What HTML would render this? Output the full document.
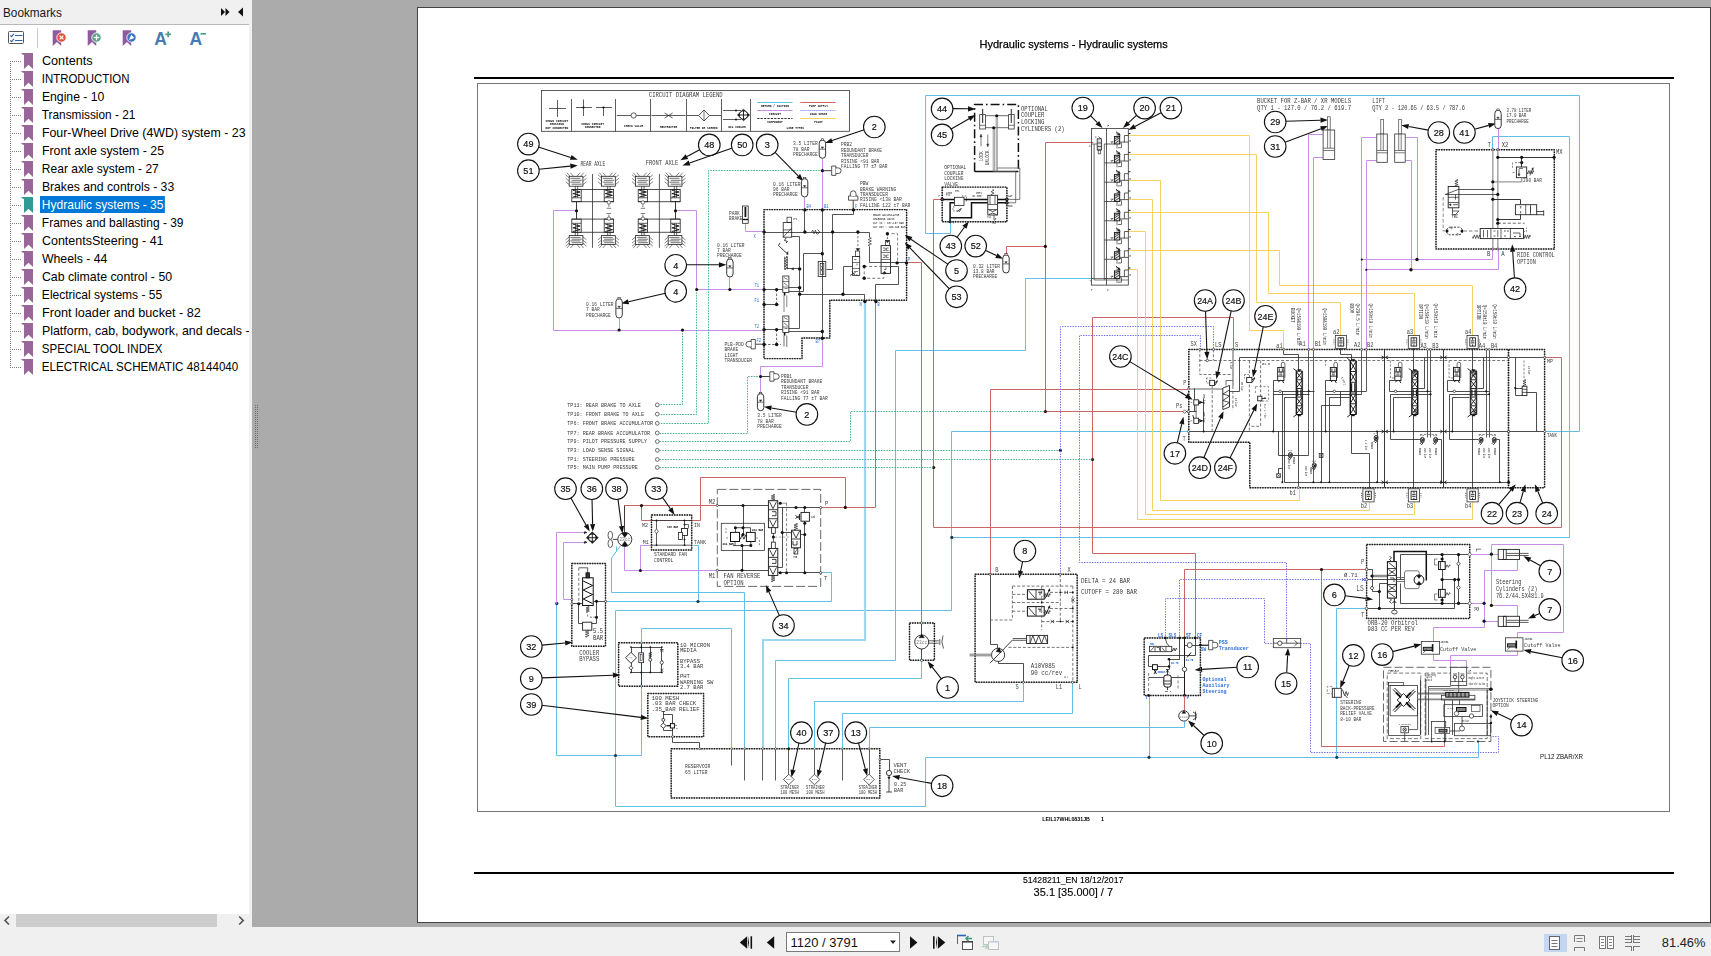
<!DOCTYPE html>
<html><head><meta charset="utf-8"><title>Hydraulic systems</title>
<style>
*{box-sizing:border-box;margin:0;padding:0}
html,body{width:1711px;height:956px;overflow:hidden;background:#ababab;font-family:"Liberation Sans",sans-serif}
#left{position:absolute;left:0;top:0;width:252px;height:927px;background:#f0f0f0;overflow:hidden}
#lhead{position:absolute;left:0;top:0;width:249px;height:25px;background:#f0f0f0;border-bottom:1px solid #b9b9b9;font-size:13px;color:#1a1a1a}
#lhead span{position:absolute;left:3px;top:5px;transform:scaleX(.905);transform-origin:0 50%}
#tree{position:absolute;left:0;top:25px;width:249px;height:889px;background:#fff;overflow:hidden}
.row{position:absolute;left:40px;height:18px;font-size:13px;line-height:18px;color:#000;white-space:nowrap;margin-top:-25px}
.row span{padding:0 2px;display:inline-block;height:17px;line-height:17px;transform-origin:0 50%}
.row.sel span{background:#0078d7;color:#fff}
#lsvg{position:absolute;left:0;top:0}
#bbar{position:absolute;left:0;top:927px;width:1711px;height:29px;background:#f0f0f0}
#page{position:absolute;left:417px;top:7px;width:1294px;height:916px;background:#fff;border:1px solid #444;overflow:hidden}
#diag{position:absolute;left:0;top:0;will-change:transform}
</style></head>
<body>
<div id="left">
<div id="lhead"><span>Bookmarks</span></div>
<div id="tree">
<div class="row" style="top:52px"><span style="transform:scaleX(0.9721)">Contents</span></div>
<div class="row" style="top:70px"><span style="transform:scaleX(0.8803)">INTRODUCTION</span></div>
<div class="row" style="top:88px"><span style="transform:scaleX(0.9401)">Engine - 10</span></div>
<div class="row" style="top:106px"><span style="transform:scaleX(0.9090)">Transmission - 21</span></div>
<div class="row" style="top:124px"><span style="transform:scaleX(0.9523)">Four-Wheel Drive (4WD) system - 23</span></div>
<div class="row" style="top:142px"><span style="transform:scaleX(0.9498)">Front axle system - 25</span></div>
<div class="row" style="top:160px"><span style="transform:scaleX(0.9251)">Rear axle system - 27</span></div>
<div class="row" style="top:178px"><span style="transform:scaleX(0.9390)">Brakes and controls - 33</span></div>
<div class="row sel" style="top:196px"><span style="transform:scaleX(0.9249)">Hydraulic systems - 35</span></div>
<div class="row" style="top:214px"><span style="transform:scaleX(0.9205)">Frames and ballasting - 39</span></div>
<div class="row" style="top:232px"><span style="transform:scaleX(0.9616)">ContentsSteering - 41</span></div>
<div class="row" style="top:250px"><span style="transform:scaleX(0.9446)">Wheels - 44</span></div>
<div class="row" style="top:268px"><span style="transform:scaleX(0.9486)">Cab climate control - 50</span></div>
<div class="row" style="top:286px"><span style="transform:scaleX(0.9256)">Electrical systems - 55</span></div>
<div class="row" style="top:304px"><span style="transform:scaleX(0.9727)">Front loader and bucket - 82</span></div>
<div class="row" style="top:322px"><span style="transform:scaleX(0.9548)">Platform, cab, bodywork, and decals - 90</span></div>
<div class="row" style="top:340px"><span style="transform:scaleX(0.8878)">SPECIAL TOOL INDEX</span></div>
<div class="row" style="top:358px"><span style="transform:scaleX(0.8916)">ELECTRICAL SCHEMATIC 48144040</span></div>
</div>
<svg id="lsvg" width="252" height="927" viewBox="0 0 252 927"><path d="M221 8 l4 4 -4 4z M225.5 8 l4 4 -4 4z" fill="#111"/><path d="M243 7.5 l-5 4.5 5 4.5z" fill="#111"/><rect x="8.5" y="31.5" width="15" height="12" rx="1" fill="#fff" stroke="#555" stroke-width="1"/><path d="M10.300 35.300l1.300 1.300 2.300-2.800M10.300 40.300l1.300 1.300 2.300-2.800" stroke="#2f62b0" stroke-width="1.100" fill="none"/><path d="M15 35.500h7.500M15 40.500h7.500" stroke="#2f62b0" stroke-width="1.200"/><path d="M37.5 28v20" stroke="#c8c8c8" stroke-width="1"/><path d="M52.7 30.200h8.500v15.700l-4.250-3.800l-4.250 3.800z" fill="#8e5aa0"/><circle cx="61.5" cy="37.500" r="4.700" fill="#e0533c" stroke="#fff" stroke-width="0.9"/><path d="M59.6 35.600l3.800 3.800M63.4 35.600l-3.800 3.800" stroke="#fff" stroke-width="1.3"/><path d="M87.7 30.200h8.500v15.700l-4.250-3.800l-4.250 3.800z" fill="#8e5aa0"/><circle cx="96.5" cy="37.500" r="4.700" fill="#53a283" stroke="#fff" stroke-width="0.9"/><path d="M93.8 37.500h5.400M96.5 34.800v5.400" stroke="#fff" stroke-width="1.3"/><path d="M122.7 30.200h8.500v15.700l-4.250-3.800l-4.250 3.800z" fill="#8e5aa0"/><circle cx="131.5" cy="37.500" r="4.700" fill="#3f74c0" stroke="#fff" stroke-width="0.9"/><path d="M128.9 40l2.400-5.300 3 3.300z" fill="#fff"/><text x="154.300" y="44.800" font-family="Liberation Sans" font-weight="bold" font-size="17.5" fill="#4a7ab5">A</text><path d="M165.300 34.300h5.800M168.200 31.400v5.800" stroke="#4f9f88" stroke-width="1.7"/><text x="189.600" y="44.800" font-family="Liberation Sans" font-weight="bold" font-size="17.5" fill="#4a7ab5">A</text><path d="M200.500 33.800h5.500" stroke="#4f9f88" stroke-width="1.700"/><path d="M10.5 61V368" stroke="#808080" stroke-width="1" stroke-dasharray="1 1"/><path d="M10 61.5H21" stroke="#808080" stroke-width="1" stroke-dasharray="1 1"/><path d="M24 53h9v16l-4.5-4.200l-4.5 4.200z" fill="#996699"/><path d="M21 53h3.500v1.800h-1.800z" fill="#996699"/><path d="M10 79.5H21" stroke="#808080" stroke-width="1" stroke-dasharray="1 1"/><path d="M24 71h9v16l-4.5-4.200l-4.5 4.200z" fill="#996699"/><path d="M21 71h3.500v1.800h-1.800z" fill="#996699"/><path d="M10 97.5H21" stroke="#808080" stroke-width="1" stroke-dasharray="1 1"/><path d="M24 89h9v16l-4.5-4.200l-4.5 4.200z" fill="#996699"/><path d="M21 89h3.500v1.800h-1.800z" fill="#996699"/><path d="M10 115.5H21" stroke="#808080" stroke-width="1" stroke-dasharray="1 1"/><path d="M24 107h9v16l-4.5-4.200l-4.5 4.200z" fill="#996699"/><path d="M21 107h3.500v1.800h-1.800z" fill="#996699"/><path d="M10 133.5H21" stroke="#808080" stroke-width="1" stroke-dasharray="1 1"/><path d="M24 125h9v16l-4.5-4.200l-4.5 4.200z" fill="#996699"/><path d="M21 125h3.500v1.800h-1.800z" fill="#996699"/><path d="M10 151.5H21" stroke="#808080" stroke-width="1" stroke-dasharray="1 1"/><path d="M24 143h9v16l-4.5-4.200l-4.5 4.200z" fill="#996699"/><path d="M21 143h3.500v1.800h-1.800z" fill="#996699"/><path d="M10 169.5H21" stroke="#808080" stroke-width="1" stroke-dasharray="1 1"/><path d="M24 161h9v16l-4.5-4.200l-4.5 4.200z" fill="#996699"/><path d="M21 161h3.500v1.800h-1.800z" fill="#996699"/><path d="M10 187.5H21" stroke="#808080" stroke-width="1" stroke-dasharray="1 1"/><path d="M24 179h9v16l-4.5-4.200l-4.5 4.200z" fill="#996699"/><path d="M21 179h3.500v1.800h-1.800z" fill="#996699"/><path d="M10 205.5H21" stroke="#808080" stroke-width="1" stroke-dasharray="1 1"/><path d="M24 197h9v16l-4.5-4.200l-4.5 4.200z" fill="#2f9b94"/><path d="M21 197h3.500v1.800h-1.800z" fill="#2f9b94"/><path d="M10 223.5H21" stroke="#808080" stroke-width="1" stroke-dasharray="1 1"/><path d="M24 215h9v16l-4.5-4.200l-4.5 4.200z" fill="#996699"/><path d="M21 215h3.500v1.800h-1.800z" fill="#996699"/><path d="M10 241.5H21" stroke="#808080" stroke-width="1" stroke-dasharray="1 1"/><path d="M24 233h9v16l-4.5-4.200l-4.5 4.200z" fill="#996699"/><path d="M21 233h3.500v1.800h-1.800z" fill="#996699"/><path d="M10 259.5H21" stroke="#808080" stroke-width="1" stroke-dasharray="1 1"/><path d="M24 251h9v16l-4.5-4.200l-4.5 4.200z" fill="#996699"/><path d="M21 251h3.500v1.800h-1.800z" fill="#996699"/><path d="M10 277.5H21" stroke="#808080" stroke-width="1" stroke-dasharray="1 1"/><path d="M24 269h9v16l-4.5-4.200l-4.5 4.200z" fill="#996699"/><path d="M21 269h3.500v1.800h-1.800z" fill="#996699"/><path d="M10 295.5H21" stroke="#808080" stroke-width="1" stroke-dasharray="1 1"/><path d="M24 287h9v16l-4.5-4.200l-4.5 4.200z" fill="#996699"/><path d="M21 287h3.500v1.800h-1.800z" fill="#996699"/><path d="M10 313.5H21" stroke="#808080" stroke-width="1" stroke-dasharray="1 1"/><path d="M24 305h9v16l-4.5-4.200l-4.5 4.200z" fill="#996699"/><path d="M21 305h3.500v1.800h-1.800z" fill="#996699"/><path d="M10 331.5H21" stroke="#808080" stroke-width="1" stroke-dasharray="1 1"/><path d="M24 323h9v16l-4.5-4.200l-4.5 4.200z" fill="#996699"/><path d="M21 323h3.500v1.800h-1.800z" fill="#996699"/><path d="M10 349.5H21" stroke="#808080" stroke-width="1" stroke-dasharray="1 1"/><path d="M24 341h9v16l-4.5-4.200l-4.5 4.200z" fill="#996699"/><path d="M21 341h3.500v1.800h-1.800z" fill="#996699"/><path d="M10 367.5H21" stroke="#808080" stroke-width="1" stroke-dasharray="1 1"/><path d="M24 359h9v16l-4.5-4.200l-4.5 4.200z" fill="#996699"/><path d="M21 359h3.500v1.800h-1.800z" fill="#996699"/><rect x="0" y="914" width="249" height="13" fill="#f0f0f0"/><rect x="16" y="914" width="201" height="13" fill="#cdcdcd"/><path d="M9 916.5l-4 4 4 4" stroke="#505050" stroke-width="1.6" fill="none"/><path d="M239.200 916.500l4 4 -4 4" stroke="#505050" stroke-width="1.6" fill="none"/></svg>
</div>
<svg width="8" height="50" viewBox="252 402 8 50" style="position:absolute;left:252px;top:402px"><path d="M255.500 405v44M257.500 405v44" stroke="#6e6e6e" stroke-width="1" stroke-dasharray="1 1"/></svg>
<div id="bbar">
<svg width="1711" height="29" viewBox="0 927 1711 29" style="position:absolute;left:0;top:0">
<path d="M747.2 936.300v12.400l-7.400-6.200z" fill="#111"/><path d="M749 936.300v12.400l-1-6.200z" fill="#111"/><path d="M751.300 936.300v12.400" stroke="#111" stroke-width="1.6"/>
<path d="M774.200 936.300v12.400l-7.400-6.200z" fill="#111"/>
<rect x="786.5" y="932.5" width="113" height="19" fill="#fff" stroke="#7a7a7a"/>
<path d="M890 940.5h6l-3 3.5z" fill="#222"/>
<path d="M910 936.300v12.400l7.400-6.200z" fill="#111"/>
<path d="M933.800 936.300v12.400" stroke="#111" stroke-width="1.6"/><path d="M936 936.300v12.400l1-6.200z" fill="#111"/><path d="M937.900 936.300v12.400l7.400-6.200z" fill="#111"/>
<path d="M957.5 944v-8.5h8" stroke="#666" fill="none"/><path d="M957 935.5h9" stroke="#2f63b5" stroke-width="1.6"/><rect x="962.5" y="941.5" width="10" height="8" fill="#fff" stroke="#555"/><path d="M962 941.8h11" stroke="#444" stroke-width="1.6"/><path d="M972 938.5h-6m2.5-2.5l-2.5 2.5 2.5 2.5" stroke="#3f9a78" stroke-width="1.5" fill="none"/>
<g opacity="0.45"><rect x="983.5" y="936.5" width="10" height="8" fill="#fff" stroke="#888"/><rect x="988.5" y="941.5" width="10" height="8" fill="#fff" stroke="#888"/><path d="M988 941.8h11" stroke="#8aa6d6" stroke-width="1.6"/><path d="M982 946.5h6m-2.5-2.5l2.5 2.5-2.5 2.5" stroke="#6fb08f" stroke-width="1.5" fill="none"/></g>
<text x="790.6" y="947" font-family="Liberation Sans" font-size="13" fill="#111" textLength="67.3" lengthAdjust="spacingAndGlyphs">1120 / 3791</text>
<rect x="1544" y="934" width="23" height="18" fill="#c5d6f3"/>
<rect x="1549.5" y="936.5" width="10" height="13" fill="#fff" stroke="#666"/><path d="M1551.5 940.5h6M1551.5 943.5h6M1551.5 946.5h6" stroke="#777"/>
<path d="M1574.5 942v-6.5h10v6.5M1574.5 951v-3.500h10v3.5" stroke="#777" fill="none"/><path d="M1576.5 938.5h6M1576.5 941.5h6" stroke="#888"/>
<rect x="1599.500" y="936.5" width="6" height="12" fill="#fff" stroke="#777"/><rect x="1607.500" y="936.5" width="6" height="12" fill="#fff" stroke="#777"/><path d="M1601 939.5h3M1601 942.5h3M1601 945.5h3M1609 939.5h3M1609 942.5h3M1609 945.5h3" stroke="#888"/>
<path d="M1625 936.500h6M1625 939.5h6M1625 942.5h6M1634 936.500h6M1634 939.5h6M1634 942.5h6M1625 946.500h6M1634 946.5h6" stroke="#777"/><path d="M1631.500 935v8M1633.500 935v8M1631.500 946v5M1633.500 946v5" stroke="#777"/>
<text x="1661.8" y="946.700" font-family="Liberation Sans" font-size="13" fill="#222" textLength="43.7" lengthAdjust="spacingAndGlyphs">81.46%</text>
</svg></div>
<div id="page">
<svg id="diag" width="1294" height="916" viewBox="418 8 1294 916">
<path d="M474 78H1674" stroke="#000" stroke-width="2" fill="none"/>
<path d="M474 873H1674" stroke="#000" stroke-width="2" fill="none"/>
<rect x="477.5" y="83.5" width="1192" height="728" fill="none" stroke="#777" stroke-width="1"/>
<text x="1073.600" y="48" font-family="Liberation Sans" font-size="11" text-anchor="middle" fill="#000" stroke="#000" stroke-width="0.25">Hydraulic systems - Hydraulic systems</text>
<text x="1022.9" y="883" font-family="Liberation Sans" font-size="8.7" textLength="100.4" lengthAdjust="spacingAndGlyphs" fill="#000" stroke="#000" stroke-width="0.12">51428211_EN 18/12/2017</text>
<text x="1033.6" y="896" font-family="Liberation Sans" font-size="10.8" textLength="79.5" lengthAdjust="spacingAndGlyphs" fill="#000" stroke="#000" stroke-width="0.12">35.1 [35.000] / 7</text>
<text x="1042.2" y="821" font-family="Liberation Sans" font-size="4.800" font-weight="bold" textLength="47.7" lengthAdjust="spacingAndGlyphs" fill="#000">LEIL17WHL0831JB</text>
<text x="1101" y="821" font-family="Liberation Sans" font-size="5.5" font-weight="bold" fill="#000">1</text>
<text x="1540" y="759" font-family="Liberation Sans" font-size="6.6" fill="#111" textLength="43" lengthAdjust="spacingAndGlyphs">PL12 ZBAR/XR</text>
<rect x="541.5" y="90.5" width="308" height="40.8" fill="none" stroke="#333" stroke-width="0.8"/>
<path d="M571.5 99V131.3" stroke="#333" stroke-width="0.8" fill="none"/>
<path d="M615.5 99V131.3" stroke="#333" stroke-width="0.8" fill="none"/>
<path d="M650.5 99V131.3" stroke="#333" stroke-width="0.8" fill="none"/>
<path d="M686.5 99V131.3" stroke="#333" stroke-width="0.8" fill="none"/>
<path d="M721.5 99V131.3" stroke="#333" stroke-width="0.8" fill="none"/>
<path d="M750.5 99V131.3" stroke="#333" stroke-width="0.8" fill="none"/>
<text transform="translate(685.7 96.9) scale(0.933 1.313)" font-family="Liberation Mono" font-size="6.0" font-weight="normal" text-anchor="middle" fill="#3a3a3a">CIRCUIT DIAGRAM LEGEND</text>
<path d="M549 108.5H566M557.5 100V117" stroke="#333" stroke-width="0.8" fill="none"/>
<path d="M576 107.5H592M583.5 99.5V116" stroke="#333" stroke-width="0.8" fill="none"/>
<circle cx="583.5" cy="107.5" r="1.1" fill="#111"/>
<path d="M596 107.5H612M603.5 107.5V116" stroke="#333" stroke-width="0.8" fill="none"/>
<circle cx="603.5" cy="107.5" r="1.1" fill="#111"/>
<path d="M616.8 115.5H650" stroke="#333" stroke-width="0.8" fill="none"/>
<circle cx="633.6" cy="115.5" r="2.6" fill="#fff" stroke="#333" stroke-width="0.8"/>
<path d="M651.5 115.5H685.7M664.6 113L672.6 118M664.6 118L672.6 113" stroke="#333" stroke-width="0.8" fill="none"/>
<path d="M687 115.5H721" stroke="#333" stroke-width="0.8" fill="none"/>
<path d="M704 110 L709.5 115.5 L704 121 L698.5 115.5Z" stroke="#333" stroke-width="0.8" fill="#fff"/>
<path d="M704 110V121" stroke="#333" stroke-width="0.7" fill="none"/>
<path d="M723 110.5H741M723 119.500H741" stroke="#333" stroke-width="0.8" fill="none"/>
<circle cx="736" cy="110.5" r="1" fill="#111"/>
<circle cx="736" cy="119.5" r="1" fill="#111"/>
<path d="M743.5 109.2 L749.6 115 L743.5 120.8 L737.4 115Z" stroke="#111" stroke-width="0.5" fill="#111"/>
<circle cx="743.5" cy="115" r="4.2" fill="#fff" stroke="#111" stroke-width="0.9"/>
<path d="M739.3 115H747.7M743.5 110.800V119.200" stroke="#111" stroke-width="0.9" fill="none"/>
<path d="M757.2 102.500H792.5" stroke="#64bfe8" stroke-width="1" fill="none"/>
<path d="M757.2 110.5H792.5" stroke="#c88eea" stroke-width="1" fill="none"/>
<path d="M757.2 118.5H792.5" stroke="#333" stroke-width="1.2" fill="none" stroke-dasharray="2.2 1.200"/>
<path d="M800.4 102.500H835.6" stroke="#c96866" stroke-width="1" fill="none"/>
<path d="M800.4 110.5H835.6" stroke="#7070f4" stroke-width="1" fill="none" stroke-dasharray="1 1"/>
<path d="M800.4 118.5H835.6" stroke="#f5d264" stroke-width="1" fill="none"/>
<text transform="translate(775 107) scale(0.486 0.707)" font-family="Liberation Mono" font-size="6.0" font-weight="bold" text-anchor="middle" fill="#111">RETURN / SUCTION</text>
<text transform="translate(775 115.2) scale(0.486 0.707)" font-family="Liberation Mono" font-size="6.0" font-weight="bold" text-anchor="middle" fill="#111">CIRCUIT</text>
<text transform="translate(775 123.2) scale(0.486 0.707)" font-family="Liberation Mono" font-size="6.0" font-weight="bold" text-anchor="middle" fill="#111">COMPONENT</text>
<text transform="translate(818.5 107) scale(0.486 0.707)" font-family="Liberation Mono" font-size="6.0" font-weight="bold" text-anchor="middle" fill="#111">PUMP SUPPLY</text>
<text transform="translate(818.5 115) scale(0.486 0.707)" font-family="Liberation Mono" font-size="6.0" font-weight="bold" text-anchor="middle" fill="#111">LOAD SENSE</text>
<text transform="translate(818.5 123.2) scale(0.486 0.707)" font-family="Liberation Mono" font-size="6.0" font-weight="bold" text-anchor="middle" fill="#111">PILOT</text>
<text transform="translate(795.3 129.2) scale(0.486 0.707)" font-family="Liberation Mono" font-size="6.0" font-weight="bold" text-anchor="middle" fill="#111">LINE TYPES</text>
<text transform="translate(556.8 122) scale(0.486 0.707)" font-family="Liberation Mono" font-size="6.0" font-weight="bold" text-anchor="middle" fill="#111">SHOWS CIRCUIT</text>
<text transform="translate(556.8 125.4) scale(0.486 0.707)" font-family="Liberation Mono" font-size="6.0" font-weight="bold" text-anchor="middle" fill="#111">CROSSING</text>
<text transform="translate(556.8 128.8) scale(0.486 0.707)" font-family="Liberation Mono" font-size="6.0" font-weight="bold" text-anchor="middle" fill="#111">NOT CONNECTED</text>
<text transform="translate(592.6 124.8) scale(0.486 0.707)" font-family="Liberation Mono" font-size="6.0" font-weight="bold" text-anchor="middle" fill="#111">SHOWS CIRCUIT</text>
<text transform="translate(592.6 128.2) scale(0.486 0.707)" font-family="Liberation Mono" font-size="6.0" font-weight="bold" text-anchor="middle" fill="#111">CONNECTED</text>
<text transform="translate(633.6 126.9) scale(0.486 0.707)" font-family="Liberation Mono" font-size="6.0" font-weight="bold" text-anchor="middle" fill="#111">CHECK VALVE</text>
<text transform="translate(668.6 127.7) scale(0.486 0.707)" font-family="Liberation Mono" font-size="6.0" font-weight="bold" text-anchor="middle" fill="#111">RESTRICTOR</text>
<text transform="translate(703.6 128.7) scale(0.486 0.707)" font-family="Liberation Mono" font-size="6.0" font-weight="bold" text-anchor="middle" fill="#111">FILTER OR SCREEN</text>
<text transform="translate(737 128.2) scale(0.486 0.707)" font-family="Liberation Mono" font-size="6.0" font-weight="bold" text-anchor="middle" fill="#111">OIL COOLER</text>
<path d="M950.5 222.5 V233.5 H925.5 V95.5 H1579.5 V431.5 H1544.5" stroke="#64bfe8" stroke-width="1" fill="none"/>
<path d="M1492.5 149.5 V136.5 H1569.5 V537.5 H951.5" stroke="#64bfe8" stroke-width="1" fill="none"/>
<path d="M1093.5 278.5 H1025.5 V350.5 H895.5 V660.5 H775.5 V748.5" stroke="#64bfe8" stroke-width="1" fill="none"/>
<path d="M1189.5 431.5 H951.5 V610.5 H615.5 V806.5 H925.5 V757.5 H1478.5 V740.5" stroke="#64bfe8" stroke-width="1" fill="none"/>
<path d="M865 302 V640 H763 V749" stroke="#9fd6ef" stroke-width="2.2" fill="none"/>
<path d="M616.5 546.5 V551.5" stroke="#64bfe8" stroke-width="1" fill="none"/>
<path d="M620.3 546 L611.5 558 V592.5 H744.5 V748.7" stroke="#64bfe8" stroke-width="1" fill="none"/>
<path d="M693.5 545.5 H698.5 V601.5" stroke="#64bfe8" stroke-width="1" fill="none"/>
<path d="M605.5 601.5 H831.5 V572.5 H820.5" stroke="#64bfe8" stroke-width="1" fill="none"/>
<path d="M556.5 603.5 V755.5 H641.5 V628.5 H731.5 V748.5" stroke="#64bfe8" stroke-width="1" fill="none"/>
<path d="M788.5 748.5 V678.5 H921.5 V660.5" stroke="#64bfe8" stroke-width="1" fill="none"/>
<path d="M814.5 748.5 V701.5 H1023.5 V682.5" stroke="#64bfe8" stroke-width="1" fill="none"/>
<path d="M842.5 748.5 V713.5 H1072.5 V682.5" stroke="#64bfe8" stroke-width="1" fill="none"/>
<path d="M869.5 748.5 V727.5 H1184.5 V721.5" stroke="#64bfe8" stroke-width="1" fill="none"/>
<path d="M1149.5 695.5 V757.5" stroke="#64bfe8" stroke-width="1" fill="none"/>
<path d="M1367.5 608.5 H1336.5 V757.5" stroke="#64bfe8" stroke-width="1" fill="none"/>
<circle cx="951.8" cy="537.4" r="1.6" fill="#0b3a52"/>
<circle cx="615.5" cy="755.5" r="1.6" fill="#0b3a52"/>
<circle cx="698" cy="601.5" r="1.6" fill="#0b3a52"/>
<circle cx="556.8" cy="603.4" r="1.6" fill="#0b3a52"/>
<circle cx="1149" cy="757.3" r="1.6" fill="#0b3a52"/>
<circle cx="1336.8" cy="757.3" r="1.6" fill="#0b3a52"/>
<path d="M942.5 199.5 H933.5 V527.5 H1561.5 V357.5 H1544.5" stroke="#c96866" stroke-width="1" fill="none"/>
<path d="M1093.5 142.5 H1045.5 V411.5 H1184.5" stroke="#c96866" stroke-width="1" fill="none"/>
<path d="M1045.5 246.5 H1006.5 V254.5" stroke="#c96866" stroke-width="1" fill="none"/>
<path d="M906.5 262.5 H921.5 V622.5" stroke="#c96866" stroke-width="1" fill="none"/>
<path d="M990.5 574.5 V389.5 H1188.5" stroke="#c96866" stroke-width="1" fill="none"/>
<path d="M1233.5 349.5 V317.5 H1092.5 V553.5 H1195.5 V638.5" stroke="#c96866" stroke-width="1" fill="none"/>
<path d="M1184.5 710.5 V569.5 H1367.5" stroke="#c96866" stroke-width="1" fill="none"/>
<path d="M1321.5 569.5 V746.5 H1444.5 V740.5" stroke="#c96866" stroke-width="1" fill="none"/>
<path d="M875.5 301.5 V507.5 H820.5" stroke="#c96866" stroke-width="1" fill="none"/>
<path d="M845.5 507.5 V477.5 H700.5 V520.5 H641.5 V505.5" stroke="#c96866" stroke-width="1" fill="none"/>
<path d="M717.5 505.5 H624.5 V533.5" stroke="#c96866" stroke-width="1" fill="none"/>
<circle cx="1045.4" cy="246.4" r="1.6" fill="#2a0808"/>
<circle cx="1045.4" cy="411.5" r="1.6" fill="#2a0808"/>
<circle cx="933.7" cy="467.5" r="1.6" fill="#2a0808"/>
<circle cx="1092.5" cy="459.5" r="1.6" fill="#2a0808"/>
<circle cx="845.3" cy="507.4" r="1.6" fill="#2a0808"/>
<circle cx="641.5" cy="505.6" r="1.6" fill="#2a0808"/>
<circle cx="1321.5" cy="569.5" r="1.6" fill="#2a0808"/>
<path d="M1128.5 135.5 H1249.5 V330.5 H1283.5 V349.5" stroke="#f5d264" stroke-width="1" fill="none"/>
<path d="M1128.5 154.5 H1256.5 V302.5 H1340.5 V335.5" stroke="#f5d264" stroke-width="1" fill="none"/>
<path d="M1128.5 180.5 H1160.5 V500.5 H1299.5 V488.5" stroke="#f5d264" stroke-width="1" fill="none"/>
<path d="M1128.5 199.5 H1152.5 V510.5 H1369.5 V501.5" stroke="#f5d264" stroke-width="1" fill="none"/>
<path d="M1128.5 212.5 H1268.5 V293.5 H1414.5 V335.5" stroke="#f5d264" stroke-width="1" fill="none"/>
<path d="M1128.5 231.5 H1145.5 V514.5 H1414.5 V501.5" stroke="#f5d264" stroke-width="1" fill="none"/>
<path d="M1128.5 250.5 H1279.5 V285.5 H1472.5 V335.5" stroke="#f5d264" stroke-width="1" fill="none"/>
<path d="M1128.5 269.5 H1137.5 V519.5 H1472.5 V501.5" stroke="#f5d264" stroke-width="1" fill="none"/>
<path d="M576.5 210.5 H553.5 V330.5 H764.5" stroke="#c88eea" stroke-width="1" fill="none"/>
<path d="M675.5 210.5 H696.5 V289.5 H764.5" stroke="#c88eea" stroke-width="1" fill="none"/>
<path d="M729.5 277.5 V289.5" stroke="#c88eea" stroke-width="1" fill="none"/>
<path d="M619.5 318.5 V330.5" stroke="#c88eea" stroke-width="1" fill="none"/>
<path d="M804.5 197.5 V209.5" stroke="#c88eea" stroke-width="1" fill="none"/>
<path d="M822.5 158.5 V209.5" stroke="#c88eea" stroke-width="1" fill="none"/>
<path d="M745.5 223.5 V231.5 H764.5" stroke="#c88eea" stroke-width="1" fill="none"/>
<path d="M822.5 338.5 V366.5 H760.5 V393.5" stroke="#c88eea" stroke-width="1" fill="none"/>
<path d="M1323.5 134.5 H1308.5 V349.5" stroke="#c88eea" stroke-width="1" fill="none"/>
<path d="M1323.5 157.5 H1313.5 V349.5" stroke="#c88eea" stroke-width="1" fill="none"/>
<path d="M1376.5 137.5 H1361.5 V349.5" stroke="#c88eea" stroke-width="1" fill="none"/>
<path d="M1376.5 160.5 H1366.5 V349.5" stroke="#c88eea" stroke-width="1" fill="none"/>
<path d="M1405.5 137.5 H1417.5 V259.5" stroke="#c88eea" stroke-width="1" fill="none"/>
<path d="M1405.5 160.5 H1411.5 V269.5" stroke="#c88eea" stroke-width="1" fill="none"/>
<path d="M1361.5 259.5 H1492.5 V249.5" stroke="#c88eea" stroke-width="1" fill="none"/>
<path d="M1366.5 269.5 H1498.5 V249.5" stroke="#c88eea" stroke-width="1" fill="none"/>
<path d="M1498.5 128.5 V149.5" stroke="#c88eea" stroke-width="1" fill="none"/>
<circle cx="1417" cy="259.5" r="1.7" fill="#111"/>
<circle cx="1411" cy="269.8" r="1.7" fill="#111"/>
<circle cx="1361.8" cy="259.5" r="1.1" fill="#111"/>
<circle cx="1366.3" cy="269.8" r="1.1" fill="#111"/>
<path d="M585.5 532.5 H556.5 V603.5" stroke="#c88eea" stroke-width="1" fill="none"/>
<path d="M585.5 542.5 H563.5 V599.5 H572.5" stroke="#c88eea" stroke-width="1" fill="none"/>
<path d="M651.5 545.5 H640.5 V570.5 H717.5" stroke="#c88eea" stroke-width="1" fill="none"/>
<path d="M624.5 546.5 V570.5 H640.5" stroke="#c88eea" stroke-width="1" fill="none"/>
<circle cx="640.4" cy="570.5" r="1.5" fill="#111"/>
<path d="M1470.5 554.5 H1498.5" stroke="#c88eea" stroke-width="1" fill="none"/>
<path d="M1491.5 554.5 V544.5 H1563.5 V632.5 H1517.5 V655.5 H1450.5 V667.5" stroke="#c88eea" stroke-width="1" fill="none"/>
<path d="M1491.5 554.5 V605.5 H1517.5 V616.5" stroke="#c88eea" stroke-width="1" fill="none"/>
<path d="M1517.5 559.5 V570.5 H1484.5 V621.5 H1498.5" stroke="#c88eea" stroke-width="1" fill="none"/>
<path d="M1470.5 603.5 H1484.5" stroke="#c88eea" stroke-width="1" fill="none"/>
<path d="M1484.5 621.5 V627.5 H1433.5 V660.5 H1466.5 V667.5" stroke="#c88eea" stroke-width="1" fill="none"/>
<circle cx="1491.4" cy="554.2" r="1.6" fill="#111"/>
<circle cx="1491.4" cy="605.4" r="1.6" fill="#111"/>
<circle cx="1484.1" cy="603.3" r="1.6" fill="#111"/>
<circle cx="1484.1" cy="621.2" r="1.6" fill="#111"/>
<path d="M822.5 170.5 H708.5 V423.5 H659.5" stroke="#35b085" stroke-width="0.9" fill="none" stroke-dasharray="1.6 1.1"/>
<path d="M682.5 330.5 V404.5 H659.5" stroke="#35b085" stroke-width="0.9" fill="none" stroke-dasharray="1.6 1.1"/>
<path d="M696.5 289.5 V414.5 H659.5" stroke="#35b085" stroke-width="0.9" fill="none" stroke-dasharray="1.6 1.1"/>
<path d="M760.5 376.5 H747.5 V433.5 H659.5" stroke="#35b085" stroke-width="0.9" fill="none" stroke-dasharray="1.6 1.1"/>
<path d="M659.5 441.5 H850.5 V411.5 H1045.5" stroke="#35b085" stroke-width="0.9" fill="none" stroke-dasharray="1.6 1.1"/>
<path d="M659.5 450.5 H1060.5" stroke="#35b085" stroke-width="0.9" fill="none" stroke-dasharray="1.6 1.1"/>
<path d="M659.5 459.5 H1092.5" stroke="#35b085" stroke-width="0.9" fill="none" stroke-dasharray="1.6 1.1"/>
<path d="M659.5 467.5 H933.5" stroke="#35b085" stroke-width="0.9" fill="none" stroke-dasharray="1.6 1.1"/>
<circle cx="1060.4" cy="450.3" r="1.6" fill="#111"/>
<circle cx="822.4" cy="170.7" r="1.6" fill="#111"/>
<circle cx="760.6" cy="376.5" r="1.6" fill="#111"/>
<circle cx="619.1" cy="330" r="1.6" fill="#111"/>
<circle cx="682.5" cy="330" r="1.6" fill="#111"/>
<circle cx="696.7" cy="289.5" r="1.6" fill="#111"/>
<circle cx="729.9" cy="289.5" r="1.6" fill="#111"/>
<path d="M1060.5 574.5 V326.5 H1213.5 V349.5" stroke="#7070f4" stroke-width="1" fill="none" stroke-dasharray="1.4 1.2"/>
<path d="M1200.5 349.5 V335.5 H1079.5 V562.5 H1286.5 V638.5" stroke="#7070f4" stroke-width="1" fill="none" stroke-dasharray="1.4 1.2"/>
<path d="M1165.5 638.5 V598.5 H1264.5 V643.5 H1273.5" stroke="#7070f4" stroke-width="1" fill="none" stroke-dasharray="1.4 1.2"/>
<path d="M1179.5 638.5 V579.5 H1367.5" stroke="#7070f4" stroke-width="1" fill="none" stroke-dasharray="1.4 1.2"/>
<path d="M1300.5 643.5 H1310.5 V752.5 H1498.5 V736.5 H1491.5" stroke="#7070f4" stroke-width="1" fill="none" stroke-dasharray="1.4 1.2"/>
<path d="M764 209.6 L906.6 209.6 L906.6 300.3 L829.8 300.3 L829.8 338 L802 338 L802 358.6 L764 358.6Z" stroke="#b0b0b0" stroke-width="1" fill="none" stroke-linejoin="round"/>
<path d="M764 209.6 L906.6 209.6 L906.6 300.3 L829.8 300.3 L829.8 338 L802 338 L802 358.6 L764 358.6Z" stroke="#1a1a1a" stroke-width="1.45" fill="none" stroke-dasharray="1.5 1" stroke-linejoin="round"/>
<path d="M1436 149.7 L1554.3 149.7 L1554.3 249 L1436 249Z" stroke="#b0b0b0" stroke-width="1" fill="none" stroke-linejoin="round"/>
<path d="M1436 149.7 L1554.3 149.7 L1554.3 249 L1436 249Z" stroke="#1a1a1a" stroke-width="1.45" fill="none" stroke-dasharray="1.5 1" stroke-linejoin="round"/>
<path d="M1188.8 349.4 L1544.6 349.4 L1544.6 487.7 L1249.8 487.7 L1249.8 442.2 L1188.8 442.2Z" stroke="#b0b0b0" stroke-width="1" fill="none" stroke-linejoin="round"/>
<path d="M1188.8 349.4 L1544.6 349.4 L1544.6 487.7 L1249.8 487.7 L1249.8 442.2 L1188.8 442.2Z" stroke="#1a1a1a" stroke-width="1.45" fill="none" stroke-dasharray="1.5 1" stroke-linejoin="round"/>
<path d="M1508.5 349.4V487.7" stroke="#b0b0b0" stroke-width="1" fill="none"/>
<path d="M1508.5 349.4V487.7" stroke="#1a1a1a" stroke-width="1.7" fill="none" stroke-dasharray="1.5 1"/>
<path d="M717.3 489.4H820.7V586.4H717.3Z" stroke="#444" stroke-width="0.8" fill="none" stroke-dasharray="9 3"/>
<path d="M651.5 515 L691.7 515 L691.7 550 L651.5 550Z" stroke="#b0b0b0" stroke-width="1" fill="none" stroke-linejoin="round"/>
<path d="M651.5 515 L691.7 515 L691.7 550 L651.5 550Z" stroke="#1a1a1a" stroke-width="1.45" fill="none" stroke-dasharray="1.5 1" stroke-linejoin="round"/>
<path d="M571.8 563.4 L605.5 563.4 L605.5 646.2 L571.8 646.2Z" stroke="#b0b0b0" stroke-width="1" fill="none" stroke-linejoin="round"/>
<path d="M571.8 563.4 L605.5 563.4 L605.5 646.2 L571.8 646.2Z" stroke="#1a1a1a" stroke-width="1.45" fill="none" stroke-dasharray="1.5 1" stroke-linejoin="round"/>
<path d="M618.6 642.8 L677.8 642.8 L677.8 686.2 L618.6 686.2Z" stroke="#b0b0b0" stroke-width="1" fill="none" stroke-linejoin="round"/>
<path d="M618.6 642.8 L677.8 642.8 L677.8 686.2 L618.6 686.2Z" stroke="#1a1a1a" stroke-width="1.45" fill="none" stroke-dasharray="1.5 1" stroke-linejoin="round"/>
<path d="M647.8 693.5 L703.6 693.5 L703.6 736.7 L647.8 736.7Z" stroke="#b0b0b0" stroke-width="1" fill="none" stroke-linejoin="round"/>
<path d="M647.8 693.5 L703.6 693.5 L703.6 736.7 L647.8 736.7Z" stroke="#1a1a1a" stroke-width="1.45" fill="none" stroke-dasharray="1.5 1" stroke-linejoin="round"/>
<path d="M671.2 748.7 L879.8 748.7 L879.8 797.9 L671.2 797.9Z" stroke="#b0b0b0" stroke-width="1" fill="none" stroke-linejoin="round"/>
<path d="M671.2 748.7 L879.8 748.7 L879.8 797.9 L671.2 797.9Z" stroke="#1a1a1a" stroke-width="1.45" fill="none" stroke-dasharray="1.5 1" stroke-linejoin="round"/>
<path d="M538.4 146.9L570.7 157.4" stroke="#111" stroke-width="1.1"/>
<path d="M577.8 159.7L569.9 159.8L571.5 154.9Z" fill="#111"/>
<circle cx="528.4" cy="144.1" r="10.8" fill="#fff" stroke="#111" stroke-width="1.1"/>
<text x="528.4" y="147.4" font-family="Liberation Sans" font-size="9.1" text-anchor="middle" fill="#111" stroke="#111" stroke-width="0.18">49</text>
<path d="M538.9 169.2L570.3 166.1" stroke="#111" stroke-width="1.1"/>
<path d="M577.8 165.4L570.6 168.7L570.1 163.5Z" fill="#111"/>
<circle cx="528.4" cy="170.7" r="10.8" fill="#fff" stroke="#111" stroke-width="1.1"/>
<text x="528.4" y="174" font-family="Liberation Sans" font-size="9.1" text-anchor="middle" fill="#111" stroke="#111" stroke-width="0.18">51</text>
<path d="M700.1 149.4L687 156.6" stroke="#111" stroke-width="1.1"/>
<path d="M680.4 160.2L685.7 154.3L688.2 158.9Z" fill="#111"/>
<circle cx="709.3" cy="144.9" r="10.8" fill="#fff" stroke="#111" stroke-width="1.1"/>
<text x="709.3" y="148.2" font-family="Liberation Sans" font-size="9.1" text-anchor="middle" fill="#111" stroke="#111" stroke-width="0.18">48</text>
<path d="M732.3 147.9L689.6 162.9" stroke="#111" stroke-width="1.1"/>
<path d="M682.5 165.4L688.7 160.5L690.4 165.4Z" fill="#111"/>
<circle cx="742.2" cy="144.9" r="10.8" fill="#fff" stroke="#111" stroke-width="1.1"/>
<text x="742.2" y="148.2" font-family="Liberation Sans" font-size="9.1" text-anchor="middle" fill="#111" stroke="#111" stroke-width="0.18">50</text>
<path d="M774.6 151.9L798.2 175.9" stroke="#111" stroke-width="1.1"/>
<path d="M803.5 181.2L796.4 177.7L800.1 174Z" fill="#111"/>
<circle cx="767.2" cy="144.9" r="10.8" fill="#fff" stroke="#111" stroke-width="1.1"/>
<text x="767.2" y="148.2" font-family="Liberation Sans" font-size="9.1" text-anchor="middle" fill="#111" stroke="#111" stroke-width="0.18">3</text>
<path d="M864.3 129.8L832.1 140.6" stroke="#111" stroke-width="1.1"/>
<path d="M825 143L831.3 138.2L832.9 143.1Z" fill="#111"/>
<circle cx="874.3" cy="127" r="10.8" fill="#fff" stroke="#111" stroke-width="1.1"/>
<text x="874.3" y="130.3" font-family="Liberation Sans" font-size="9.1" text-anchor="middle" fill="#111" stroke="#111" stroke-width="0.18">2</text>
<path d="M686.2 264.8L718.9 264.8" stroke="#111" stroke-width="1.1"/>
<path d="M726.4 264.8L718.9 267.4L718.9 262.2Z" fill="#111"/>
<circle cx="675.7" cy="265.3" r="10.8" fill="#fff" stroke="#111" stroke-width="1.1"/>
<text x="675.7" y="268.6" font-family="Liberation Sans" font-size="9.1" text-anchor="middle" fill="#111" stroke="#111" stroke-width="0.18">4</text>
<path d="M665.5 293.2L628.5 301.7" stroke="#111" stroke-width="1.1"/>
<path d="M621.2 303.4L627.9 299.2L629.1 304.2Z" fill="#111"/>
<circle cx="675.7" cy="291.3" r="10.8" fill="#fff" stroke="#111" stroke-width="1.1"/>
<text x="675.7" y="294.6" font-family="Liberation Sans" font-size="9.1" text-anchor="middle" fill="#111" stroke="#111" stroke-width="0.18">4</text>
<path d="M952.6 108.6L968 108.8" stroke="#111" stroke-width="1.1"/>
<path d="M975.5 108.9L968 111.4L968 106.2Z" fill="#111"/>
<circle cx="942.1" cy="108.9" r="10.8" fill="#fff" stroke="#111" stroke-width="1.1"/>
<text x="942.1" y="112.2" font-family="Liberation Sans" font-size="9.1" text-anchor="middle" fill="#111" stroke="#111" stroke-width="0.18">44</text>
<path d="M951.2 129.1L969 118.8" stroke="#111" stroke-width="1.1"/>
<path d="M975.5 115L970.3 121L967.7 116.5Z" fill="#111"/>
<circle cx="942.1" cy="134.9" r="10.8" fill="#fff" stroke="#111" stroke-width="1.1"/>
<text x="942.1" y="138.2" font-family="Liberation Sans" font-size="9.1" text-anchor="middle" fill="#111" stroke="#111" stroke-width="0.18">45</text>
<path d="M1090.1 115.2L1097.3 122.7" stroke="#111" stroke-width="1.1"/>
<path d="M1102.5 128.1L1095.4 124.5L1099.2 120.9Z" fill="#111"/>
<circle cx="1082.8" cy="108.1" r="10.8" fill="#fff" stroke="#111" stroke-width="1.1"/>
<text x="1082.8" y="111.4" font-family="Liberation Sans" font-size="9.1" text-anchor="middle" fill="#111" stroke="#111" stroke-width="0.18">19</text>
<path d="M1137 114.8L1128.4 122.9" stroke="#111" stroke-width="1.1"/>
<path d="M1123 128.1L1126.7 121.1L1130.2 124.8Z" fill="#111"/>
<circle cx="1144.6" cy="108.1" r="10.8" fill="#fff" stroke="#111" stroke-width="1.1"/>
<text x="1144.6" y="111.4" font-family="Liberation Sans" font-size="9.1" text-anchor="middle" fill="#111" stroke="#111" stroke-width="0.18">20</text>
<path d="M1161.6 112.5L1134.9 126.5" stroke="#111" stroke-width="1.1"/>
<path d="M1128.3 130L1133.7 124.2L1136.1 128.8Z" fill="#111"/>
<circle cx="1170.9" cy="108.1" r="10.8" fill="#fff" stroke="#111" stroke-width="1.1"/>
<text x="1170.9" y="111.4" font-family="Liberation Sans" font-size="9.1" text-anchor="middle" fill="#111" stroke="#111" stroke-width="0.18">21</text>
<path d="M1285.7 121.2L1320.5 120.2" stroke="#111" stroke-width="1.1"/>
<path d="M1328 120L1320.6 122.8L1320.4 117.6Z" fill="#111"/>
<circle cx="1275.2" cy="122" r="10.8" fill="#fff" stroke="#111" stroke-width="1.1"/>
<text x="1275.2" y="125.3" font-family="Liberation Sans" font-size="9.1" text-anchor="middle" fill="#111" stroke="#111" stroke-width="0.18">29</text>
<path d="M1285 142.3L1321 128.7" stroke="#111" stroke-width="1.1"/>
<path d="M1328 126L1321.9 131.1L1320.1 126.2Z" fill="#111"/>
<circle cx="1275.2" cy="146.5" r="10.8" fill="#fff" stroke="#111" stroke-width="1.1"/>
<text x="1275.2" y="149.8" font-family="Liberation Sans" font-size="9.1" text-anchor="middle" fill="#111" stroke="#111" stroke-width="0.18">31</text>
<path d="M1428.5 130.1L1408.6 126.5" stroke="#111" stroke-width="1.1"/>
<path d="M1401.2 125.2L1409 124L1408.1 129.1Z" fill="#111"/>
<circle cx="1438.8" cy="132.5" r="10.8" fill="#fff" stroke="#111" stroke-width="1.1"/>
<text x="1438.8" y="135.8" font-family="Liberation Sans" font-size="9.1" text-anchor="middle" fill="#111" stroke="#111" stroke-width="0.18">28</text>
<path d="M1474.5 129.2L1488.7 125.4" stroke="#111" stroke-width="1.1"/>
<path d="M1495.9 123.4L1489.3 127.9L1488 122.9Z" fill="#111"/>
<circle cx="1464.4" cy="132.5" r="10.8" fill="#fff" stroke="#111" stroke-width="1.1"/>
<text x="1464.4" y="135.8" font-family="Liberation Sans" font-size="9.1" text-anchor="middle" fill="#111" stroke="#111" stroke-width="0.18">41</text>
<path d="M1514.4 277.7L1512.7 251.8" stroke="#111" stroke-width="1.1"/>
<path d="M1512.2 244.3L1515.3 251.6L1510.1 252Z" fill="#111"/>
<circle cx="1515.1" cy="288.7" r="10.8" fill="#fff" stroke="#111" stroke-width="1.1"/>
<text x="1515.1" y="292" font-family="Liberation Sans" font-size="9.1" text-anchor="middle" fill="#111" stroke="#111" stroke-width="0.18">42</text>
<path d="M957.1 237.2L964.4 227.2" stroke="#111" stroke-width="1.1"/>
<path d="M968.9 221.2L966.5 228.8L962.3 225.7Z" fill="#111"/>
<circle cx="950.8" cy="246.1" r="10.8" fill="#fff" stroke="#111" stroke-width="1.1"/>
<text x="950.8" y="249.4" font-family="Liberation Sans" font-size="9.1" text-anchor="middle" fill="#111" stroke="#111" stroke-width="0.18">43</text>
<path d="M985.2 250.2L996.3 255.5" stroke="#111" stroke-width="1.1"/>
<path d="M1003.1 258.8L995.2 257.9L997.5 253.2Z" fill="#111"/>
<circle cx="975.7" cy="246.1" r="10.8" fill="#fff" stroke="#111" stroke-width="1.1"/>
<text x="975.7" y="249.4" font-family="Liberation Sans" font-size="9.1" text-anchor="middle" fill="#111" stroke="#111" stroke-width="0.18">52</text>
<path d="M947.8 264.1L910.9 239.3" stroke="#111" stroke-width="1.1"/>
<path d="M904.7 235.1L912.4 237.1L909.5 241.4Z" fill="#111"/>
<circle cx="956.5" cy="270.5" r="10.8" fill="#fff" stroke="#111" stroke-width="1.1"/>
<text x="956.5" y="273.8" font-family="Liberation Sans" font-size="9.1" text-anchor="middle" fill="#111" stroke="#111" stroke-width="0.18">5</text>
<path d="M949.2 288.7L909.9 247.9" stroke="#111" stroke-width="1.1"/>
<path d="M904.7 242.5L911.8 246.1L908 249.7Z" fill="#111"/>
<circle cx="956.5" cy="296.8" r="10.8" fill="#fff" stroke="#111" stroke-width="1.1"/>
<text x="956.5" y="300.1" font-family="Liberation Sans" font-size="9.1" text-anchor="middle" fill="#111" stroke="#111" stroke-width="0.18">53</text>
<path d="M1205.5 310.5L1206.9 351.9" stroke="#111" stroke-width="1.1"/>
<path d="M1207.2 359.4L1204.3 352L1209.5 351.8Z" fill="#111"/>
<circle cx="1205.1" cy="300.5" r="10.8" fill="#fff" stroke="#111" stroke-width="1.1"/>
<text x="1205.1" y="303.7" font-family="Liberation Sans" font-size="8.9" text-anchor="middle" fill="#111" stroke="#111" stroke-width="0.18">24A</text>
<path d="M1231.3 310.3L1218 371.8" stroke="#111" stroke-width="1.1"/>
<path d="M1216.4 379.1L1215.4 371.2L1220.5 372.3Z" fill="#111"/>
<circle cx="1233.5" cy="300.5" r="10.8" fill="#fff" stroke="#111" stroke-width="1.1"/>
<text x="1233.5" y="303.7" font-family="Liberation Sans" font-size="8.9" text-anchor="middle" fill="#111" stroke="#111" stroke-width="0.18">24B</text>
<path d="M1263.4 326.1L1254.5 370" stroke="#111" stroke-width="1.1"/>
<path d="M1253 377.3L1251.9 369.4L1257 370.5Z" fill="#111"/>
<circle cx="1265.5" cy="316.3" r="10.8" fill="#fff" stroke="#111" stroke-width="1.1"/>
<text x="1265.5" y="319.5" font-family="Liberation Sans" font-size="8.9" text-anchor="middle" fill="#111" stroke="#111" stroke-width="0.18">24E</text>
<path d="M1129.4 361.4L1186.3 395.8" stroke="#111" stroke-width="1.1"/>
<path d="M1192.7 399.7L1184.9 398L1187.6 393.6Z" fill="#111"/>
<circle cx="1120.4" cy="356.5" r="10.8" fill="#fff" stroke="#111" stroke-width="1.1"/>
<text x="1120.4" y="359.7" font-family="Liberation Sans" font-size="8.9" text-anchor="middle" fill="#111" stroke="#111" stroke-width="0.18">24C</text>
<path d="M1177.3 442.6L1181.8 424" stroke="#111" stroke-width="1.1"/>
<path d="M1183.5 416.7L1184.3 424.6L1179.2 423.4Z" fill="#111"/>
<circle cx="1174.9" cy="453.3" r="10.8" fill="#fff" stroke="#111" stroke-width="1.1"/>
<text x="1174.9" y="456.6" font-family="Liberation Sans" font-size="9.1" text-anchor="middle" fill="#111" stroke="#111" stroke-width="0.18">17</text>
<path d="M1203.9 457.5L1220.6 418.1" stroke="#111" stroke-width="1.1"/>
<path d="M1223.5 411.2L1223 419.1L1218.2 417.1Z" fill="#111"/>
<circle cx="1199.8" cy="467.7" r="10.8" fill="#fff" stroke="#111" stroke-width="1.1"/>
<text x="1199.8" y="470.9" font-family="Liberation Sans" font-size="8.9" text-anchor="middle" fill="#111" stroke="#111" stroke-width="0.18">24D</text>
<path d="M1230.1 457.8L1253.8 410.3" stroke="#111" stroke-width="1.1"/>
<path d="M1257.2 403.6L1256.2 411.5L1251.5 409.1Z" fill="#111"/>
<circle cx="1225.4" cy="467.7" r="10.8" fill="#fff" stroke="#111" stroke-width="1.1"/>
<text x="1225.4" y="470.9" font-family="Liberation Sans" font-size="8.9" text-anchor="middle" fill="#111" stroke="#111" stroke-width="0.18">24F</text>
<path d="M796.5 412.2L771.4 408" stroke="#111" stroke-width="1.1"/>
<path d="M764 406.8L771.8 405.5L771 410.6Z" fill="#111"/>
<circle cx="806.9" cy="414.4" r="10.8" fill="#fff" stroke="#111" stroke-width="1.1"/>
<text x="806.9" y="417.7" font-family="Liberation Sans" font-size="9.1" text-anchor="middle" fill="#111" stroke="#111" stroke-width="0.18">2</text>
<path d="M570.6 497.4L586 525" stroke="#111" stroke-width="1.1"/>
<path d="M589.7 531.6L583.8 526.3L588.3 523.8Z" fill="#111"/>
<circle cx="565.5" cy="488.7" r="10.8" fill="#fff" stroke="#111" stroke-width="1.1"/>
<text x="565.5" y="492" font-family="Liberation Sans" font-size="9.1" text-anchor="middle" fill="#111" stroke="#111" stroke-width="0.18">35</text>
<path d="M592 498.7L592.6 524.1" stroke="#111" stroke-width="1.1"/>
<path d="M592.8 531.6L590 524.2L595.2 524Z" fill="#111"/>
<circle cx="591.8" cy="488.7" r="10.8" fill="#fff" stroke="#111" stroke-width="1.1"/>
<text x="591.8" y="492" font-family="Liberation Sans" font-size="9.1" text-anchor="middle" fill="#111" stroke="#111" stroke-width="0.18">36</text>
<path d="M617.9 498.6L621.5 526.1" stroke="#111" stroke-width="1.1"/>
<path d="M622.5 533.5L618.9 526.4L624.1 525.7Z" fill="#111"/>
<circle cx="616.5" cy="488.7" r="10.8" fill="#fff" stroke="#111" stroke-width="1.1"/>
<text x="616.5" y="492" font-family="Liberation Sans" font-size="9.1" text-anchor="middle" fill="#111" stroke="#111" stroke-width="0.18">38</text>
<path d="M662.1 496.9L670.4 508.8" stroke="#111" stroke-width="1.1"/>
<path d="M674.6 515L668.2 510.3L672.5 507.3Z" fill="#111"/>
<circle cx="656.2" cy="488.7" r="10.8" fill="#fff" stroke="#111" stroke-width="1.1"/>
<text x="656.2" y="492" font-family="Liberation Sans" font-size="9.1" text-anchor="middle" fill="#111" stroke="#111" stroke-width="0.18">33</text>
<path d="M1498.7 504.6L1510.9 490.1" stroke="#111" stroke-width="1.1"/>
<path d="M1515.7 484.3L1512.9 491.7L1508.9 488.4Z" fill="#111"/>
<circle cx="1492" cy="513.2" r="10.8" fill="#fff" stroke="#111" stroke-width="1.1"/>
<text x="1492" y="516.5" font-family="Liberation Sans" font-size="9.1" text-anchor="middle" fill="#111" stroke="#111" stroke-width="0.18">22</text>
<path d="M1520 502.6L1523.3 491.5" stroke="#111" stroke-width="1.1"/>
<path d="M1525.4 484.3L1525.8 492.2L1520.8 490.8Z" fill="#111"/>
<circle cx="1517" cy="513.2" r="10.8" fill="#fff" stroke="#111" stroke-width="1.1"/>
<text x="1517" y="516.5" font-family="Liberation Sans" font-size="9.1" text-anchor="middle" fill="#111" stroke="#111" stroke-width="0.18">23</text>
<path d="M1542.7 503L1537.8 491.2" stroke="#111" stroke-width="1.1"/>
<path d="M1534.9 484.3L1540.2 490.2L1535.4 492.2Z" fill="#111"/>
<circle cx="1546.7" cy="513.2" r="10.8" fill="#fff" stroke="#111" stroke-width="1.1"/>
<text x="1546.7" y="516.5" font-family="Liberation Sans" font-size="9.1" text-anchor="middle" fill="#111" stroke="#111" stroke-width="0.18">24</text>
<path d="M1022.8 560.8L1020.6 571.1" stroke="#111" stroke-width="1.1"/>
<path d="M1019.1 578.4L1018.1 570.5L1023.2 571.6Z" fill="#111"/>
<circle cx="1024.9" cy="551" r="10.8" fill="#fff" stroke="#111" stroke-width="1.1"/>
<text x="1024.9" y="554.3" font-family="Liberation Sans" font-size="9.1" text-anchor="middle" fill="#111" stroke="#111" stroke-width="0.18">8</text>
<path d="M541.8 645.1L565.1 643" stroke="#111" stroke-width="1.1"/>
<path d="M572.6 642.3L565.4 645.6L564.9 640.4Z" fill="#111"/>
<circle cx="531.3" cy="646.5" r="10.8" fill="#fff" stroke="#111" stroke-width="1.1"/>
<text x="531.3" y="649.8" font-family="Liberation Sans" font-size="9.1" text-anchor="middle" fill="#111" stroke="#111" stroke-width="0.18">32</text>
<path d="M541.8 677.9L612.9 675.2" stroke="#111" stroke-width="1.1"/>
<path d="M620.4 674.9L613 677.8L612.8 672.6Z" fill="#111"/>
<circle cx="531.3" cy="678.8" r="10.8" fill="#fff" stroke="#111" stroke-width="1.1"/>
<text x="531.3" y="682.1" font-family="Liberation Sans" font-size="9.1" text-anchor="middle" fill="#111" stroke="#111" stroke-width="0.18">9</text>
<path d="M541.7 705.3L640.9 717.4" stroke="#111" stroke-width="1.1"/>
<path d="M648.3 718.3L640.5 720L641.2 714.8Z" fill="#111"/>
<circle cx="531.3" cy="704.5" r="10.8" fill="#fff" stroke="#111" stroke-width="1.1"/>
<text x="531.3" y="707.8" font-family="Liberation Sans" font-size="9.1" text-anchor="middle" fill="#111" stroke="#111" stroke-width="0.18">39</text>
<path d="M779.3 615.4L768.9 591.9" stroke="#111" stroke-width="1.1"/>
<path d="M765.9 585L771.3 590.8L766.5 592.9Z" fill="#111"/>
<circle cx="783.5" cy="625.5" r="10.8" fill="#fff" stroke="#111" stroke-width="1.1"/>
<text x="783.5" y="628.8" font-family="Liberation Sans" font-size="9.1" text-anchor="middle" fill="#111" stroke="#111" stroke-width="0.18">34</text>
<path d="M799.1 742.5L793 770.1" stroke="#111" stroke-width="1.1"/>
<path d="M791.4 777.4L790.5 769.5L795.6 770.6Z" fill="#111"/>
<circle cx="801.4" cy="732.7" r="10.8" fill="#fff" stroke="#111" stroke-width="1.1"/>
<text x="801.4" y="736" font-family="Liberation Sans" font-size="9.1" text-anchor="middle" fill="#111" stroke="#111" stroke-width="0.18">40</text>
<path d="M825.8 742.4L819.4 770.1" stroke="#111" stroke-width="1.1"/>
<path d="M817.7 777.4L816.9 769.5L821.9 770.7Z" fill="#111"/>
<circle cx="828.2" cy="732.7" r="10.8" fill="#fff" stroke="#111" stroke-width="1.1"/>
<text x="828.2" y="736" font-family="Liberation Sans" font-size="9.1" text-anchor="middle" fill="#111" stroke="#111" stroke-width="0.18">37</text>
<path d="M858.4 742.4L865.3 768.8" stroke="#111" stroke-width="1.1"/>
<path d="M867.2 776.1L862.8 769.5L867.8 768.2Z" fill="#111"/>
<circle cx="855.8" cy="732.7" r="10.8" fill="#fff" stroke="#111" stroke-width="1.1"/>
<text x="855.8" y="736" font-family="Liberation Sans" font-size="9.1" text-anchor="middle" fill="#111" stroke="#111" stroke-width="0.18">13</text>
<path d="M941.2 678.7L932.2 667.1" stroke="#111" stroke-width="1.1"/>
<path d="M927.6 661.2L934.2 665.5L930.1 668.7Z" fill="#111"/>
<circle cx="947.6" cy="687.5" r="10.8" fill="#fff" stroke="#111" stroke-width="1.1"/>
<text x="947.6" y="690.8" font-family="Liberation Sans" font-size="9.1" text-anchor="middle" fill="#111" stroke="#111" stroke-width="0.18">1</text>
<path d="M931.8 783.4L899.5 777.5" stroke="#111" stroke-width="1.1"/>
<path d="M892.1 776.1L899.9 774.9L899 780Z" fill="#111"/>
<circle cx="942.1" cy="785.8" r="10.8" fill="#fff" stroke="#111" stroke-width="1.1"/>
<text x="942.1" y="789.1" font-family="Liberation Sans" font-size="9.1" text-anchor="middle" fill="#111" stroke="#111" stroke-width="0.18">18</text>
<path d="M1237.2 667.2L1202.1 669.4" stroke="#111" stroke-width="1.1"/>
<path d="M1194.6 669.9L1201.9 666.8L1202.3 672Z" fill="#111"/>
<circle cx="1247.7" cy="667" r="10.8" fill="#fff" stroke="#111" stroke-width="1.1"/>
<text x="1247.7" y="670.3" font-family="Liberation Sans" font-size="9.1" text-anchor="middle" fill="#111" stroke="#111" stroke-width="0.18">11</text>
<path d="M1204.1 735.5L1193.5 725.5" stroke="#111" stroke-width="1.1"/>
<path d="M1188 720.4L1195.2 723.6L1191.7 727.4Z" fill="#111"/>
<circle cx="1211.7" cy="743.2" r="10.8" fill="#fff" stroke="#111" stroke-width="1.1"/>
<text x="1211.7" y="746.5" font-family="Liberation Sans" font-size="9.1" text-anchor="middle" fill="#111" stroke="#111" stroke-width="0.18">10</text>
<path d="M1286.7 672.5L1287.6 655.5" stroke="#111" stroke-width="1.1"/>
<path d="M1288 648L1290.2 655.6L1285 655.3Z" fill="#111"/>
<circle cx="1286.1" cy="683.5" r="10.8" fill="#fff" stroke="#111" stroke-width="1.1"/>
<text x="1286.1" y="686.8" font-family="Liberation Sans" font-size="9.1" text-anchor="middle" fill="#111" stroke="#111" stroke-width="0.18">15</text>
<path d="M1344.8 595.7L1365.7 598.4" stroke="#111" stroke-width="1.1"/>
<path d="M1373.1 599.4L1365.3 601L1366 595.9Z" fill="#111"/>
<circle cx="1334.4" cy="594.9" r="10.8" fill="#fff" stroke="#111" stroke-width="1.1"/>
<text x="1334.4" y="598.2" font-family="Liberation Sans" font-size="9.1" text-anchor="middle" fill="#111" stroke="#111" stroke-width="0.18">6</text>
<path d="M1540.6 565.7L1530.1 559.9" stroke="#111" stroke-width="1.1"/>
<path d="M1523.5 556.3L1531.3 557.6L1528.8 562.2Z" fill="#111"/>
<circle cx="1549.8" cy="571.2" r="10.8" fill="#fff" stroke="#111" stroke-width="1.1"/>
<text x="1549.8" y="574.5" font-family="Liberation Sans" font-size="9.1" text-anchor="middle" fill="#111" stroke="#111" stroke-width="0.18">7</text>
<path d="M1540.2 613.2L1534.9 615.6" stroke="#111" stroke-width="1.1"/>
<path d="M1528 618.6L1533.8 613.2L1535.9 617.9Z" fill="#111"/>
<circle cx="1549.8" cy="609.4" r="10.8" fill="#fff" stroke="#111" stroke-width="1.1"/>
<text x="1549.8" y="612.7" font-family="Liberation Sans" font-size="9.1" text-anchor="middle" fill="#111" stroke="#111" stroke-width="0.18">7</text>
<path d="M1392.5 651.6L1414.2 646.1" stroke="#111" stroke-width="1.1"/>
<path d="M1421.5 644.3L1414.9 648.6L1413.6 643.6Z" fill="#111"/>
<circle cx="1382.3" cy="654.6" r="10.8" fill="#fff" stroke="#111" stroke-width="1.1"/>
<text x="1382.3" y="657.9" font-family="Liberation Sans" font-size="9.1" text-anchor="middle" fill="#111" stroke="#111" stroke-width="0.18">16</text>
<path d="M1562.4 657.8L1530.9 651.6" stroke="#111" stroke-width="1.1"/>
<path d="M1523.5 650.1L1531.4 649L1530.3 654.1Z" fill="#111"/>
<circle cx="1572.7" cy="660.4" r="10.8" fill="#fff" stroke="#111" stroke-width="1.1"/>
<text x="1572.7" y="663.7" font-family="Liberation Sans" font-size="9.1" text-anchor="middle" fill="#111" stroke="#111" stroke-width="0.18">16</text>
<path d="M1349.5 664.7L1343 681.2" stroke="#111" stroke-width="1.1"/>
<path d="M1340.2 688.2L1340.5 680.3L1345.4 682.2Z" fill="#111"/>
<circle cx="1353.4" cy="655.4" r="10.8" fill="#fff" stroke="#111" stroke-width="1.1"/>
<text x="1353.4" y="658.7" font-family="Liberation Sans" font-size="9.1" text-anchor="middle" fill="#111" stroke="#111" stroke-width="0.18">12</text>
<path d="M1512 720.2L1497.7 713.6" stroke="#111" stroke-width="1.1"/>
<path d="M1490.9 710.4L1498.8 711.2L1496.6 715.9Z" fill="#111"/>
<circle cx="1521.5" cy="725.1" r="10.8" fill="#fff" stroke="#111" stroke-width="1.1"/>
<text x="1521.5" y="728.4" font-family="Liberation Sans" font-size="9.1" text-anchor="middle" fill="#111" stroke="#111" stroke-width="0.18">14</text>
<text transform="translate(580.5 166) scale(0.764 1.212)" font-family="Liberation Mono" font-size="6.0" font-weight="normal" text-anchor="start" fill="#3a3a3a">REAR AXLE</text>
<text transform="translate(645.7 165.4) scale(0.903 1.212)" font-family="Liberation Mono" font-size="6.0" font-weight="normal" text-anchor="start" fill="#3a3a3a">FRONT AXLE</text>
<text transform="translate(793 145.4) scale(0.764 0.909)" font-family="Liberation Mono" font-size="6.0" font-weight="normal" text-anchor="start" fill="#3a3a3a">3.5 LITER</text>
<text transform="translate(793 150.8) scale(0.764 0.909)" font-family="Liberation Mono" font-size="6.0" font-weight="normal" text-anchor="start" fill="#3a3a3a">78 BAR</text>
<text transform="translate(793 156.2) scale(0.764 0.909)" font-family="Liberation Mono" font-size="6.0" font-weight="normal" text-anchor="start" fill="#3a3a3a">PRECHARGE</text>
<text transform="translate(841 146.4) scale(0.764 0.909)" font-family="Liberation Mono" font-size="6.0" font-weight="normal" text-anchor="start" fill="#3a3a3a">PRB2</text>
<text transform="translate(841 151.8) scale(0.764 0.909)" font-family="Liberation Mono" font-size="6.0" font-weight="normal" text-anchor="start" fill="#3a3a3a">REDUNDANT BRAKE</text>
<text transform="translate(841 157.3) scale(0.764 0.909)" font-family="Liberation Mono" font-size="6.0" font-weight="normal" text-anchor="start" fill="#3a3a3a">TRANSDUCER</text>
<text transform="translate(841 162.8) scale(0.764 0.909)" font-family="Liberation Mono" font-size="6.0" font-weight="normal" text-anchor="start" fill="#3a3a3a">RISING &lt;91 BAR</text>
<text transform="translate(841 168.2) scale(0.764 0.909)" font-family="Liberation Mono" font-size="6.0" font-weight="normal" text-anchor="start" fill="#3a3a3a">FALLING 77 ±7 BAR</text>
<text transform="translate(773 185.5) scale(0.764 0.909)" font-family="Liberation Mono" font-size="6.0" font-weight="normal" text-anchor="start" fill="#3a3a3a">0.16 LITER</text>
<text transform="translate(773 190.9) scale(0.764 0.909)" font-family="Liberation Mono" font-size="6.0" font-weight="normal" text-anchor="start" fill="#3a3a3a">96 BAR</text>
<text transform="translate(773 196.4) scale(0.764 0.909)" font-family="Liberation Mono" font-size="6.0" font-weight="normal" text-anchor="start" fill="#3a3a3a">PRECHARGE</text>
<text transform="translate(860 185.2) scale(0.778 0.909)" font-family="Liberation Mono" font-size="6.0" font-weight="normal" text-anchor="start" fill="#3a3a3a">PBW</text>
<text transform="translate(860 190.6) scale(0.778 0.909)" font-family="Liberation Mono" font-size="6.0" font-weight="normal" text-anchor="start" fill="#3a3a3a">BRAKE WARNING</text>
<text transform="translate(860 196) scale(0.778 0.909)" font-family="Liberation Mono" font-size="6.0" font-weight="normal" text-anchor="start" fill="#3a3a3a">TRANSDUCER</text>
<text transform="translate(860 201.4) scale(0.778 0.909)" font-family="Liberation Mono" font-size="6.0" font-weight="normal" text-anchor="start" fill="#3a3a3a">RISING &lt;138 BAR</text>
<text transform="translate(860 206.8) scale(0.778 0.909)" font-family="Liberation Mono" font-size="6.0" font-weight="normal" text-anchor="start" fill="#3a3a3a">FALLING 122 ±7 BAR</text>
<text transform="translate(729 214.9) scale(0.750 0.859)" font-family="Liberation Mono" font-size="6.0" font-weight="normal" text-anchor="start" fill="#3a3a3a">PARK</text>
<text transform="translate(729 220.4) scale(0.750 0.859)" font-family="Liberation Mono" font-size="6.0" font-weight="normal" text-anchor="start" fill="#3a3a3a">BRAKE</text>
<text transform="translate(717 246.5) scale(0.764 0.909)" font-family="Liberation Mono" font-size="6.0" font-weight="normal" text-anchor="start" fill="#3a3a3a">0.16 LITER</text>
<text transform="translate(717 251.9) scale(0.764 0.909)" font-family="Liberation Mono" font-size="6.0" font-weight="normal" text-anchor="start" fill="#3a3a3a">7 BAR</text>
<text transform="translate(717 257.3) scale(0.764 0.909)" font-family="Liberation Mono" font-size="6.0" font-weight="normal" text-anchor="start" fill="#3a3a3a">PRECHARGE</text>
<text transform="translate(586 306) scale(0.764 0.909)" font-family="Liberation Mono" font-size="6.0" font-weight="normal" text-anchor="start" fill="#3a3a3a">0.16 LITER</text>
<text transform="translate(586 311.4) scale(0.764 0.909)" font-family="Liberation Mono" font-size="6.0" font-weight="normal" text-anchor="start" fill="#3a3a3a">7 BAR</text>
<text transform="translate(586 316.8) scale(0.764 0.909)" font-family="Liberation Mono" font-size="6.0" font-weight="normal" text-anchor="start" fill="#3a3a3a">PRECHARGE</text>
<text transform="translate(873 215.6) scale(0.431 0.606)" font-family="Liberation Mono" font-size="6.0" font-weight="normal" text-anchor="start" fill="#111">BRAKE ACCUMULATOR</text>
<text transform="translate(873 219.7) scale(0.431 0.606)" font-family="Liberation Mono" font-size="6.0" font-weight="normal" text-anchor="start" fill="#111">CHARGING VALVE</text>
<text transform="translate(873 223.8) scale(0.431 0.606)" font-family="Liberation Mono" font-size="6.0" font-weight="normal" text-anchor="start" fill="#111">CUT IN : 157-167 BAR</text>
<text transform="translate(873 227.9) scale(0.431 0.606)" font-family="Liberation Mono" font-size="6.0" font-weight="normal" text-anchor="start" fill="#111">CUT OUT : 190-196 BAR</text>
<text transform="translate(806.5 208.2) scale(0.639 0.833)" font-family="Liberation Mono" font-size="6.0" font-weight="normal" text-anchor="start" fill="#2a6fdb">B4</text>
<text transform="translate(824 208.2) scale(0.639 0.833)" font-family="Liberation Mono" font-size="6.0" font-weight="normal" text-anchor="start" fill="#2a6fdb">B1</text>
<text transform="translate(855 208.2) scale(0.639 0.833)" font-family="Liberation Mono" font-size="6.0" font-weight="normal" text-anchor="start" fill="#2a6fdb">F</text>
<text transform="translate(753.5 237.7) scale(0.639 0.833)" font-family="Liberation Mono" font-size="6.0" font-weight="normal" text-anchor="start" fill="#2a6fdb">X</text>
<text transform="translate(754.5 286.9) scale(0.639 0.833)" font-family="Liberation Mono" font-size="6.0" font-weight="normal" text-anchor="start" fill="#2a6fdb">T1</text>
<text transform="translate(754.5 302.1) scale(0.639 0.833)" font-family="Liberation Mono" font-size="6.0" font-weight="normal" text-anchor="start" fill="#2a6fdb">F1</text>
<text transform="translate(754.5 327.6) scale(0.639 0.833)" font-family="Liberation Mono" font-size="6.0" font-weight="normal" text-anchor="start" fill="#2a6fdb">T2</text>
<text transform="translate(756.5 342.1) scale(0.639 0.833)" font-family="Liberation Mono" font-size="6.0" font-weight="normal" text-anchor="start" fill="#2a6fdb">F2</text>
<text transform="translate(859.5 306.1) scale(0.639 0.833)" font-family="Liberation Mono" font-size="6.0" font-weight="normal" text-anchor="start" fill="#2a6fdb">N</text>
<text transform="translate(877.5 306.1) scale(0.639 0.833)" font-family="Liberation Mono" font-size="6.0" font-weight="normal" text-anchor="start" fill="#2a6fdb">B</text>
<text transform="translate(908 260.6) scale(0.639 0.833)" font-family="Liberation Mono" font-size="6.0" font-weight="normal" text-anchor="start" fill="#2a6fdb">P</text>
<text transform="translate(815.5 343.1) scale(0.639 0.833)" font-family="Liberation Mono" font-size="6.0" font-weight="normal" text-anchor="start" fill="#2a6fdb">B7</text>
<text transform="translate(724.6 345.9) scale(0.764 0.884)" font-family="Liberation Mono" font-size="6.0" font-weight="normal" text-anchor="start" fill="#3a3a3a">PLB-PDD</text>
<text transform="translate(724.6 351.4) scale(0.764 0.884)" font-family="Liberation Mono" font-size="6.0" font-weight="normal" text-anchor="start" fill="#3a3a3a">BRAKE</text>
<text transform="translate(724.6 356.8) scale(0.764 0.884)" font-family="Liberation Mono" font-size="6.0" font-weight="normal" text-anchor="start" fill="#3a3a3a">LIGHT</text>
<text transform="translate(724.6 362.3) scale(0.764 0.884)" font-family="Liberation Mono" font-size="6.0" font-weight="normal" text-anchor="start" fill="#3a3a3a">TRANSDUCER</text>
<text transform="translate(781.1 377.8) scale(0.764 0.909)" font-family="Liberation Mono" font-size="6.0" font-weight="normal" text-anchor="start" fill="#3a3a3a">PRB1</text>
<text transform="translate(781.1 383.2) scale(0.764 0.909)" font-family="Liberation Mono" font-size="6.0" font-weight="normal" text-anchor="start" fill="#3a3a3a">REDUNDANT BRAKE</text>
<text transform="translate(781.1 388.7) scale(0.764 0.909)" font-family="Liberation Mono" font-size="6.0" font-weight="normal" text-anchor="start" fill="#3a3a3a">TRANSDUCER</text>
<text transform="translate(781.1 394.2) scale(0.764 0.909)" font-family="Liberation Mono" font-size="6.0" font-weight="normal" text-anchor="start" fill="#3a3a3a">RISING &lt;91 BAR</text>
<text transform="translate(781.1 399.6) scale(0.764 0.909)" font-family="Liberation Mono" font-size="6.0" font-weight="normal" text-anchor="start" fill="#3a3a3a">FALLING 77 ±7 BAR</text>
<text transform="translate(757.2 417) scale(0.764 0.909)" font-family="Liberation Mono" font-size="6.0" font-weight="normal" text-anchor="start" fill="#3a3a3a">3.5 LITER</text>
<text transform="translate(757.2 422.5) scale(0.764 0.909)" font-family="Liberation Mono" font-size="6.0" font-weight="normal" text-anchor="start" fill="#3a3a3a">78 BAR</text>
<text transform="translate(757.2 428) scale(0.764 0.909)" font-family="Liberation Mono" font-size="6.0" font-weight="normal" text-anchor="start" fill="#3a3a3a">PRECHARGE</text>
<text transform="translate(567.3 406.6) scale(0.853 0.884)" font-family="Liberation Mono" font-size="6.0" font-weight="normal" text-anchor="start" fill="#3a3a3a">TP11: REAR BRAKE TO AXLE</text>
<circle cx="657.3" cy="404.9" r="1.9" fill="#fff" stroke="#333" stroke-width="0.7"/>
<text transform="translate(567.3 415.9) scale(0.853 0.884)" font-family="Liberation Mono" font-size="6.0" font-weight="normal" text-anchor="start" fill="#3a3a3a">TP10: FRONT BRAKE TO AXLE</text>
<circle cx="657.3" cy="414.1" r="1.9" fill="#fff" stroke="#333" stroke-width="0.7"/>
<text transform="translate(567.3 425.1) scale(0.853 0.884)" font-family="Liberation Mono" font-size="6.0" font-weight="normal" text-anchor="start" fill="#3a3a3a">TP6:  FRONT BRAKE ACCUMULATOR</text>
<circle cx="657.3" cy="423.3" r="1.9" fill="#fff" stroke="#333" stroke-width="0.7"/>
<text transform="translate(567.3 434.8) scale(0.853 0.884)" font-family="Liberation Mono" font-size="6.0" font-weight="normal" text-anchor="start" fill="#3a3a3a">TP7:  REAR BRAKE ACCUMULATOR</text>
<circle cx="657.3" cy="433" r="1.9" fill="#fff" stroke="#333" stroke-width="0.7"/>
<text transform="translate(567.3 443.2) scale(0.853 0.884)" font-family="Liberation Mono" font-size="6.0" font-weight="normal" text-anchor="start" fill="#3a3a3a">TP9:  PILOT PRESSURE SUPPLY</text>
<circle cx="657.3" cy="441.5" r="1.9" fill="#fff" stroke="#333" stroke-width="0.7"/>
<text transform="translate(567.3 452.1) scale(0.853 0.884)" font-family="Liberation Mono" font-size="6.0" font-weight="normal" text-anchor="start" fill="#3a3a3a">TP3:  LOAD SENSE SIGNAL</text>
<circle cx="657.3" cy="450.3" r="1.9" fill="#fff" stroke="#333" stroke-width="0.7"/>
<text transform="translate(567.3 461.2) scale(0.853 0.884)" font-family="Liberation Mono" font-size="6.0" font-weight="normal" text-anchor="start" fill="#3a3a3a">TP1:  STEERING PRESSURE</text>
<circle cx="657.3" cy="459.5" r="1.9" fill="#fff" stroke="#333" stroke-width="0.7"/>
<text transform="translate(567.3 469.2) scale(0.853 0.884)" font-family="Liberation Mono" font-size="6.0" font-weight="normal" text-anchor="start" fill="#3a3a3a">TP5:  MAIN PUMP PRESSURE</text>
<circle cx="657.3" cy="467.5" r="1.9" fill="#fff" stroke="#333" stroke-width="0.7"/>
<text transform="translate(1021 110.7) scale(0.933 1.162)" font-family="Liberation Mono" font-size="6.0" font-weight="normal" text-anchor="start" fill="#3a3a3a">OPTIONAL</text>
<text transform="translate(1021 117.4) scale(0.933 1.162)" font-family="Liberation Mono" font-size="6.0" font-weight="normal" text-anchor="start" fill="#3a3a3a">COUPLER</text>
<text transform="translate(1021 124.1) scale(0.933 1.162)" font-family="Liberation Mono" font-size="6.0" font-weight="normal" text-anchor="start" fill="#3a3a3a">LOCKING</text>
<text transform="translate(1021 130.8) scale(0.933 1.162)" font-family="Liberation Mono" font-size="6.0" font-weight="normal" text-anchor="start" fill="#3a3a3a">CYLINDERS (2)</text>
<text transform="translate(944.2 169.3) scale(0.764 0.934)" font-family="Liberation Mono" font-size="6.0" font-weight="normal" text-anchor="start" fill="#3a3a3a">OPTIONAL</text>
<text transform="translate(944.2 174.8) scale(0.764 0.934)" font-family="Liberation Mono" font-size="6.0" font-weight="normal" text-anchor="start" fill="#3a3a3a">COUPLER</text>
<text transform="translate(944.2 180.2) scale(0.764 0.934)" font-family="Liberation Mono" font-size="6.0" font-weight="normal" text-anchor="start" fill="#3a3a3a">LOCKING</text>
<text transform="translate(944.2 185.5) scale(0.764 0.934)" font-family="Liberation Mono" font-size="6.0" font-weight="normal" text-anchor="start" fill="#3a3a3a">VALVE</text>
<text transform="translate(973 267.8) scale(0.750 0.884)" font-family="Liberation Mono" font-size="6.0" font-weight="normal" text-anchor="start" fill="#3a3a3a">0.32 LITER</text>
<text transform="translate(973 273.1) scale(0.750 0.884)" font-family="Liberation Mono" font-size="6.0" font-weight="normal" text-anchor="start" fill="#3a3a3a">13.8 BAR</text>
<text transform="translate(973 278.4) scale(0.750 0.884)" font-family="Liberation Mono" font-size="6.0" font-weight="normal" text-anchor="start" fill="#3a3a3a">PRECHARGE</text>
<text transform="translate(981 161) rotate(-90) translate(0 1.7) scale(0.667 0.859)" font-family="Liberation Mono" font-size="6.0" font-weight="normal" text-anchor="start" fill="#3a3a3a">LOCK</text>
<text transform="translate(987.5 165) rotate(-90) translate(0 1.7) scale(0.667 0.859)" font-family="Liberation Mono" font-size="6.0" font-weight="normal" text-anchor="start" fill="#3a3a3a">UNLOCK</text>
<text transform="translate(1257.1 103.3) scale(0.933 1.162)" font-family="Liberation Mono" font-size="6.0" font-weight="normal" text-anchor="start" fill="#3a3a3a">BUCKET FOR Z-BAR / XR MODELS</text>
<text transform="translate(1257.1 109.9) scale(0.933 1.162)" font-family="Liberation Mono" font-size="6.0" font-weight="normal" text-anchor="start" fill="#3a3a3a">QTY 1 - 127.0 / 76.2 / 619.7</text>
<text transform="translate(1372.3 103.3) scale(0.889 1.162)" font-family="Liberation Mono" font-size="6.0" font-weight="normal" text-anchor="start" fill="#3a3a3a">LIFT</text>
<text transform="translate(1372.3 109.9) scale(0.889 1.162)" font-family="Liberation Mono" font-size="6.0" font-weight="normal" text-anchor="start" fill="#3a3a3a">QTY 2 - 120.65 / 63.5 / 787.6</text>
<text transform="translate(1506.4 111.5) scale(0.694 0.909)" font-family="Liberation Mono" font-size="6.0" font-weight="normal" text-anchor="start" fill="#3a3a3a">3.78 LITER</text>
<text transform="translate(1506.4 117) scale(0.694 0.909)" font-family="Liberation Mono" font-size="6.0" font-weight="normal" text-anchor="start" fill="#3a3a3a">17.0 BAR</text>
<text transform="translate(1506.4 122.5) scale(0.694 0.909)" font-family="Liberation Mono" font-size="6.0" font-weight="normal" text-anchor="start" fill="#3a3a3a">PRECHARGE</text>
<text transform="translate(1489.3 146.5) scale(0.933 1.061)" font-family="Liberation Mono" font-size="6.0" font-weight="normal" text-anchor="middle" fill="#3a3a3a">T</text>
<text transform="translate(1505 146.5) scale(0.933 1.061)" font-family="Liberation Mono" font-size="6.0" font-weight="normal" text-anchor="middle" fill="#3a3a3a">X2</text>
<text transform="translate(1556 154.4) scale(0.933 1.061)" font-family="Liberation Mono" font-size="6.0" font-weight="normal" text-anchor="start" fill="#3a3a3a">MX</text>
<text transform="translate(1488.6 255.6) scale(0.933 1.061)" font-family="Liberation Mono" font-size="6.0" font-weight="normal" text-anchor="middle" fill="#3a3a3a">B</text>
<text transform="translate(1503 255.6) scale(0.933 1.061)" font-family="Liberation Mono" font-size="6.0" font-weight="normal" text-anchor="middle" fill="#3a3a3a">A</text>
<text transform="translate(1517 257) scale(0.875 1.111)" font-family="Liberation Mono" font-size="6.0" font-weight="normal" text-anchor="start" fill="#3a3a3a">RIDE CONTROL</text>
<text transform="translate(1517 263.6) scale(0.875 1.111)" font-family="Liberation Mono" font-size="6.0" font-weight="normal" text-anchor="start" fill="#3a3a3a">OPTION</text>
<text transform="translate(1523 182.2) scale(0.750 0.884)" font-family="Liberation Mono" font-size="6.0" font-weight="normal" text-anchor="start" fill="#3a3a3a">280 BAR</text>
<text transform="translate(1193.8 346.4) scale(0.889 1.111)" font-family="Liberation Mono" font-size="6.0" font-weight="normal" text-anchor="middle" fill="#444">SX</text>
<text transform="translate(1218.3 347.2) scale(0.889 1.111)" font-family="Liberation Mono" font-size="6.0" font-weight="normal" text-anchor="middle" fill="#444">LS</text>
<text transform="translate(1236.7 347.2) scale(0.889 1.111)" font-family="Liberation Mono" font-size="6.0" font-weight="normal" text-anchor="middle" fill="#444">S</text>
<text transform="translate(1279.5 347.7) scale(0.889 1.111)" font-family="Liberation Mono" font-size="6.0" font-weight="normal" text-anchor="middle" fill="#444">a1</text>
<text transform="translate(1302.5 345.9) scale(0.889 1.111)" font-family="Liberation Mono" font-size="6.0" font-weight="normal" text-anchor="middle" fill="#444">A1</text>
<text transform="translate(1318 345.9) scale(0.889 1.111)" font-family="Liberation Mono" font-size="6.0" font-weight="normal" text-anchor="middle" fill="#444">B1</text>
<text transform="translate(1336.3 333.5) scale(0.889 1.111)" font-family="Liberation Mono" font-size="6.0" font-weight="normal" text-anchor="middle" fill="#444">a2</text>
<text transform="translate(1357.3 346.6) scale(0.889 1.111)" font-family="Liberation Mono" font-size="6.0" font-weight="normal" text-anchor="middle" fill="#444">A2</text>
<text transform="translate(1370.2 346.6) scale(0.889 1.111)" font-family="Liberation Mono" font-size="6.0" font-weight="normal" text-anchor="middle" fill="#444">B2</text>
<text transform="translate(1409.9 333.5) scale(0.889 1.111)" font-family="Liberation Mono" font-size="6.0" font-weight="normal" text-anchor="middle" fill="#444">a3</text>
<text transform="translate(1423.6 347.7) scale(0.889 1.111)" font-family="Liberation Mono" font-size="6.0" font-weight="normal" text-anchor="middle" fill="#444">A3</text>
<text transform="translate(1435.4 347.7) scale(0.889 1.111)" font-family="Liberation Mono" font-size="6.0" font-weight="normal" text-anchor="middle" fill="#444">B3</text>
<text transform="translate(1468.3 333.5) scale(0.889 1.111)" font-family="Liberation Mono" font-size="6.0" font-weight="normal" text-anchor="middle" fill="#444">a4</text>
<text transform="translate(1482 347.7) scale(0.889 1.111)" font-family="Liberation Mono" font-size="6.0" font-weight="normal" text-anchor="middle" fill="#444">A4</text>
<text transform="translate(1494.1 347.7) scale(0.889 1.111)" font-family="Liberation Mono" font-size="6.0" font-weight="normal" text-anchor="middle" fill="#444">B4</text>
<text transform="translate(1184.8 385.3) scale(0.889 1.111)" font-family="Liberation Mono" font-size="6.0" font-weight="normal" text-anchor="middle" fill="#444">P</text>
<text transform="translate(1179.3 408.2) scale(0.889 1.111)" font-family="Liberation Mono" font-size="6.0" font-weight="normal" text-anchor="middle" fill="#444">Ps</text>
<text transform="translate(1184 440.5) scale(0.889 1.111)" font-family="Liberation Mono" font-size="6.0" font-weight="normal" text-anchor="middle" fill="#444">T</text>
<text transform="translate(1292.8 495.2) scale(0.889 1.111)" font-family="Liberation Mono" font-size="6.0" font-weight="normal" text-anchor="middle" fill="#444">b1</text>
<text transform="translate(1363.9 508.3) scale(0.889 1.111)" font-family="Liberation Mono" font-size="6.0" font-weight="normal" text-anchor="middle" fill="#444">b2</text>
<text transform="translate(1409.9 508.3) scale(0.889 1.111)" font-family="Liberation Mono" font-size="6.0" font-weight="normal" text-anchor="middle" fill="#444">b3</text>
<text transform="translate(1468.3 508.3) scale(0.889 1.111)" font-family="Liberation Mono" font-size="6.0" font-weight="normal" text-anchor="middle" fill="#444">b4</text>
<text transform="translate(1547 363.3) scale(0.833 1.010)" font-family="Liberation Mono" font-size="6.0" font-weight="normal" text-anchor="start" fill="#3a3a3a">MP</text>
<text transform="translate(1547 436.6) scale(0.694 0.859)" font-family="Liberation Mono" font-size="6.0" font-weight="normal" text-anchor="start" fill="#3a3a3a">TANK</text>
<text transform="translate(1298.1 308.1) rotate(90) translate(0 1.6) scale(0.686 0.783)" font-family="Liberation Mono" font-size="6.0" font-weight="normal" text-anchor="start" fill="#333">Q=150&amp;190 L/min</text>
<text transform="translate(1292.1 308) rotate(90) translate(0 1.6) scale(0.686 0.783)" font-family="Liberation Mono" font-size="6.0" font-weight="normal" text-anchor="start" fill="#333">BUCKET</text>
<text transform="translate(1324.4 308) rotate(90) translate(0 1.6) scale(0.686 0.783)" font-family="Liberation Mono" font-size="6.0" font-weight="normal" text-anchor="start" fill="#333">Q=150&amp;190 L/min</text>
<text transform="translate(1351.2 303.4) rotate(90) translate(0 1.6) scale(0.686 0.783)" font-family="Liberation Mono" font-size="6.0" font-weight="normal" text-anchor="start" fill="#333">BOOM</text>
<text transform="translate(1357.3 303.4) rotate(90) translate(0 1.6) scale(0.686 0.783)" font-family="Liberation Mono" font-size="6.0" font-weight="normal" text-anchor="start" fill="#333">Q=204.5 L/min</text>
<text transform="translate(1370.3 303.4) rotate(90) translate(0 1.6) scale(0.686 0.783)" font-family="Liberation Mono" font-size="6.0" font-weight="normal" text-anchor="start" fill="#333">Q=150±10 L/min</text>
<text transform="translate(1420.5 304.1) rotate(90) translate(0 1.6) scale(0.686 0.783)" font-family="Liberation Mono" font-size="6.0" font-weight="normal" text-anchor="start" fill="#333">OPTION</text>
<text transform="translate(1426.5 304.1) rotate(90) translate(0 1.6) scale(0.686 0.783)" font-family="Liberation Mono" font-size="6.0" font-weight="normal" text-anchor="start" fill="#333">Q=150±10 L/min</text>
<text transform="translate(1435.9 303.6) rotate(90) translate(0 1.6) scale(0.686 0.783)" font-family="Liberation Mono" font-size="6.0" font-weight="normal" text-anchor="start" fill="#333">Q=150±10 L/min</text>
<text transform="translate(1478.7 304.8) rotate(90) translate(0 1.6) scale(0.686 0.783)" font-family="Liberation Mono" font-size="6.0" font-weight="normal" text-anchor="start" fill="#333">OPTION</text>
<text transform="translate(1484.6 304.8) rotate(90) translate(0 1.6) scale(0.686 0.783)" font-family="Liberation Mono" font-size="6.0" font-weight="normal" text-anchor="start" fill="#333">Q=150±10 L/min</text>
<text transform="translate(1494.7 304.3) rotate(90) translate(0 1.6) scale(0.686 0.783)" font-family="Liberation Mono" font-size="6.0" font-weight="normal" text-anchor="start" fill="#333">Q=150±10 L/min</text>
<text transform="translate(644.9 527) scale(0.833 1.010)" font-family="Liberation Mono" font-size="6.0" font-weight="normal" text-anchor="middle" fill="#3a3a3a">M2</text>
<text transform="translate(645.7 544.1) scale(0.833 1.010)" font-family="Liberation Mono" font-size="6.0" font-weight="normal" text-anchor="middle" fill="#3a3a3a">M1</text>
<text transform="translate(694 527) scale(0.833 1.010)" font-family="Liberation Mono" font-size="6.0" font-weight="normal" text-anchor="start" fill="#3a3a3a">IN</text>
<text transform="translate(694 544.1) scale(0.833 1.010)" font-family="Liberation Mono" font-size="6.0" font-weight="normal" text-anchor="start" fill="#3a3a3a">TANK</text>
<text transform="translate(654.1 556.4) scale(0.764 0.934)" font-family="Liberation Mono" font-size="6.0" font-weight="normal" text-anchor="start" fill="#3a3a3a">STANDARD FAN</text>
<text transform="translate(654.1 561.9) scale(0.764 0.934)" font-family="Liberation Mono" font-size="6.0" font-weight="normal" text-anchor="start" fill="#3a3a3a">CONTROL</text>
<text transform="translate(712 503.7) scale(0.917 1.111)" font-family="Liberation Mono" font-size="6.0" font-weight="normal" text-anchor="middle" fill="#3a3a3a">M2</text>
<text transform="translate(712 578.2) scale(0.917 1.111)" font-family="Liberation Mono" font-size="6.0" font-weight="normal" text-anchor="middle" fill="#3a3a3a">M1</text>
<text transform="translate(825 504.5) scale(0.933 1.010)" font-family="Liberation Mono" font-size="6.0" font-weight="normal" text-anchor="start" fill="#3a3a3a">P</text>
<text transform="translate(824 579.5) scale(0.933 1.010)" font-family="Liberation Mono" font-size="6.0" font-weight="normal" text-anchor="start" fill="#3a3a3a">T</text>
<text transform="translate(723.5 577.9) scale(0.933 1.111)" font-family="Liberation Mono" font-size="6.0" font-weight="normal" text-anchor="start" fill="#3a3a3a">FAN REVERSE</text>
<text transform="translate(723.5 584.5) scale(0.933 1.111)" font-family="Liberation Mono" font-size="6.0" font-weight="normal" text-anchor="start" fill="#3a3a3a">OPTION</text>
<text transform="translate(579.2 654.7) scale(0.933 1.111)" font-family="Liberation Mono" font-size="6.0" font-weight="normal" text-anchor="start" fill="#3a3a3a">COOLER</text>
<text transform="translate(579.2 661.3) scale(0.933 1.111)" font-family="Liberation Mono" font-size="6.0" font-weight="normal" text-anchor="start" fill="#3a3a3a">BYPASS</text>
<text transform="translate(593.1 633.2) scale(0.933 1.111)" font-family="Liberation Mono" font-size="6.0" font-weight="normal" text-anchor="start" fill="#3a3a3a">5.5</text>
<text transform="translate(593.1 640.2) scale(0.933 1.111)" font-family="Liberation Mono" font-size="6.0" font-weight="normal" text-anchor="start" fill="#3a3a3a">BAR</text>
<text transform="translate(679.9 646.8) scale(0.933 0.960)" font-family="Liberation Mono" font-size="6.0" font-weight="normal" text-anchor="start" fill="#3a3a3a">10 MICRON</text>
<text transform="translate(679.9 652.1) scale(0.933 0.960)" font-family="Liberation Mono" font-size="6.0" font-weight="normal" text-anchor="start" fill="#3a3a3a">MEDIA</text>
<text transform="translate(679.9 662.6) scale(0.933 0.960)" font-family="Liberation Mono" font-size="6.0" font-weight="normal" text-anchor="start" fill="#3a3a3a">BYPASS</text>
<text transform="translate(679.9 667.9) scale(0.933 0.960)" font-family="Liberation Mono" font-size="6.0" font-weight="normal" text-anchor="start" fill="#3a3a3a">3.4 BAR</text>
<text transform="translate(679.9 678.4) scale(0.933 0.960)" font-family="Liberation Mono" font-size="6.0" font-weight="normal" text-anchor="start" fill="#3a3a3a">PHT</text>
<text transform="translate(679.9 683.7) scale(0.933 0.960)" font-family="Liberation Mono" font-size="6.0" font-weight="normal" text-anchor="start" fill="#3a3a3a">WARNING SW</text>
<text transform="translate(679.9 689) scale(0.933 0.960)" font-family="Liberation Mono" font-size="6.0" font-weight="normal" text-anchor="start" fill="#3a3a3a">2.7 BAR</text>
<text transform="translate(651.5 699.9) scale(0.958 0.960)" font-family="Liberation Mono" font-size="6.0" font-weight="normal" text-anchor="start" fill="#3a3a3a">100 MESH</text>
<text transform="translate(651.5 705.2) scale(0.958 0.960)" font-family="Liberation Mono" font-size="6.0" font-weight="normal" text-anchor="start" fill="#3a3a3a">.03 BAR CHECK</text>
<text transform="translate(651.5 710.5) scale(0.958 0.960)" font-family="Liberation Mono" font-size="6.0" font-weight="normal" text-anchor="start" fill="#3a3a3a">.35 BAR RELIEF</text>
<text transform="translate(685.1 768.3) scale(0.778 0.960)" font-family="Liberation Mono" font-size="6.0" font-weight="normal" text-anchor="start" fill="#3a3a3a">RESERVOIR</text>
<text transform="translate(685.1 774.3) scale(0.778 0.960)" font-family="Liberation Mono" font-size="6.0" font-weight="normal" text-anchor="start" fill="#3a3a3a">65 LITER</text>
<text transform="translate(780.4 789) scale(0.639 0.808)" font-family="Liberation Mono" font-size="6.0" font-weight="normal" text-anchor="start" fill="#3a3a3a">STRAINER</text>
<text transform="translate(780.4 794.2) scale(0.639 0.808)" font-family="Liberation Mono" font-size="6.0" font-weight="normal" text-anchor="start" fill="#3a3a3a">100 MESH</text>
<text transform="translate(806.1 789) scale(0.639 0.808)" font-family="Liberation Mono" font-size="6.0" font-weight="normal" text-anchor="start" fill="#3a3a3a">STRAINER</text>
<text transform="translate(806.1 794.2) scale(0.639 0.808)" font-family="Liberation Mono" font-size="6.0" font-weight="normal" text-anchor="start" fill="#3a3a3a">100 MESH</text>
<text transform="translate(858.7 789) scale(0.639 0.808)" font-family="Liberation Mono" font-size="6.0" font-weight="normal" text-anchor="start" fill="#3a3a3a">STRAINER</text>
<text transform="translate(858.7 794.2) scale(0.639 0.808)" font-family="Liberation Mono" font-size="6.0" font-weight="normal" text-anchor="start" fill="#3a3a3a">100 MESH</text>
<text transform="translate(893.4 767) scale(0.933 1.010)" font-family="Liberation Mono" font-size="6.0" font-weight="normal" text-anchor="start" fill="#3a3a3a">VENT</text>
<text transform="translate(893.4 773) scale(0.933 1.010)" font-family="Liberation Mono" font-size="6.0" font-weight="normal" text-anchor="start" fill="#3a3a3a">CHECK</text>
<text transform="translate(894 786) scale(0.861 1.010)" font-family="Liberation Mono" font-size="6.0" font-weight="normal" text-anchor="start" fill="#3a3a3a">0.25</text>
<text transform="translate(894 792) scale(0.861 1.010)" font-family="Liberation Mono" font-size="6.0" font-weight="normal" text-anchor="start" fill="#3a3a3a">BAR</text>
<text transform="translate(996.8 572.2) scale(0.889 1.111)" font-family="Liberation Mono" font-size="6.0" font-weight="normal" text-anchor="middle" fill="#444">B</text>
<text transform="translate(1069.1 572.2) scale(0.889 1.111)" font-family="Liberation Mono" font-size="6.0" font-weight="normal" text-anchor="middle" fill="#444">X</text>
<text transform="translate(1017 688.9) scale(0.889 1.111)" font-family="Liberation Mono" font-size="6.0" font-weight="normal" text-anchor="middle" fill="#444">S</text>
<text transform="translate(1059 688.9) scale(0.889 1.111)" font-family="Liberation Mono" font-size="6.0" font-weight="normal" text-anchor="middle" fill="#444">L1</text>
<text transform="translate(1080.2 688.9) scale(0.889 1.111)" font-family="Liberation Mono" font-size="6.0" font-weight="normal" text-anchor="middle" fill="#444">L</text>
<text transform="translate(1081 583) scale(0.972 1.263)" font-family="Liberation Mono" font-size="6.0" font-weight="normal" text-anchor="start" fill="#3a3a3a">DELTA = 24 BAR</text>
<text transform="translate(1081 593.5) scale(0.972 1.263)" font-family="Liberation Mono" font-size="6.0" font-weight="normal" text-anchor="start" fill="#3a3a3a">CUTOFF = 280 BAR</text>
<text transform="translate(1030.7 667.6) scale(0.972 1.212)" font-family="Liberation Mono" font-size="6.0" font-weight="normal" text-anchor="start" fill="#3a3a3a">A10V085</text>
<text transform="translate(1030.7 675.4) scale(0.972 1.212)" font-family="Liberation Mono" font-size="6.0" font-weight="normal" text-anchor="start" fill="#3a3a3a">90 cc/rev</text>
<text transform="translate(1158 636.7) scale(0.722 0.859)" font-family="Liberation Mono" font-size="6.0" font-weight="bold" text-anchor="start" fill="#2a6fdb">LS</text>
<text transform="translate(1168.5 636.7) scale(0.722 0.859)" font-family="Liberation Mono" font-size="6.0" font-weight="bold" text-anchor="start" fill="#2a6fdb">SLS</text>
<text transform="translate(1186 636.7) scale(0.722 0.859)" font-family="Liberation Mono" font-size="6.0" font-weight="bold" text-anchor="start" fill="#2a6fdb">ST</text>
<text transform="translate(1197 636.7) scale(0.722 0.859)" font-family="Liberation Mono" font-size="6.0" font-weight="bold" text-anchor="start" fill="#2a6fdb">CF</text>
<text transform="translate(1201 650.7) scale(0.722 0.859)" font-family="Liberation Mono" font-size="6.0" font-weight="bold" text-anchor="start" fill="#2a6fdb">SW</text>
<text transform="translate(1145 699.2) scale(0.722 0.859)" font-family="Liberation Mono" font-size="6.0" font-weight="bold" text-anchor="start" fill="#2a6fdb">T</text>
<text transform="translate(1186.5 699.2) scale(0.722 0.859)" font-family="Liberation Mono" font-size="6.0" font-weight="bold" text-anchor="start" fill="#2a6fdb">P</text>
<text transform="translate(1218.8 643.9) scale(0.833 0.960)" font-family="Liberation Mono" font-size="6.0" font-weight="bold" text-anchor="start" fill="#2a6fdb">PSS</text>
<text transform="translate(1218.8 649.9) scale(0.833 0.960)" font-family="Liberation Mono" font-size="6.0" font-weight="bold" text-anchor="start" fill="#2a6fdb">Transducer</text>
<text transform="translate(1202.5 680.7) scale(0.833 0.960)" font-family="Liberation Mono" font-size="6.0" font-weight="bold" text-anchor="start" fill="#2a6fdb">Optional</text>
<text transform="translate(1202.5 686.8) scale(0.833 0.960)" font-family="Liberation Mono" font-size="6.0" font-weight="bold" text-anchor="start" fill="#2a6fdb">Auxiliary</text>
<text transform="translate(1202.5 692.9) scale(0.833 0.960)" font-family="Liberation Mono" font-size="6.0" font-weight="bold" text-anchor="start" fill="#2a6fdb">Steering</text>
<text transform="translate(1362.6 564) scale(0.933 1.263)" font-family="Liberation Mono" font-size="6.0" font-weight="normal" text-anchor="middle" fill="#555">P</text>
<text transform="translate(1360 591) scale(1.056 1.364)" font-family="Liberation Mono" font-size="6.0" font-weight="normal" text-anchor="middle" fill="#555">LS</text>
<text transform="translate(1362.6 616.6) scale(0.933 1.263)" font-family="Liberation Mono" font-size="6.0" font-weight="normal" text-anchor="middle" fill="#555">T</text>
<text transform="translate(1344 577.1) scale(0.944 0.960)" font-family="Liberation Mono" font-size="6.0" font-weight="normal" text-anchor="start" fill="#3a3a3a">Ø.71</text>
<text transform="translate(1478.5 550) rotate(90) translate(0 2.5) scale(1.111 1.263)" font-family="Liberation Mono" font-size="6.0" font-weight="normal" text-anchor="middle" fill="#555">L</text>
<text transform="translate(1476.7 608.9) rotate(90) translate(0 2.5) scale(1.111 1.263)" font-family="Liberation Mono" font-size="6.0" font-weight="normal" text-anchor="middle" fill="#555">R</text>
<text transform="translate(1367.6 624.7) scale(0.933 1.111)" font-family="Liberation Mono" font-size="6.0" font-weight="normal" text-anchor="start" fill="#3a3a3a">ORB-20 Orbitrol</text>
<text transform="translate(1367.6 631.3) scale(0.933 1.111)" font-family="Liberation Mono" font-size="6.0" font-weight="normal" text-anchor="start" fill="#3a3a3a">983 CC PER REV</text>
<text transform="translate(1495.9 584.4) scale(0.889 1.061)" font-family="Liberation Mono" font-size="6.0" font-weight="normal" text-anchor="start" fill="#3a3a3a">Steering</text>
<text transform="translate(1495.9 591.1) scale(0.889 1.061)" font-family="Liberation Mono" font-size="6.0" font-weight="normal" text-anchor="start" fill="#3a3a3a">Cylinders (2)</text>
<text transform="translate(1495.9 597.8) scale(0.889 1.061)" font-family="Liberation Mono" font-size="6.0" font-weight="normal" text-anchor="start" fill="#3a3a3a">76.2/44.5X481.9</text>
<text transform="translate(1439.9 650.8) scale(0.847 1.010)" font-family="Liberation Mono" font-size="6.0" font-weight="normal" text-anchor="start" fill="#3a3a3a">Cutoff Valve</text>
<text transform="translate(1524.1 647.4) scale(0.847 1.010)" font-family="Liberation Mono" font-size="6.0" font-weight="normal" text-anchor="start" fill="#3a3a3a">Cutoff Valve</text>
<text transform="translate(1340.2 704) scale(0.736 0.909)" font-family="Liberation Mono" font-size="6.0" font-weight="normal" text-anchor="start" fill="#3a3a3a">STEERING</text>
<text transform="translate(1340.2 709.6) scale(0.736 0.909)" font-family="Liberation Mono" font-size="6.0" font-weight="normal" text-anchor="start" fill="#3a3a3a">BACK-PRESSURE</text>
<text transform="translate(1340.2 715.2) scale(0.736 0.909)" font-family="Liberation Mono" font-size="6.0" font-weight="normal" text-anchor="start" fill="#3a3a3a">RELIEF VALVE</text>
<text transform="translate(1340.2 720.8) scale(0.736 0.909)" font-family="Liberation Mono" font-size="6.0" font-weight="normal" text-anchor="start" fill="#3a3a3a">8-10 BAR</text>
<text transform="translate(1492.5 701.8) scale(0.750 0.859)" font-family="Liberation Mono" font-size="6.0" font-weight="normal" text-anchor="start" fill="#3a3a3a">JOYSTICK STEERING</text>
<text transform="translate(1492.5 707) scale(0.750 0.859)" font-family="Liberation Mono" font-size="6.0" font-weight="normal" text-anchor="start" fill="#3a3a3a">OPTION</text>
<path d="M592.5 173.9V247.8" stroke="#333" stroke-width="0.8" fill="none"/>
<rect x="569.2" y="176.3" width="13.7" height="9.9" fill="none" stroke="#222" stroke-width="0.8"/>
<path d="M570.4 178.3H580.4" stroke="#333" stroke-width="0.7" fill="none"/>
<path d="M571.7 180.3H581.7" stroke="#333" stroke-width="0.7" fill="none"/>
<path d="M570.4 182.2H580.4" stroke="#333" stroke-width="0.7" fill="none"/>
<path d="M571.7 184.2H581.7" stroke="#333" stroke-width="0.7" fill="none"/>
<path d="M570 176.3l-3.2 -3.6" stroke="#333" stroke-width="0.6" fill="none"/>
<path d="M573.5 176.3l-3.2 -3.6" stroke="#333" stroke-width="0.6" fill="none"/>
<path d="M577 176.3l3.2 -3.6" stroke="#333" stroke-width="0.6" fill="none"/>
<path d="M580.5 176.3l3.2 -3.6" stroke="#333" stroke-width="0.6" fill="none"/>
<path d="M569.2 177.8l-3.6 -3" stroke="#333" stroke-width="0.6" fill="none"/>
<path d="M582.9 177.8l3.6 -3" stroke="#333" stroke-width="0.6" fill="none"/>
<path d="M569.2 181.2l-3.6 -3" stroke="#333" stroke-width="0.6" fill="none"/>
<path d="M582.9 181.2l3.6 -3" stroke="#333" stroke-width="0.6" fill="none"/>
<path d="M569.2 184.7l-3.6 -3" stroke="#333" stroke-width="0.6" fill="none"/>
<path d="M582.9 184.7l3.6 -3" stroke="#333" stroke-width="0.6" fill="none"/>
<path d="M575.3 186.2V189.5M577.7 186.2V189.5" stroke="#222" stroke-width="0.7" fill="none"/>
<rect x="571.8" y="189.5" width="9.4" height="12.2" fill="none" stroke="#222" stroke-width="0.8"/>
<path d="M571.8 197.8H581.2" stroke="#222" stroke-width="0.7" fill="none"/>
<path d="M575.5 189.5V197.8M577.5 189.5V197.8" stroke="#222" stroke-width="0.6" fill="none"/>
<path d="M572.9 190.3L580.1 192L572.9 193.6L580.1 195.3L572.9 197" stroke="#111" stroke-width="0.9" fill="none"/>
<rect x="571.8" y="219.1" width="9.4" height="13.2" fill="none" stroke="#222" stroke-width="0.8"/>
<path d="M571.8 223.3H581.2" stroke="#222" stroke-width="0.7" fill="none"/>
<path d="M575.5 223.3V232.3M577.5 223.3V232.3" stroke="#222" stroke-width="0.6" fill="none"/>
<path d="M572.9 224.1L580.1 226L572.9 227.8L580.1 229.7L572.9 231.5" stroke="#111" stroke-width="0.9" fill="none"/>
<path d="M575.3 232.3V235.6M577.7 232.3V235.6" stroke="#222" stroke-width="0.7" fill="none"/>
<rect x="569.2" y="235.6" width="13.7" height="8.9" fill="none" stroke="#222" stroke-width="0.8"/>
<path d="M570.4 237.4H580.4" stroke="#333" stroke-width="0.7" fill="none"/>
<path d="M571.7 239.2H581.7" stroke="#333" stroke-width="0.7" fill="none"/>
<path d="M570.4 240.9H580.4" stroke="#333" stroke-width="0.7" fill="none"/>
<path d="M571.7 242.7H581.7" stroke="#333" stroke-width="0.7" fill="none"/>
<path d="M570 244.5l-3.2 3.6" stroke="#333" stroke-width="0.6" fill="none"/>
<path d="M573.5 244.5l-3.2 3.6" stroke="#333" stroke-width="0.6" fill="none"/>
<path d="M577 244.5l3.2 3.6" stroke="#333" stroke-width="0.6" fill="none"/>
<path d="M580.5 244.5l3.2 3.6" stroke="#333" stroke-width="0.6" fill="none"/>
<path d="M569.2 236.9l-3.6 3" stroke="#333" stroke-width="0.6" fill="none"/>
<path d="M582.9 236.9l3.6 3" stroke="#333" stroke-width="0.6" fill="none"/>
<path d="M569.2 240.1l-3.6 3" stroke="#333" stroke-width="0.6" fill="none"/>
<path d="M582.9 240.1l3.6 3" stroke="#333" stroke-width="0.6" fill="none"/>
<path d="M569.2 243.2l-3.6 3" stroke="#333" stroke-width="0.6" fill="none"/>
<path d="M582.9 243.2l3.6 3" stroke="#333" stroke-width="0.6" fill="none"/>
<rect x="601.6" y="176.3" width="13.7" height="9.9" fill="none" stroke="#222" stroke-width="0.8"/>
<path d="M602.8 178.3H612.8" stroke="#333" stroke-width="0.7" fill="none"/>
<path d="M604.1 180.3H614.1" stroke="#333" stroke-width="0.7" fill="none"/>
<path d="M602.8 182.2H612.8" stroke="#333" stroke-width="0.7" fill="none"/>
<path d="M604.1 184.2H614.1" stroke="#333" stroke-width="0.7" fill="none"/>
<path d="M602.4 176.3l-3.2 -3.6" stroke="#333" stroke-width="0.6" fill="none"/>
<path d="M605.9 176.3l-3.2 -3.6" stroke="#333" stroke-width="0.6" fill="none"/>
<path d="M609.4 176.3l3.2 -3.6" stroke="#333" stroke-width="0.6" fill="none"/>
<path d="M612.9 176.3l3.2 -3.6" stroke="#333" stroke-width="0.6" fill="none"/>
<path d="M601.6 177.8l-3.6 -3" stroke="#333" stroke-width="0.6" fill="none"/>
<path d="M615.3 177.8l3.6 -3" stroke="#333" stroke-width="0.6" fill="none"/>
<path d="M601.6 181.2l-3.6 -3" stroke="#333" stroke-width="0.6" fill="none"/>
<path d="M615.3 181.2l3.6 -3" stroke="#333" stroke-width="0.6" fill="none"/>
<path d="M601.6 184.7l-3.6 -3" stroke="#333" stroke-width="0.6" fill="none"/>
<path d="M615.3 184.7l3.6 -3" stroke="#333" stroke-width="0.6" fill="none"/>
<path d="M607.7 186.2V189.5M610.1 186.2V189.5" stroke="#222" stroke-width="0.7" fill="none"/>
<rect x="604.2" y="189.5" width="9.4" height="12.2" fill="none" stroke="#222" stroke-width="0.8"/>
<path d="M604.2 197.8H613.6" stroke="#222" stroke-width="0.7" fill="none"/>
<path d="M607.9 189.5V197.8M609.9 189.5V197.8" stroke="#222" stroke-width="0.6" fill="none"/>
<path d="M605.3 190.3L612.5 192L605.3 193.6L612.5 195.3L605.3 197" stroke="#111" stroke-width="0.9" fill="none"/>
<rect x="604.2" y="219.1" width="9.4" height="13.2" fill="none" stroke="#222" stroke-width="0.8"/>
<path d="M604.2 223.3H613.6" stroke="#222" stroke-width="0.7" fill="none"/>
<path d="M607.9 223.3V232.3M609.9 223.3V232.3" stroke="#222" stroke-width="0.6" fill="none"/>
<path d="M605.3 224.1L612.5 226L605.3 227.8L612.5 229.7L605.3 231.5" stroke="#111" stroke-width="0.9" fill="none"/>
<path d="M607.7 232.3V235.6M610.1 232.3V235.6" stroke="#222" stroke-width="0.7" fill="none"/>
<rect x="601.6" y="235.6" width="13.7" height="8.9" fill="none" stroke="#222" stroke-width="0.8"/>
<path d="M602.8 237.4H612.8" stroke="#333" stroke-width="0.7" fill="none"/>
<path d="M604.1 239.2H614.1" stroke="#333" stroke-width="0.7" fill="none"/>
<path d="M602.8 240.9H612.8" stroke="#333" stroke-width="0.7" fill="none"/>
<path d="M604.1 242.7H614.1" stroke="#333" stroke-width="0.7" fill="none"/>
<path d="M602.4 244.5l-3.2 3.6" stroke="#333" stroke-width="0.6" fill="none"/>
<path d="M605.9 244.5l-3.2 3.6" stroke="#333" stroke-width="0.6" fill="none"/>
<path d="M609.4 244.5l3.2 3.6" stroke="#333" stroke-width="0.6" fill="none"/>
<path d="M612.9 244.5l3.2 3.6" stroke="#333" stroke-width="0.6" fill="none"/>
<path d="M601.6 236.9l-3.6 3" stroke="#333" stroke-width="0.6" fill="none"/>
<path d="M615.3 236.9l3.6 3" stroke="#333" stroke-width="0.6" fill="none"/>
<path d="M601.6 240.1l-3.6 3" stroke="#333" stroke-width="0.6" fill="none"/>
<path d="M615.3 240.1l3.6 3" stroke="#333" stroke-width="0.6" fill="none"/>
<path d="M601.6 243.2l-3.6 3" stroke="#333" stroke-width="0.6" fill="none"/>
<path d="M615.3 243.2l3.6 3" stroke="#333" stroke-width="0.6" fill="none"/>
<path d="M571.8 189.5H613.6M571.8 201.7H613.6M571.8 219.1H613.6M571.8 232.300H613.6" stroke="#222" stroke-width="0.8" fill="none"/>
<path d="M576.5 201.7V219.1" stroke="#222" stroke-width="0.9" fill="none"/>
<circle cx="576.5" cy="210.8" r="1.6" fill="#111"/>
<circle cx="608.9" cy="202.4" r="1.7" fill="#fff" stroke="#333" stroke-width="0.7"/>
<circle cx="608.9" cy="218.6" r="1.7" fill="#fff" stroke="#333" stroke-width="0.7"/>
<path d="M608.9 204.2V207M606.7 208.3h4.4M606.7 213.5h4.4M608.9 214.5V216.8" stroke="#444" stroke-width="0.7" fill="none"/>
<path d="M659.4 173.9V247.8" stroke="#333" stroke-width="0.8" fill="none"/>
<rect x="635.6" y="176.3" width="13.7" height="9.9" fill="none" stroke="#222" stroke-width="0.8"/>
<path d="M636.8 178.3H646.8" stroke="#333" stroke-width="0.7" fill="none"/>
<path d="M638.1 180.3H648.1" stroke="#333" stroke-width="0.7" fill="none"/>
<path d="M636.8 182.2H646.8" stroke="#333" stroke-width="0.7" fill="none"/>
<path d="M638.1 184.2H648.1" stroke="#333" stroke-width="0.7" fill="none"/>
<path d="M636.4 176.3l-3.2 -3.6" stroke="#333" stroke-width="0.6" fill="none"/>
<path d="M639.9 176.3l-3.2 -3.6" stroke="#333" stroke-width="0.6" fill="none"/>
<path d="M643.4 176.3l3.2 -3.6" stroke="#333" stroke-width="0.6" fill="none"/>
<path d="M646.9 176.3l3.2 -3.6" stroke="#333" stroke-width="0.6" fill="none"/>
<path d="M635.6 177.8l-3.6 -3" stroke="#333" stroke-width="0.6" fill="none"/>
<path d="M649.3 177.8l3.6 -3" stroke="#333" stroke-width="0.6" fill="none"/>
<path d="M635.6 181.2l-3.6 -3" stroke="#333" stroke-width="0.6" fill="none"/>
<path d="M649.3 181.2l3.6 -3" stroke="#333" stroke-width="0.6" fill="none"/>
<path d="M635.6 184.7l-3.6 -3" stroke="#333" stroke-width="0.6" fill="none"/>
<path d="M649.3 184.7l3.6 -3" stroke="#333" stroke-width="0.6" fill="none"/>
<path d="M641.7 186.2V189.5M644.1 186.2V189.5" stroke="#222" stroke-width="0.7" fill="none"/>
<rect x="638.2" y="189.5" width="9.4" height="12.2" fill="none" stroke="#222" stroke-width="0.8"/>
<path d="M638.2 197.8H647.6" stroke="#222" stroke-width="0.7" fill="none"/>
<path d="M641.9 189.5V197.8M643.9 189.5V197.8" stroke="#222" stroke-width="0.6" fill="none"/>
<path d="M639.3 190.3L646.5 192L639.3 193.6L646.5 195.3L639.3 197" stroke="#111" stroke-width="0.9" fill="none"/>
<rect x="638.2" y="219.1" width="9.4" height="13.2" fill="none" stroke="#222" stroke-width="0.8"/>
<path d="M638.2 223.3H647.6" stroke="#222" stroke-width="0.7" fill="none"/>
<path d="M641.9 223.3V232.3M643.9 223.3V232.3" stroke="#222" stroke-width="0.6" fill="none"/>
<path d="M639.3 224.1L646.5 226L639.3 227.8L646.5 229.7L639.3 231.5" stroke="#111" stroke-width="0.9" fill="none"/>
<path d="M641.7 232.3V235.6M644.1 232.3V235.6" stroke="#222" stroke-width="0.7" fill="none"/>
<rect x="635.6" y="235.6" width="13.7" height="8.9" fill="none" stroke="#222" stroke-width="0.8"/>
<path d="M636.8 237.4H646.8" stroke="#333" stroke-width="0.7" fill="none"/>
<path d="M638.1 239.2H648.1" stroke="#333" stroke-width="0.7" fill="none"/>
<path d="M636.8 240.9H646.8" stroke="#333" stroke-width="0.7" fill="none"/>
<path d="M638.1 242.7H648.1" stroke="#333" stroke-width="0.7" fill="none"/>
<path d="M636.4 244.5l-3.2 3.6" stroke="#333" stroke-width="0.6" fill="none"/>
<path d="M639.9 244.5l-3.2 3.6" stroke="#333" stroke-width="0.6" fill="none"/>
<path d="M643.4 244.5l3.2 3.6" stroke="#333" stroke-width="0.6" fill="none"/>
<path d="M646.9 244.5l3.2 3.6" stroke="#333" stroke-width="0.6" fill="none"/>
<path d="M635.6 236.9l-3.6 3" stroke="#333" stroke-width="0.6" fill="none"/>
<path d="M649.3 236.9l3.6 3" stroke="#333" stroke-width="0.6" fill="none"/>
<path d="M635.6 240.1l-3.6 3" stroke="#333" stroke-width="0.6" fill="none"/>
<path d="M649.3 240.1l3.6 3" stroke="#333" stroke-width="0.6" fill="none"/>
<path d="M635.6 243.2l-3.6 3" stroke="#333" stroke-width="0.6" fill="none"/>
<path d="M649.3 243.2l3.6 3" stroke="#333" stroke-width="0.6" fill="none"/>
<rect x="668.2" y="176.3" width="13.7" height="9.9" fill="none" stroke="#222" stroke-width="0.8"/>
<path d="M669.4 178.3H679.4" stroke="#333" stroke-width="0.7" fill="none"/>
<path d="M670.7 180.3H680.7" stroke="#333" stroke-width="0.7" fill="none"/>
<path d="M669.4 182.2H679.4" stroke="#333" stroke-width="0.7" fill="none"/>
<path d="M670.7 184.2H680.7" stroke="#333" stroke-width="0.7" fill="none"/>
<path d="M669 176.3l-3.2 -3.6" stroke="#333" stroke-width="0.6" fill="none"/>
<path d="M672.5 176.3l-3.2 -3.6" stroke="#333" stroke-width="0.6" fill="none"/>
<path d="M676 176.3l3.2 -3.6" stroke="#333" stroke-width="0.6" fill="none"/>
<path d="M679.5 176.3l3.2 -3.6" stroke="#333" stroke-width="0.6" fill="none"/>
<path d="M668.2 177.8l-3.6 -3" stroke="#333" stroke-width="0.6" fill="none"/>
<path d="M681.9 177.8l3.6 -3" stroke="#333" stroke-width="0.6" fill="none"/>
<path d="M668.2 181.2l-3.6 -3" stroke="#333" stroke-width="0.6" fill="none"/>
<path d="M681.9 181.2l3.6 -3" stroke="#333" stroke-width="0.6" fill="none"/>
<path d="M668.2 184.7l-3.6 -3" stroke="#333" stroke-width="0.6" fill="none"/>
<path d="M681.9 184.7l3.6 -3" stroke="#333" stroke-width="0.6" fill="none"/>
<path d="M674.3 186.2V189.5M676.7 186.2V189.5" stroke="#222" stroke-width="0.7" fill="none"/>
<rect x="670.8" y="189.5" width="9.4" height="12.2" fill="none" stroke="#222" stroke-width="0.8"/>
<path d="M670.8 197.8H680.2" stroke="#222" stroke-width="0.7" fill="none"/>
<path d="M674.5 189.5V197.8M676.5 189.5V197.8" stroke="#222" stroke-width="0.6" fill="none"/>
<path d="M671.9 190.3L679.1 192L671.9 193.6L679.1 195.3L671.9 197" stroke="#111" stroke-width="0.9" fill="none"/>
<rect x="670.8" y="219.1" width="9.4" height="13.2" fill="none" stroke="#222" stroke-width="0.8"/>
<path d="M670.8 223.3H680.2" stroke="#222" stroke-width="0.7" fill="none"/>
<path d="M674.5 223.3V232.3M676.5 223.3V232.3" stroke="#222" stroke-width="0.6" fill="none"/>
<path d="M671.9 224.1L679.1 226L671.9 227.8L679.1 229.7L671.9 231.5" stroke="#111" stroke-width="0.9" fill="none"/>
<path d="M674.3 232.3V235.6M676.7 232.3V235.6" stroke="#222" stroke-width="0.7" fill="none"/>
<rect x="668.2" y="235.6" width="13.7" height="8.9" fill="none" stroke="#222" stroke-width="0.8"/>
<path d="M669.4 237.4H679.4" stroke="#333" stroke-width="0.7" fill="none"/>
<path d="M670.7 239.2H680.7" stroke="#333" stroke-width="0.7" fill="none"/>
<path d="M669.4 240.9H679.4" stroke="#333" stroke-width="0.7" fill="none"/>
<path d="M670.7 242.7H680.7" stroke="#333" stroke-width="0.7" fill="none"/>
<path d="M669 244.5l-3.2 3.6" stroke="#333" stroke-width="0.6" fill="none"/>
<path d="M672.5 244.5l-3.2 3.6" stroke="#333" stroke-width="0.6" fill="none"/>
<path d="M676 244.5l3.2 3.6" stroke="#333" stroke-width="0.6" fill="none"/>
<path d="M679.5 244.5l3.2 3.6" stroke="#333" stroke-width="0.6" fill="none"/>
<path d="M668.2 236.9l-3.6 3" stroke="#333" stroke-width="0.6" fill="none"/>
<path d="M681.9 236.9l3.6 3" stroke="#333" stroke-width="0.6" fill="none"/>
<path d="M668.2 240.1l-3.6 3" stroke="#333" stroke-width="0.6" fill="none"/>
<path d="M681.9 240.1l3.6 3" stroke="#333" stroke-width="0.6" fill="none"/>
<path d="M668.2 243.2l-3.6 3" stroke="#333" stroke-width="0.6" fill="none"/>
<path d="M681.9 243.2l3.6 3" stroke="#333" stroke-width="0.6" fill="none"/>
<path d="M638.2 189.5H680.2M638.2 201.7H680.2M638.2 219.1H680.2M638.2 232.300H680.2" stroke="#222" stroke-width="0.8" fill="none"/>
<path d="M675.5 201.7V219.1" stroke="#222" stroke-width="0.9" fill="none"/>
<circle cx="675.5" cy="210.8" r="1.6" fill="#111"/>
<circle cx="642.9" cy="202.4" r="1.7" fill="#fff" stroke="#333" stroke-width="0.7"/>
<circle cx="642.9" cy="218.6" r="1.7" fill="#fff" stroke="#333" stroke-width="0.7"/>
<path d="M642.9 204.2V207M640.7 208.3h4.4M640.7 213.5h4.4M642.9 214.5V216.8" stroke="#444" stroke-width="0.7" fill="none"/>
<rect x="819.2" y="140" width="6.4" height="18.3" rx="3.2" fill="#fff" stroke="#222" stroke-width="0.9"/>
<rect x="821.2" y="138.8" width="2.400" height="1.400" fill="#fff" stroke="#333" stroke-width="0.6"/>
<path d="M819.2 149.2H825.6" stroke="#2b2b2b" stroke-width="0.7" fill="none"/>
<path d="M821.2 147l1.2 1.6 1.2-1.6z" stroke="#2b2b2b" stroke-width="0.5" fill="#222"/>
<rect x="801.4" y="178.6" width="6.4" height="18.4" rx="3.2" fill="#fff" stroke="#222" stroke-width="0.9"/>
<rect x="803.4" y="177.4" width="2.400" height="1.400" fill="#fff" stroke="#333" stroke-width="0.6"/>
<path d="M801.4 187.8H807.8" stroke="#2b2b2b" stroke-width="0.7" fill="none"/>
<path d="M803.4 185.6l1.2 1.6 1.2-1.6z" stroke="#2b2b2b" stroke-width="0.5" fill="#222"/>
<rect x="726.7" y="258.8" width="6.4" height="18.2" rx="3.2" fill="#fff" stroke="#222" stroke-width="0.9"/>
<rect x="728.7" y="257.6" width="2.400" height="1.400" fill="#fff" stroke="#333" stroke-width="0.6"/>
<path d="M726.7 267.9H733.1" stroke="#2b2b2b" stroke-width="0.7" fill="none"/>
<path d="M728.7 265.7l1.2 1.6 1.2-1.6z" stroke="#2b2b2b" stroke-width="0.5" fill="#222"/>
<rect x="615.9" y="298.7" width="6.4" height="19.3" rx="3.2" fill="#fff" stroke="#222" stroke-width="0.9"/>
<rect x="617.9" y="297.5" width="2.400" height="1.400" fill="#fff" stroke="#333" stroke-width="0.6"/>
<path d="M615.9 308.4H622.3" stroke="#2b2b2b" stroke-width="0.7" fill="none"/>
<path d="M617.9 306.2l1.2 1.6 1.2-1.6z" stroke="#2b2b2b" stroke-width="0.5" fill="#222"/>
<rect x="757.4" y="393.6" width="6.4" height="17.1" rx="3.2" fill="#fff" stroke="#222" stroke-width="0.9"/>
<rect x="759.4" y="392.4" width="2.400" height="1.400" fill="#fff" stroke="#333" stroke-width="0.6"/>
<path d="M757.4 402.1H763.8" stroke="#2b2b2b" stroke-width="0.7" fill="none"/>
<path d="M759.4 399.9l1.2 1.6 1.2-1.6z" stroke="#2b2b2b" stroke-width="0.5" fill="#222"/>
<rect x="1002.8" y="254.8" width="6.4" height="18.2" rx="3.2" fill="#fff" stroke="#222" stroke-width="0.9"/>
<rect x="1004.8" y="253.6" width="2.400" height="1.400" fill="#fff" stroke="#333" stroke-width="0.6"/>
<path d="M1002.8 263.9H1009.2" stroke="#2b2b2b" stroke-width="0.7" fill="none"/>
<path d="M1004.8 261.7l1.2 1.6 1.2-1.6z" stroke="#2b2b2b" stroke-width="0.5" fill="#222"/>
<rect x="1494.8" y="110.2" width="6.4" height="18.4" rx="3.2" fill="#fff" stroke="#222" stroke-width="0.9"/>
<rect x="1496.8" y="109" width="2.400" height="1.400" fill="#fff" stroke="#333" stroke-width="0.6"/>
<path d="M1494.8 119.4H1501.2" stroke="#2b2b2b" stroke-width="0.7" fill="none"/>
<path d="M1496.8 117.2l1.2 1.6 1.2-1.6z" stroke="#2b2b2b" stroke-width="0.5" fill="#222"/>
<path d="M822.4 170.7h9.3" stroke="#2b2b2b" stroke-width="0.9" fill="none"/>
<path d="M831.7 166h4.200v9.400h-4.200z" stroke="#2b2b2b" stroke-width="0.8" fill="#fff"/>
<path d="M835.9 167.9h2.400a2.800 2.800 0 0 1 0 5.600h-2.400" stroke="#2b2b2b" stroke-width="0.8" fill="#fff"/>
<path d="M760.6 376.5h9.2" stroke="#2b2b2b" stroke-width="0.9" fill="none"/>
<path d="M769.8 371.8h4.200v9.400h-4.200z" stroke="#2b2b2b" stroke-width="0.8" fill="#fff"/>
<path d="M774 373.7h2.400a2.800 2.800 0 0 1 0 5.600h-2.400" stroke="#2b2b2b" stroke-width="0.8" fill="#fff"/>
<path d="M764 344.2h-8.7" stroke="#2b2b2b" stroke-width="0.9" fill="none"/>
<path d="M755.3 339.5h-4.200v9.400h4.200z" stroke="#2b2b2b" stroke-width="0.8" fill="#fff"/>
<path d="M751.1 341.4h-2.400a2.800 2.800 0 0 0 0 5.600h2.400" stroke="#2b2b2b" stroke-width="0.8" fill="#fff"/>
<path d="M853.2 209.6v-9.4" stroke="#2b2b2b" stroke-width="0.9" fill="none"/>
<path d="M848.5 200.2v-4.200h9.400v4.200z" stroke="#2b2b2b" stroke-width="0.8" fill="#fff"/>
<path d="M850.4 196v-2.400a2.800 2.800 0 0 1 5.600 0v2.400" stroke="#2b2b2b" stroke-width="0.8" fill="#fff"/>
<rect x="742.6" y="206" width="5.6" height="17.3" fill="none" stroke="#222" stroke-width="0.8"/>
<path d="M745.400 207V217" stroke="#111" stroke-width="1.8" fill="none"/>
<path d="M742.6 219.500H748.2" stroke="#111" stroke-width="1.4" fill="none"/>
<path d="M764.5 232.5 H869.5 V237.5" stroke="#2a2a2a" stroke-width="0.8" fill="none"/>
<path d="M869.8 237.5 L871.4 238.2 L868.2 239.6 L871.4 241 L868.2 242.5 L871.4 243.9 L868.2 245.3 L869.8 246" stroke="#2b2b2b" stroke-width="0.7" fill="none"/>
<path d="M869.5 246.5 V262.5 H906.5" stroke="#2a2a2a" stroke-width="0.8" fill="none"/>
<path d="M804.5 209.5 V232.5" stroke="#2a2a2a" stroke-width="0.8" fill="none"/>
<path d="M822.5 209.5 V338.5" stroke="#2a2a2a" stroke-width="0.8" fill="none"/>
<path d="M832.5 232.5 V214.5 H853.5 V209.5" stroke="#2a2a2a" stroke-width="0.8" fill="none"/>
<path d="M832.5 232.5 V269.5 H826.5" stroke="#2a2a2a" stroke-width="0.8" fill="none"/>
<rect x="818.2" y="261.4" width="7.6" height="15" fill="none" stroke="#222" stroke-width="0.8"/>
<rect x="820.2" y="263.5" width="3.6" height="10.8" fill="none" stroke="#222" stroke-width="0.7"/>
<path d="M821 266l2 2-2 2M821 270l2 2" stroke="#222" stroke-width="0.6" fill="none"/>
<path d="M822.5 253.5 H803.5 V291.5 H788.5" stroke="#2a2a2a" stroke-width="0.8" fill="none"/>
<path d="M811.5 232l1.300-1.8 1.3 3.6 1.3-3.6 1.3 3.6 0.8-1.8" stroke="#222" stroke-width="0.7" fill="none"/>
<path d="M817.5 229.8l2.300 2.2-2.3 2.2" stroke="#222" stroke-width="0.8" fill="none"/>
<rect x="783.2" y="222.6" width="8.5" height="14.6" fill="none" stroke="#222" stroke-width="0.8"/>
<rect x="787" y="217.2" width="4.5" height="5.4" fill="none" stroke="#222" stroke-width="0.7"/>
<path d="M783.2 237.2L791.7 228M783.2 229.900H791.7" stroke="#222" stroke-width="0.7" fill="none"/>
<text transform="translate(793 219.8) scale(0.389 0.505)" font-family="Liberation Mono" font-size="6.0" font-weight="normal" text-anchor="start" fill="#222">VPS</text>
<path d="M791.5 236.5 H799.5 V328.5 H788.5" stroke="#2a2a2a" stroke-width="0.8" fill="none"/>
<path d="M786 238l-1.5 2.5 3 1-1.500 1.5M780 243l-1.500 2.5 9 8.500M786.5 252.500l2 1.5M788 251.5l-1 3.5" stroke="#222" stroke-width="0.9" fill="none"/>
<path d="M786 256.5 L787.5 257.1 L784.5 258.4 L787.5 259.8 L784.5 261.1 L787.5 262.4 L784.5 263.6 L787.5 264.9 L784.5 266.2 L787.5 267.6 L784.5 268.9 L786 269.5" stroke="#2b2b2b" stroke-width="0.8" fill="none"/>
<path d="M784.5 256.5v13M787.5 256.5v13" stroke="#222" stroke-width="0.5" fill="none"/>
<path d="M786.5 268.5 H799.5" stroke="#2a2a2a" stroke-width="0.8" fill="none"/>
<path d="M791.5 268.900l2-1.2v2.400z" stroke="#222" stroke-width="0.5" fill="#222"/>
<rect x="782.8" y="276" width="6.1" height="16.4" fill="none" stroke="#222" stroke-width="0.8"/>
<path d="M782.8 281.5h6.100M782.8 287h6.1" stroke="#222" stroke-width="0.6" fill="none"/>
<path d="M784 277.5l3.500 2M784 283l3.5 2.5M784.500 288.5h3" stroke="#222" stroke-width="0.6" fill="none"/>
<path d="M784.6 292.4v3.200" stroke="#111" stroke-width="1.6" fill="none"/>
<rect x="782.8" y="316" width="6.1" height="16.4" fill="none" stroke="#222" stroke-width="0.8"/>
<path d="M782.8 321.5h6.100M782.8 327h6.1" stroke="#222" stroke-width="0.6" fill="none"/>
<path d="M784 317.5l3.500 2M784 323l3.5 2.5M784.500 328.5h3" stroke="#222" stroke-width="0.6" fill="none"/>
<path d="M784.6 332.4v3.200" stroke="#111" stroke-width="1.6" fill="none"/>
<path d="M784 295.500V312M786.800 295.500V307" stroke="#333" stroke-width="0.6" fill="none"/>
<path d="M784 335.500V346.5M786.800 335.500V347" stroke="#333" stroke-width="0.7" fill="none"/>
<path d="M788.5 287.5 H799.5" stroke="#2a2a2a" stroke-width="0.8" fill="none"/>
<path d="M799.5 294.5 H864.5 V301.5" stroke="#2a2a2a" stroke-width="0.8" fill="none"/>
<path d="M843.5 294.5 V266.5 H852.5" stroke="#2a2a2a" stroke-width="0.8" fill="none"/>
<path d="M788.5 331.5 H822.5" stroke="#2a2a2a" stroke-width="0.8" fill="none"/>
<path d="M764.5 289.5 H782.5" stroke="#2a2a2a" stroke-width="0.8" fill="none"/>
<path d="M764.5 304.5 H778.5" stroke="#2a2a2a" stroke-width="0.8" fill="none"/>
<path d="M764.5 329.5 H782.5" stroke="#2a2a2a" stroke-width="0.8" fill="none"/>
<path d="M776.6 289.6V304.5M776.6 329.600V344.5M764.1 344.5H781" stroke="#444" stroke-width="0.8" fill="none" stroke-dasharray="2.4 1.6"/>
<path d="M857.9 232V249" stroke="#555" stroke-width="0.8" fill="none" stroke-dasharray="2.400 1.600"/>
<path d="M855.900 248.500h4l-2 2.600z" stroke="#222" stroke-width="0.4" fill="#222"/>
<rect x="852.4" y="256.5" width="7.3" height="18.8" fill="none" stroke="#222" stroke-width="0.8"/>
<rect x="855.4" y="251" width="4.3" height="5.5" fill="none" stroke="#222" stroke-width="0.7"/>
<path d="M852.4 262.500h7.3M852.4 268.500h7.3M854 259.500h2.500M857 265.500v-2M854 271.500h4" stroke="#222" stroke-width="0.6" fill="none"/>
<path d="M850 275.500l5.500-3M852 271.500l3 4M856 275l2.500 0.8" stroke="#222" stroke-width="0.8" fill="none"/>
<rect x="881.1" y="245.6" width="9.4" height="27.8" fill="none" stroke="#222" stroke-width="0.9"/>
<rect x="885.4" y="240.5" width="4.2" height="5.1" fill="none" stroke="#222" stroke-width="0.7"/>
<path d="M881.1 252.500h9.400M881.1 259.500h9.400M881.1 266.500h9.400" stroke="#222" stroke-width="0.6" fill="none"/>
<path d="M883 248h2.2v2.600h-2.200M888.700 248h-2.200v2.600h2.200M883 255h2.200v2.600h-2.200M888.700 255h-2.200v2.600h2.200M883 262.500h5.500M884 269.500h2v-2.500" stroke="#222" stroke-width="0.6" fill="none"/>
<path d="M885.500 240.500h4l-2 2.200z" stroke="#222" stroke-width="0.4" fill="#222"/>
<path d="M882.500 273.400l2-2.200 2 2.200z" stroke="#222" stroke-width="0.4" fill="#222"/>
<path d="M887.4 233.700V240.500" stroke="#444" stroke-width="0.8" fill="none" stroke-dasharray="2 1.2"/>
<path d="M891.5 233.700H897.6V262.900" stroke="#666" stroke-width="0.8" fill="none" stroke-dasharray="3 2"/>
<path d="M890.5 266.5 H898.5 V284.5 H875.5 V301.5" stroke="#2a2a2a" stroke-width="0.8" fill="none"/>
<path d="M864.2 266.400H881.100" stroke="#555" stroke-width="0.8" fill="none" stroke-dasharray="3 2"/>
<path d="M864.2 266.400V278.3H883.9V273.400" stroke="#555" stroke-width="0.8" fill="none" stroke-dasharray="3 2"/>
<circle cx="764.1" cy="232" r="1.7" fill="#111"/>
<circle cx="804.9" cy="232" r="1.7" fill="#111"/>
<circle cx="832.6" cy="232" r="1.7" fill="#111"/>
<circle cx="857.9" cy="232" r="1.7" fill="#111"/>
<circle cx="804.9" cy="209.9" r="1.7" fill="#111"/>
<circle cx="822.3" cy="209.9" r="1.7" fill="#111"/>
<circle cx="853.4" cy="209.9" r="1.7" fill="#111"/>
<circle cx="822.3" cy="253.8" r="1.7" fill="#111"/>
<circle cx="799.7" cy="268.9" r="1.7" fill="#111"/>
<circle cx="799.7" cy="287.7" r="1.7" fill="#111"/>
<circle cx="799.7" cy="294.3" r="1.7" fill="#111"/>
<circle cx="843" cy="294.3" r="1.7" fill="#111"/>
<circle cx="822.3" cy="331.5" r="1.7" fill="#111"/>
<circle cx="822.3" cy="338.2" r="1.7" fill="#111"/>
<circle cx="764.1" cy="289.6" r="1.7" fill="#111"/>
<circle cx="776.6" cy="289.6" r="1.7" fill="#111"/>
<circle cx="764.1" cy="304.5" r="1.7" fill="#111"/>
<circle cx="776.6" cy="304.5" r="1.7" fill="#111"/>
<circle cx="764.1" cy="329.6" r="1.7" fill="#111"/>
<circle cx="776.6" cy="329.6" r="1.7" fill="#111"/>
<circle cx="764.1" cy="344.5" r="1.7" fill="#111"/>
<circle cx="776.6" cy="344.5" r="1.7" fill="#111"/>
<circle cx="887.4" cy="233.7" r="1.7" fill="#111"/>
<circle cx="897.1" cy="262.9" r="1.7" fill="#111"/>
<circle cx="906.5" cy="262.9" r="1.7" fill="#111"/>
<circle cx="864.2" cy="266.4" r="1.7" fill="#111"/>
<circle cx="864.2" cy="278.3" r="1.7" fill="#111"/>
<circle cx="864.9" cy="301.6" r="1.7" fill="#111"/>
<circle cx="875.9" cy="301.6" r="1.7" fill="#111"/>
<path d="M974.6 171.5H1018.4" stroke="#111" stroke-width="1.7" fill="none"/>
<path d="M974.6 171.5V104.5H1018.4V171.5" stroke="#111" stroke-width="1.5" fill="none" stroke-dasharray="9 3 1.6 3"/>
<rect x="979.7" y="114.6" width="5.8" height="14.4" fill="#fff" stroke="#333" stroke-width="0.8"/>
<path d="M982.6 108.9V123" stroke="#444" stroke-width="1.2" fill="none"/>
<path d="M979.7 125.3h5.8" stroke="#555" stroke-width="0.8" fill="none"/>
<rect x="1008.4" y="114.6" width="5.8" height="14.4" fill="#fff" stroke="#333" stroke-width="0.8"/>
<path d="M1011.3 108.9V123" stroke="#444" stroke-width="1.2" fill="none"/>
<path d="M1008.4 125.3h5.8" stroke="#555" stroke-width="0.8" fill="none"/>
<path d="M985.5 115.7H1008.400M985.500 127.7H1008.400" stroke="#444" stroke-width="0.8" fill="none"/>
<path d="M993.2 127.700V171.5M994.400 127.7V171.5M996.200 115.7V171.500M997.300 115.700V171.500" stroke="#777" stroke-width="0.7" fill="none"/>
<circle cx="996.7" cy="115.7" r="1.5" fill="#111"/>
<circle cx="993.7" cy="127.7" r="1.5" fill="#111"/>
<path d="M981 146.400V135.500" stroke="#444" stroke-width="0.7" fill="none"/>
<path d="M979.9 137l1.100-3 1.1 3z" stroke="#333" stroke-width="0.4" fill="#333"/>
<path d="M987.800 134.500V145" stroke="#444" stroke-width="0.7" fill="none"/>
<path d="M986.700 144l1.100 3 1.1-3z" stroke="#333" stroke-width="0.4" fill="#333"/>
<path d="M997.300 168H1019.800V199.400H1006.900" stroke="#555" stroke-width="0.8" fill="none"/>
<path d="M993.200 171.500H1015.700V202.800H1006.900" stroke="#555" stroke-width="0.8" fill="none"/>
<path d="M942.2 187.1 L1006.9 187.1 L1006.9 221.8 L942.2 221.8Z" stroke="#b0b0b0" stroke-width="1" fill="none" stroke-linejoin="round"/>
<path d="M942.2 187.1 L1006.9 187.1 L1006.9 221.8 L942.2 221.8Z" stroke="#1a1a1a" stroke-width="1.45" fill="none" stroke-dasharray="1.5 1" stroke-linejoin="round"/>
<path d="M942.2 199.4H1006.900" stroke="#111" stroke-width="1.5" fill="none"/>
<path d="M1006.9 202.8H971.500V217.700H950.100M954.500 202.800H950.100V221.800" stroke="#111" stroke-width="1.5" fill="none"/>
<rect x="954.5" y="197.3" width="9.5" height="8.2" fill="#fff" stroke="#222" stroke-width="0.8"/>
<path d="M954.500 207l-1.500 0v4h6" stroke="#444" stroke-width="0.7" fill="none" stroke-dasharray="1.6 1.200"/>
<path d="M957 211.500l4-3M959 212l2.500-3.800" stroke="#222" stroke-width="0.8" fill="none"/>
<path d="M962 196h4.500v5.500" stroke="#444" stroke-width="0.7" fill="none" stroke-dasharray="1.600 1.200"/>
<rect x="987.8" y="195.3" width="9.8" height="19.7" fill="#fff" stroke="#222" stroke-width="0.9"/>
<path d="M987.800 204.500h9.800M987.800 209.500h9.800M990 196v8M995 196v8" stroke="#222" stroke-width="0.7" fill="none"/>
<path d="M989 210q3.700 3 7.400 0M989 214.500q3.700-3 7.400 0" stroke="#222" stroke-width="0.8" fill="none"/>
<path d="M992.5 189.5 L993.9 190.2 L991.1 191.7 L993.9 193.1 L991.1 194.6 L992.5 195.3" stroke="#2b2b2b" stroke-width="0.7" fill="none"/>
<path d="M994 215v5M996 218l-1.500 2.500" stroke="#222" stroke-width="0.7" fill="none"/>
<text transform="translate(938.5 197.3) scale(0.417 0.556)" font-family="Liberation Mono" font-size="6.0" font-weight="normal" text-anchor="start" fill="#222">P</text>
<text transform="translate(946 193.6) scale(0.417 0.556)" font-family="Liberation Mono" font-size="6.0" font-weight="normal" text-anchor="start" fill="#222">1000</text>
<text transform="translate(946 196.3) scale(0.417 0.556)" font-family="Liberation Mono" font-size="6.0" font-weight="normal" text-anchor="start" fill="#222">PSI</text>
<text transform="translate(955 192.3) scale(0.417 0.556)" font-family="Liberation Mono" font-size="6.0" font-weight="normal" text-anchor="start" fill="#222">PR1</text>
<text transform="translate(976 193.6) scale(0.417 0.556)" font-family="Liberation Mono" font-size="6.0" font-weight="normal" text-anchor="start" fill="#222">ORF1</text>
<text transform="translate(972.5 196.6) scale(0.417 0.556)" font-family="Liberation Mono" font-size="6.0" font-weight="normal" text-anchor="start" fill="#222">Ø1.0mm</text>
<text transform="translate(1008 197.3) scale(0.417 0.556)" font-family="Liberation Mono" font-size="6.0" font-weight="normal" text-anchor="start" fill="#222">CAP</text>
<text transform="translate(1008 206.5) scale(0.417 0.556)" font-family="Liberation Mono" font-size="6.0" font-weight="normal" text-anchor="start" fill="#222">ROD</text>
<text transform="translate(952.5 224.4) scale(0.417 0.556)" font-family="Liberation Mono" font-size="6.0" font-weight="normal" text-anchor="start" fill="#222">T</text>
<text transform="translate(987 217.6) scale(0.417 0.556)" font-family="Liberation Mono" font-size="6.0" font-weight="normal" text-anchor="start" fill="#222">SV1</text>
<text transform="translate(991.5 223.6) scale(0.417 0.556)" font-family="Liberation Mono" font-size="6.0" font-weight="normal" text-anchor="start" fill="#222">YRC</text>
<circle cx="942.2" cy="199.4" r="1.4" fill="#555" stroke="#111" stroke-width="0.9"/>
<circle cx="1006.9" cy="199.4" r="1.4" fill="#555" stroke="#111" stroke-width="0.9"/>
<circle cx="1006.9" cy="202.8" r="1.4" fill="#555" stroke="#111" stroke-width="0.9"/>
<circle cx="950.1" cy="221.8" r="1.5" fill="#0b3a52"/>
<rect x="1091.6" y="128.5" width="36.7" height="156.6" fill="none" stroke="#333" stroke-width="0.8"/>
<path d="M1106.5 128.500V285.100" stroke="#333" stroke-width="0.8" fill="none"/>
<path d="M1094.100 144V280M1104.300 144V280" stroke="#444" stroke-width="0.8" fill="none"/>
<path d="M1091.600 144H1097M1091.600 278.5H1106.500M1094.100 280H1128.3" stroke="#444" stroke-width="0.7" fill="none"/>
<rect x="1114.4" y="136.4" width="5.3" height="7.6" fill="#ddd" stroke="#111" stroke-width="0.9"/>
<path d="M1114.400 141.2l5.300-3.500M1114.400 143.7l5.300-3.500M1114.4 138.7l5.300-2.200" stroke="#111" stroke-width="0.7" fill="none"/>
<path d="M1116 131.7l3.500 3" stroke="#111" stroke-width="0.9" fill="none"/>
<path d="M1120.3 135.6l-2.600-0.500 1.600-1.800z" stroke="#111" stroke-width="0.4" fill="#111"/>
<path d="M1116.200 133.2h2.500M1116.5 134.7h2" stroke="#222" stroke-width="0.6" fill="none"/>
<path d="M1104.300 144H1114.400" stroke="#333" stroke-width="0.8" fill="none"/>
<path d="M1119.700 142.1H1128.300M1124.400 142.1V135.5H1128.300" stroke="#333" stroke-width="0.8" fill="none"/>
<path d="M1119.700 143.2h1.800v4.500h-3.500M1117 144v4.500" stroke="#333" stroke-width="0.7" fill="none"/>
<path d="M1110.500 141.7h3M1111 143.2l2-1.500" stroke="#333" stroke-width="0.6" fill="none"/>
<path d="M1128.300 133.5h2.200" stroke="#111" stroke-width="0.9" fill="none"/>
<text transform="translate(1129.5 141.7) scale(0.389 0.556)" font-family="Liberation Mono" font-size="6.0" font-weight="normal" text-anchor="start" fill="#111">B</text>
<rect x="1114.4" y="155.3" width="5.3" height="7.6" fill="#ddd" stroke="#111" stroke-width="0.9"/>
<path d="M1114.400 160.1l5.300-3.500M1114.400 162.6l5.300-3.500M1114.4 157.6l5.300-2.200" stroke="#111" stroke-width="0.7" fill="none"/>
<path d="M1116 150.6l3.500 3" stroke="#111" stroke-width="0.9" fill="none"/>
<path d="M1120.3 154.5l-2.600-0.500 1.600-1.800z" stroke="#111" stroke-width="0.4" fill="#111"/>
<path d="M1116.200 152.1h2.500M1116.5 153.6h2" stroke="#222" stroke-width="0.6" fill="none"/>
<path d="M1104.300 162.9H1114.400" stroke="#333" stroke-width="0.8" fill="none"/>
<path d="M1119.700 161H1128.300M1124.400 161V154.4H1128.300" stroke="#333" stroke-width="0.8" fill="none"/>
<path d="M1119.700 162.1h1.800v4.500h-3.500M1117 162.9v4.500" stroke="#333" stroke-width="0.7" fill="none"/>
<path d="M1110.500 160.6h3M1111 162.1l2-1.500" stroke="#333" stroke-width="0.6" fill="none"/>
<path d="M1128.300 152.4h2.200" stroke="#111" stroke-width="0.9" fill="none"/>
<text transform="translate(1129.5 160.6) scale(0.389 0.556)" font-family="Liberation Mono" font-size="6.0" font-weight="normal" text-anchor="start" fill="#111">B</text>
<rect x="1114.4" y="174.6" width="5.3" height="7.6" fill="#ddd" stroke="#111" stroke-width="0.9"/>
<path d="M1114.400 179.4l5.300-3.500M1114.400 181.9l5.300-3.500M1114.4 176.9l5.300-2.200" stroke="#111" stroke-width="0.7" fill="none"/>
<path d="M1116 169.9l3.500 3" stroke="#111" stroke-width="0.9" fill="none"/>
<path d="M1120.3 173.8l-2.600-0.500 1.600-1.800z" stroke="#111" stroke-width="0.4" fill="#111"/>
<path d="M1116.200 171.4h2.500M1116.5 172.9h2" stroke="#222" stroke-width="0.6" fill="none"/>
<path d="M1104.300 182.2H1114.400" stroke="#333" stroke-width="0.8" fill="none"/>
<path d="M1119.700 180.3H1128.300M1124.400 180.3V173.7H1128.300" stroke="#333" stroke-width="0.8" fill="none"/>
<path d="M1119.700 181.4h1.800v4.500h-3.500M1117 182.2v4.500" stroke="#333" stroke-width="0.7" fill="none"/>
<path d="M1110.500 179.9h3M1111 181.4l2-1.500" stroke="#333" stroke-width="0.6" fill="none"/>
<path d="M1128.300 171.7h2.200" stroke="#111" stroke-width="0.9" fill="none"/>
<text transform="translate(1129.5 179.9) scale(0.389 0.556)" font-family="Liberation Mono" font-size="6.0" font-weight="normal" text-anchor="start" fill="#111">B</text>
<rect x="1114.4" y="193.9" width="5.3" height="7.6" fill="#ddd" stroke="#111" stroke-width="0.9"/>
<path d="M1114.400 198.7l5.300-3.500M1114.400 201.2l5.300-3.500M1114.4 196.2l5.300-2.200" stroke="#111" stroke-width="0.7" fill="none"/>
<path d="M1116 189.2l3.500 3" stroke="#111" stroke-width="0.9" fill="none"/>
<path d="M1120.3 193.1l-2.600-0.500 1.600-1.800z" stroke="#111" stroke-width="0.4" fill="#111"/>
<path d="M1116.200 190.7h2.500M1116.5 192.2h2" stroke="#222" stroke-width="0.6" fill="none"/>
<path d="M1104.300 201.5H1114.400" stroke="#333" stroke-width="0.8" fill="none"/>
<path d="M1119.700 199.6H1128.300M1124.400 199.6V193H1128.300" stroke="#333" stroke-width="0.8" fill="none"/>
<path d="M1119.700 200.7h1.800v4.500h-3.500M1117 201.5v4.500" stroke="#333" stroke-width="0.7" fill="none"/>
<path d="M1110.500 199.2h3M1111 200.7l2-1.500" stroke="#333" stroke-width="0.6" fill="none"/>
<path d="M1128.300 191h2.200" stroke="#111" stroke-width="0.9" fill="none"/>
<text transform="translate(1129.5 199.2) scale(0.389 0.556)" font-family="Liberation Mono" font-size="6.0" font-weight="normal" text-anchor="start" fill="#111">B</text>
<rect x="1114.4" y="213.2" width="5.3" height="7.6" fill="#ddd" stroke="#111" stroke-width="0.9"/>
<path d="M1114.400 218l5.300-3.500M1114.400 220.5l5.300-3.500M1114.4 215.5l5.300-2.200" stroke="#111" stroke-width="0.7" fill="none"/>
<path d="M1116 208.5l3.500 3" stroke="#111" stroke-width="0.9" fill="none"/>
<path d="M1120.3 212.4l-2.600-0.500 1.600-1.800z" stroke="#111" stroke-width="0.4" fill="#111"/>
<path d="M1116.200 210h2.500M1116.5 211.5h2" stroke="#222" stroke-width="0.6" fill="none"/>
<path d="M1104.300 220.8H1114.400" stroke="#333" stroke-width="0.8" fill="none"/>
<path d="M1119.700 218.9H1128.300M1124.400 218.9V212.3H1128.300" stroke="#333" stroke-width="0.8" fill="none"/>
<path d="M1119.700 220h1.800v4.500h-3.500M1117 220.8v4.500" stroke="#333" stroke-width="0.7" fill="none"/>
<path d="M1110.500 218.5h3M1111 220l2-1.500" stroke="#333" stroke-width="0.6" fill="none"/>
<path d="M1128.300 210.3h2.200" stroke="#111" stroke-width="0.9" fill="none"/>
<text transform="translate(1129.5 218.5) scale(0.389 0.556)" font-family="Liberation Mono" font-size="6.0" font-weight="normal" text-anchor="start" fill="#111">B</text>
<rect x="1114.4" y="232.4" width="5.3" height="7.6" fill="#ddd" stroke="#111" stroke-width="0.9"/>
<path d="M1114.400 237.2l5.300-3.500M1114.400 239.7l5.300-3.500M1114.4 234.7l5.300-2.200" stroke="#111" stroke-width="0.7" fill="none"/>
<path d="M1116 227.7l3.500 3" stroke="#111" stroke-width="0.9" fill="none"/>
<path d="M1120.3 231.6l-2.600-0.500 1.600-1.800z" stroke="#111" stroke-width="0.4" fill="#111"/>
<path d="M1116.200 229.2h2.500M1116.5 230.7h2" stroke="#222" stroke-width="0.6" fill="none"/>
<path d="M1104.300 240H1114.400" stroke="#333" stroke-width="0.8" fill="none"/>
<path d="M1119.700 238.1H1128.300M1124.400 238.1V231.5H1128.300" stroke="#333" stroke-width="0.8" fill="none"/>
<path d="M1119.700 239.2h1.800v4.500h-3.500M1117 240v4.500" stroke="#333" stroke-width="0.7" fill="none"/>
<path d="M1110.500 237.7h3M1111 239.2l2-1.500" stroke="#333" stroke-width="0.6" fill="none"/>
<path d="M1128.300 229.5h2.200" stroke="#111" stroke-width="0.9" fill="none"/>
<text transform="translate(1129.5 237.7) scale(0.389 0.556)" font-family="Liberation Mono" font-size="6.0" font-weight="normal" text-anchor="start" fill="#111">B</text>
<rect x="1114.4" y="251.7" width="5.3" height="7.6" fill="#ddd" stroke="#111" stroke-width="0.9"/>
<path d="M1114.400 256.5l5.300-3.500M1114.400 259l5.300-3.500M1114.4 254l5.300-2.200" stroke="#111" stroke-width="0.7" fill="none"/>
<path d="M1116 247l3.500 3" stroke="#111" stroke-width="0.9" fill="none"/>
<path d="M1120.3 250.9l-2.600-0.500 1.600-1.800z" stroke="#111" stroke-width="0.4" fill="#111"/>
<path d="M1116.200 248.5h2.500M1116.5 250h2" stroke="#222" stroke-width="0.6" fill="none"/>
<path d="M1104.300 259.3H1114.400" stroke="#333" stroke-width="0.8" fill="none"/>
<path d="M1119.700 257.4H1128.300M1124.400 257.4V250.8H1128.300" stroke="#333" stroke-width="0.8" fill="none"/>
<path d="M1119.700 258.5h1.800v4.500h-3.500M1117 259.3v4.500" stroke="#333" stroke-width="0.7" fill="none"/>
<path d="M1110.500 257h3M1111 258.5l2-1.500" stroke="#333" stroke-width="0.6" fill="none"/>
<path d="M1128.300 248.8h2.200" stroke="#111" stroke-width="0.9" fill="none"/>
<text transform="translate(1129.5 257) scale(0.389 0.556)" font-family="Liberation Mono" font-size="6.0" font-weight="normal" text-anchor="start" fill="#111">B</text>
<rect x="1114.4" y="270.9" width="5.3" height="7.6" fill="#ddd" stroke="#111" stroke-width="0.9"/>
<path d="M1114.400 275.7l5.300-3.500M1114.400 278.2l5.300-3.500M1114.4 273.2l5.300-2.200" stroke="#111" stroke-width="0.7" fill="none"/>
<path d="M1116 266.2l3.500 3" stroke="#111" stroke-width="0.9" fill="none"/>
<path d="M1120.3 270.1l-2.600-0.500 1.600-1.800z" stroke="#111" stroke-width="0.4" fill="#111"/>
<path d="M1116.200 267.7h2.500M1116.5 269.2h2" stroke="#222" stroke-width="0.6" fill="none"/>
<path d="M1104.300 278.5H1114.400" stroke="#333" stroke-width="0.8" fill="none"/>
<path d="M1119.700 276.6H1128.300M1124.400 276.6V270H1128.300" stroke="#333" stroke-width="0.8" fill="none"/>
<path d="M1119.700 277.7h1.800v4.500h-3.500M1117 278.5v4.500" stroke="#333" stroke-width="0.7" fill="none"/>
<path d="M1110.500 276.2h3M1111 277.7l2-1.500" stroke="#333" stroke-width="0.6" fill="none"/>
<path d="M1128.300 268h2.200" stroke="#111" stroke-width="0.9" fill="none"/>
<text transform="translate(1129.5 276.2) scale(0.389 0.556)" font-family="Liberation Mono" font-size="6.0" font-weight="normal" text-anchor="start" fill="#111">B</text>
<rect x="1097.2" y="138.8" width="4.3" height="11.2" fill="#ddd" stroke="#222" stroke-width="0.8"/>
<path d="M1097.200 143h4.300M1097.200 146.500h4.300M1098.500 136.500l2.500 2.300M1098.3 150h2.300v3.800h-2.300z" stroke="#222" stroke-width="0.7" fill="none"/>
<text transform="translate(1107.5 126.8) scale(0.444 0.581)" font-family="Liberation Mono" font-size="6.0" font-weight="normal" text-anchor="start" fill="#222">F</text>
<text transform="translate(1095 138.2) scale(0.444 0.581)" font-family="Liberation Mono" font-size="6.0" font-weight="normal" text-anchor="start" fill="#222">C</text>
<text transform="translate(1089 146.7) scale(0.444 0.581)" font-family="Liberation Mono" font-size="6.0" font-weight="normal" text-anchor="start" fill="#222">C</text>
<text transform="translate(1091 290.6) scale(0.444 0.581)" font-family="Liberation Mono" font-size="6.0" font-weight="normal" text-anchor="start" fill="#222">P</text>
<text transform="translate(1107 290.6) scale(0.444 0.581)" font-family="Liberation Mono" font-size="6.0" font-weight="normal" text-anchor="start" fill="#222">Z</text>
<text transform="translate(1089.5 282.1) scale(0.444 0.581)" font-family="Liberation Mono" font-size="6.0" font-weight="normal" text-anchor="start" fill="#222">T</text>
<rect x="1327.6" y="116.8" width="2.6" height="13.2" fill="#fff" stroke="#444" stroke-width="0.7"/>
<rect x="1323.1" y="130" width="11.6" height="29.4" fill="#fff" stroke="#333" stroke-width="0.8"/>
<path d="M1327.6 130V148.2M1330.2 130V148.2M1323.1 148.2H1334.7M1323.1 150.5H1334.7" stroke="#444" stroke-width="0.7" fill="none"/>
<rect x="1380.8" y="119.4" width="2.6" height="14.6" fill="#fff" stroke="#444" stroke-width="0.7"/>
<rect x="1376.8" y="134" width="10.5" height="28.3" fill="#fff" stroke="#333" stroke-width="0.8"/>
<path d="M1380.8 134V150.5M1383.3 134V150.5M1376.8 150.5H1387.3M1376.8 152.8H1387.3" stroke="#444" stroke-width="0.7" fill="none"/>
<rect x="1398.7" y="119.4" width="2.6" height="14.6" fill="#fff" stroke="#444" stroke-width="0.7"/>
<rect x="1394.7" y="134" width="10.5" height="28.3" fill="#fff" stroke="#333" stroke-width="0.8"/>
<path d="M1398.7 134V150.5M1401.2 134V150.5M1394.7 150.5H1405.2M1394.7 152.8H1405.2" stroke="#444" stroke-width="0.7" fill="none"/>
<path d="M1492.800 149.400V249M1497.800 149.400V249" stroke="#aaa" stroke-width="1.6" fill="none"/>
<path d="M1497.5 157.5 H1554.5" stroke="#222" stroke-width="0.9" fill="none"/>
<path d="M1521.5 157.5 V167.5" stroke="#222" stroke-width="0.9" fill="none"/>
<rect x="1516.4" y="167" width="10.3" height="10.7" fill="#fff" stroke="#222" stroke-width="0.9"/>
<path d="M1519 169v6.500M1518 174l1 2 1-2z" stroke="#222" stroke-width="0.7" fill="none"/>
<path d="M1519 168.500h4" stroke="#222" stroke-width="0.6" fill="none"/>
<path d="M1527.3 172.2 L1527.8 173.9 L1528.9 170.5 L1530 173.9 L1531.1 170.5 L1532.2 173.9 L1533.3 170.5 L1533.8 172.2" stroke="#2b2b2b" stroke-width="0.7" fill="none"/>
<path d="M1530 175.5l3-7" stroke="#222" stroke-width="0.7" fill="none"/>
<path d="M1533.300 167.500l-1.700 1.500 1.500 0.700z" stroke="#222" stroke-width="0.4" fill="#222"/>
<path d="M1515 162.600h6.700M1512.5 162.600v6M1512.5 172.500h3" stroke="#555" stroke-width="0.7" fill="none" stroke-dasharray="2 1.200"/>
<path d="M1521.700 177.7V181.800H1492.800" stroke="#999" stroke-width="1.2" fill="none"/>
<path d="M1458.5 189.5 H1492.5" stroke="#333" stroke-width="0.8" fill="none"/>
<path d="M1445.5 194.5 H1497.5" stroke="#333" stroke-width="0.8" fill="none"/>
<rect x="1448.2" y="186.5" width="10.7" height="21.3" fill="none" stroke="#222" stroke-width="0.9"/>
<path d="M1445 194.600L1458.900 189.200M1448.200 197.300h10.700M1448.200 202.500h10.700M1455.500 194.600v5M1453 204.700h5" stroke="#222" stroke-width="0.7" fill="none"/>
<path d="M1449 204.700l2-1v2z" stroke="#222" stroke-width="0.4" fill="#222"/>
<path d="M1456.5 179.5 L1458.1 180.1 L1454.9 181.2 L1458.1 182.4 L1454.9 183.6 L1458.1 184.8 L1454.9 185.9 L1456.5 186.5" stroke="#2b2b2b" stroke-width="0.7" fill="none"/>
<path d="M1452.500 207.800v7h3l3.500-4M1452.500 211h6.400" stroke="#222" stroke-width="0.7" fill="none"/>
<text transform="translate(1451.5 218.1) scale(0.611 0.758)" font-family="Liberation Mono" font-size="6.0" font-weight="normal" text-anchor="start" fill="#222">YRC</text>
<path d="M1492.5 199.5 H1520.5 V204.5" stroke="#222" stroke-width="0.9" fill="none"/>
<rect x="1515.4" y="204.7" width="21.3" height="10" fill="#fff" stroke="#222" stroke-width="0.9"/>
<path d="M1525.700 204.700v10M1530.500 204.700v10M1520.700 206v2.500M1520.700 211v2.500M1530.500 207v5" stroke="#222" stroke-width="0.7" fill="none"/>
<path d="M1536.700 211.500h7M1536.700 214.700h7M1543.700 210.300v5.500" stroke="#222" stroke-width="0.8" fill="none"/>
<path d="M1520.5 214.5 V219.5 H1497.5" stroke="#222" stroke-width="0.9" fill="none"/>
<path d="M1497.800 223.200H1524.500" stroke="#555" stroke-width="0.9" fill="none" stroke-dasharray="3 2"/>
<rect x="1480.2" y="228.5" width="43.3" height="10.1" fill="#fff" stroke="#222" stroke-width="0.9"/>
<path d="M1490.900 228.500v10.100M1501 228.500v10.100M1510.400 228.500v10.100" stroke="#222" stroke-width="0.7" fill="none"/>
<path d="M1483.500 230v7.500M1487.500 230v7.500M1493.500 231h2M1493.500 236h2M1497.800 230v7M1504 231h2M1507 231h2M1504 236h2M1513 233h7v3M1514 236.500h2M1519 236.500h2" stroke="#222" stroke-width="0.7" fill="none"/>
<path d="M1472.5 236.7 L1473.1 238.5 L1474.4 234.9 L1475.7 238.5 L1477 234.9 L1478.3 238.5 L1479.6 234.9 L1480.2 236.7" stroke="#2b2b2b" stroke-width="0.7" fill="none"/>
<path d="M1523.5 236.7 L1524.1 238.5 L1525.2 234.9 L1526.4 238.5 L1527.6 234.9 L1528.8 238.5 L1529.9 234.9 L1530.5 236.7" stroke="#2b2b2b" stroke-width="0.7" fill="none"/>
<path d="M1523.500 231.500h3v-4" stroke="#555" stroke-width="0.7" fill="none" stroke-dasharray="1.600 1.200"/>
<rect x="1446.500" y="227.200" width="16" height="7.600" rx="3.800" fill="#fff" stroke="#222" stroke-width="0.9" stroke-dasharray="2.200 1.300"/>
<circle cx="1447" cy="231" r="1.5" fill="#111"/>
<circle cx="1462" cy="231" r="1.5" fill="#111"/>
<circle cx="1451.5" cy="228" r="0.8" fill="#fff" stroke="#222" stroke-width="0.5"/>
<circle cx="1457.5" cy="234.2" r="0.8" fill="#fff" stroke="#222" stroke-width="0.5"/>
<path d="M1443.200 197.100V230.800H1446" stroke="#aaa" stroke-width="1.3" fill="none" stroke-dasharray="3.500 2"/>
<path d="M1463.500 231H1480" stroke="#aaa" stroke-width="1.3" fill="none" stroke-dasharray="3.500 2"/>
<circle cx="1497.8" cy="157.3" r="1.6" fill="#111"/>
<circle cx="1521.7" cy="157.3" r="1.6" fill="#111"/>
<circle cx="1521.7" cy="162.6" r="1.6" fill="#111"/>
<circle cx="1554.1" cy="157.3" r="1.6" fill="#111"/>
<circle cx="1492.8" cy="181.8" r="1.6" fill="#111"/>
<circle cx="1492.8" cy="189.2" r="1.6" fill="#111"/>
<circle cx="1497.8" cy="194.4" r="1.6" fill="#111"/>
<circle cx="1492.8" cy="199.3" r="1.6" fill="#111"/>
<circle cx="1497.8" cy="219.5" r="1.6" fill="#111"/>
<circle cx="1497.8" cy="223.2" r="1.6" fill="#111"/>
<circle cx="1492.8" cy="149.4" r="1.1" fill="#ccc" stroke="#555" stroke-width="0.7"/>
<circle cx="1497.8" cy="149.4" r="1.1" fill="#ccc" stroke="#555" stroke-width="0.7"/>
<circle cx="1492.8" cy="249" r="1.1" fill="#ccc" stroke="#555" stroke-width="0.7"/>
<circle cx="1497.8" cy="249" r="1.1" fill="#ccc" stroke="#555" stroke-width="0.7"/>
<path d="M1188.5 431.5 H1544.5" stroke="#222" stroke-width="0.8" fill="none"/>
<path d="M1239.5 357.5 H1544.5" stroke="#222" stroke-width="0.8" fill="none"/>
<path d="M1199.5 360.5 H1508.5" stroke="#555" stroke-width="0.8" fill="none" stroke-dasharray="3 1.800"/>
<path d="M1284.5 482.5 H1508.5" stroke="#222" stroke-width="0.8" fill="none"/>
<path d="M1384.5 349.5 V487.5" stroke="#222" stroke-width="0.9" fill="none"/>
<path d="M1443.5 349.5 V487.5" stroke="#222" stroke-width="0.9" fill="none"/>
<path d="M1199.8 349.400V374.500H1232.900" stroke="#555" stroke-width="0.8" fill="none" stroke-dasharray="3 1.800"/>
<path d="M1213.400 349.400V360.500" stroke="#555" stroke-width="0.8" fill="none" stroke-dasharray="3 1.800"/>
<circle cx="1207.3" cy="360.5" r="1.2" fill="#fff" stroke="#222" stroke-width="0.7"/>
<path d="M1233 349 V386" stroke="#999" stroke-width="1.6" fill="none"/>
<path d="M1239.5 357.5 V391.5 H1229.5" stroke="#222" stroke-width="0.8" fill="none"/>
<path d="M1188 389 H1223" stroke="#999" stroke-width="1.6" fill="none"/>
<path d="M1222.8 388 L1229.5 385.5 L1229.5 407 L1222.8 409.6Z" stroke="#222" stroke-width="0.9" fill="#fff"/>
<path d="M1222.800 394l6.700-4M1222.800 394l6.700 2M1222.800 400.500l6.700-4.500M1222.800 400.500l6.700 2M1222.800 407l6.700-4.500" stroke="#222" stroke-width="0.8" fill="none"/>
<path d="M1226 385.500v-5h6.900" stroke="#333" stroke-width="0.7" fill="none"/>
<rect x="1209.7" y="380.3" width="4.8" height="5.2" fill="#fff" stroke="#222" stroke-width="0.9"/>
<path d="M1214.500 383l3-2.500M1215 385l2.500-4" stroke="#111" stroke-width="0.9" fill="none"/>
<path d="M1206.500 378h5.500M1206.500 378v5h3" stroke="#555" stroke-width="0.7" fill="none" stroke-dasharray="1.600 1.200"/>
<path d="M1194.5 388.5 V411.5" stroke="#222" stroke-width="0.8" fill="none"/>
<path d="M1203.5 398.5 V431.5" stroke="#222" stroke-width="0.8" fill="none"/>
<rect x="1193.8" y="399.8" width="4.6" height="5.2" fill="#fff" stroke="#222" stroke-width="0.9"/>
<path d="M1198.400 402.400h5.200M1199 401l3 1.400-3 1.400" stroke="#111" stroke-width="0.9" fill="none"/>
<rect x="1193.8" y="418.2" width="4.6" height="5.2" fill="#fff" stroke="#222" stroke-width="0.9"/>
<path d="M1198.400 420.800h5.200M1199 419.400l3 1.400-3 1.400M1193.800 418.200l-1 -3" stroke="#111" stroke-width="0.9" fill="none"/>
<path d="M1196.100 405V418.200" stroke="#333" stroke-width="0.7" fill="none"/>
<path d="M1190.500 402.400h3.300M1190.500 420.800h3.300" stroke="#555" stroke-width="0.7" fill="none" stroke-dasharray="1.400 1"/>
<path d="M1184.5 411.5 H1196.5" stroke="#222" stroke-width="0.8" fill="none"/>
<path d="M1184.6 409.8 L1186.4 411.6 L1184.6 413.4 L1182.8 411.6Z" stroke="#222" stroke-width="0.7" fill="#fff"/>
<circle cx="1188.4" cy="411.6" r="1.2" fill="#fff" stroke="#222" stroke-width="0.7"/>
<path d="M1212.200 385.500V431.500" stroke="#555" stroke-width="0.8" fill="none" stroke-dasharray="3 1.800"/>
<path d="M1232.900 386V410.200" stroke="#555" stroke-width="0.8" fill="none" stroke-dasharray="3 1.800"/>
<path d="M1249.400 360.500V431.500M1260.600 360.500V426.300H1249.400" stroke="#555" stroke-width="0.8" fill="none" stroke-dasharray="3 1.800"/>
<rect x="1246.7" y="377.4" width="5.2" height="5.2" fill="#fff" stroke="#222" stroke-width="0.9"/>
<path d="M1251.900 380l3-2.500M1252.400 382l2.500-4" stroke="#111" stroke-width="0.9" fill="none"/>
<path d="M1244.500 374.500h4.500M1244.500 374.500v4" stroke="#555" stroke-width="0.7" fill="none" stroke-dasharray="1.600 1.200"/>
<rect x="1257.7" y="396.2" width="4.2" height="4.6" fill="#fff" stroke="#222" stroke-width="0.9"/>
<path d="M1261.900 398.500h4l-1.500-1.500" stroke="#111" stroke-width="0.8" fill="none"/>
<path d="M1255.400 386.600H1268.600V401H1262M1255.400 386.600V393" stroke="#666" stroke-width="0.7" fill="none" stroke-dasharray="2.400 1.600"/>
<text transform="translate(1204 412) rotate(90) translate(0 1.1) scale(0.417 0.556)" font-family="Liberation Mono" font-size="6.0" font-weight="normal" text-anchor="start" fill="#222">250 bar</text>
<text transform="translate(1204 394) rotate(90) translate(0 1.1) scale(0.417 0.556)" font-family="Liberation Mono" font-size="6.0" font-weight="normal" text-anchor="start" fill="#222">250 bar</text>
<text transform="translate(1236 398) rotate(90) translate(0 1.1) scale(0.417 0.556)" font-family="Liberation Mono" font-size="6.0" font-weight="normal" text-anchor="start" fill="#222">13 bar</text>
<text transform="translate(1231 362) rotate(90) translate(0 1.1) scale(0.417 0.556)" font-family="Liberation Mono" font-size="6.0" font-weight="normal" text-anchor="start" fill="#222">6 bar</text>
<text transform="translate(1242 382) rotate(90) translate(0 1.1) scale(0.417 0.556)" font-family="Liberation Mono" font-size="6.0" font-weight="normal" text-anchor="start" fill="#222">35 bar</text>
<text transform="translate(1265 404) rotate(90) translate(0 1.1) scale(0.417 0.556)" font-family="Liberation Mono" font-size="6.0" font-weight="normal" text-anchor="start" fill="#222">0.7 L/min</text>
<text transform="translate(1262 364.9) scale(0.556 0.657)" font-family="Liberation Mono" font-size="6.0" font-weight="normal" text-anchor="start" fill="#222">Ø1.0</text>
<path d="M1283.5 349.5 V354.5 H1298.5 V487.5" stroke="#222" stroke-width="0.8" fill="none"/>
<rect x="1296.6" y="371.1" width="5.4" height="43.4" fill="#fff" stroke="#111" stroke-width="1"/>
<path d="M1296.6 379.8h5.4" stroke="#111" stroke-width="0.9" fill="none"/>
<path d="M1296.6 388.5h5.4" stroke="#111" stroke-width="0.9" fill="none"/>
<path d="M1296.6 397.1h5.4" stroke="#111" stroke-width="0.9" fill="none"/>
<path d="M1296.6 405.8h5.4" stroke="#111" stroke-width="0.9" fill="none"/>
<path d="M1296.6 371.9L1302 379M1302 371.9L1296.6 379" stroke="#111" stroke-width="0.9" fill="none"/>
<path d="M1296.6 380.6L1302 387.7M1302 380.6L1296.6 387.7" stroke="#111" stroke-width="0.9" fill="none"/>
<path d="M1297.7 389.5v6.7M1300.9 389.5v6.7" stroke="#111" stroke-width="1.1" fill="none"/>
<path d="M1296.6 397.9L1302 405M1302 397.9L1296.6 405" stroke="#111" stroke-width="0.9" fill="none"/>
<path d="M1296.6 406.6L1302 413.7M1302 406.6L1296.6 413.7" stroke="#111" stroke-width="0.9" fill="none"/>
<path d="M1296 371.1v43.4M1302.6 371.1v43.4" stroke="#111" stroke-width="0.7" fill="none"/>
<path d="M1293.3 368.6l3.500 2.500M1293.3 417l3.500-2.500" stroke="#111" stroke-width="0.9" fill="none"/>
<path d="M1297.5 369.6l1.800 2 1.800-2zM1297.5 416l1.800-2 1.800 2z" stroke="#111" stroke-width="0.4" fill="#111"/>
<rect x="1277.7" y="367.4" width="6.2" height="13.2" fill="#fff" stroke="#111" stroke-width="0.9"/>
<path d="M1277.7 371.8h6.200M1277.7 376.2h6.200M1279.3 368.4v3M1282.3 368.4v3M1279.3 372.9h3M1279.3 374.9h3" stroke="#111" stroke-width="0.8" fill="none"/>
<path d="M1281.3 367.4v-3.400a1.800 1.800 0 0 1 3.600 0v14" stroke="#333" stroke-width="0.7" fill="none"/>
<path d="M1278.3 381.9l2-1.500M1282.3 380.6l1.500 2.500" stroke="#111" stroke-width="0.9" fill="none"/>
<path d="M1273.5 391.5 H1314.5" stroke="#222" stroke-width="0.8" fill="none"/>
<circle cx="1280.1" cy="391.3" r="1.2" fill="#fff" stroke="#222" stroke-width="0.7"/>
<path d="M1273.5 380.5 V431.5" stroke="#222" stroke-width="0.8" fill="none"/>
<path d="M1273.5 380.5 H1277.5" stroke="#222" stroke-width="0.8" fill="none"/>
<path d="M1273.5 394.5 H1309.5" stroke="#222" stroke-width="0.8" fill="none"/>
<path d="M1278.5 431.5 V455.5 H1308.5" stroke="#222" stroke-width="0.8" fill="none"/>
<path d="M1282.5 391.5 V482.5" stroke="#222" stroke-width="0.8" fill="none"/>
<path d="M1284.5 397.5 V482.5" stroke="#222" stroke-width="0.8" fill="none"/>
<path d="M1284.5 397.5 H1296.5" stroke="#222" stroke-width="0.8" fill="none"/>
<path d="M1308.5 349.5 V455.5" stroke="#333" stroke-width="0.8" fill="none"/>
<path d="M1313.5 349.5 V482.5" stroke="#333" stroke-width="0.8" fill="none"/>
<path d="M1278.5 468.5 V475.5" stroke="#222" stroke-width="0.8" fill="none"/>
<path d="M1278.5 468.5 H1282.5" stroke="#222" stroke-width="0.8" fill="none"/>
<ellipse cx="1290.4" cy="455" rx="2" ry="2.600" fill="#bbb" stroke="#222" stroke-width="0.8"/>
<path d="M1288.9 453.5l3 3M1291.9 453.5l-3 3" stroke="#111" stroke-width="0.8" fill="none"/>
<path d="M1287.9 459l4.500-5M1289.4 460l2-2.500" stroke="#111" stroke-width="0.8" fill="none"/>
<path d="M1287.9 450.7h5" stroke="#666" stroke-width="0.7" fill="none" stroke-dasharray="1.600 1"/>
<rect x="1276.7" y="473.8" width="3.8" height="3.8" fill="#fff" stroke="#222" stroke-width="0.7"/>
<path d="M1276.7 473.8l3.800 3.800M1280.5 473.8l-3.800 3.800" stroke="#222" stroke-width="0.6" fill="none"/>
<ellipse cx="1314.3" cy="465.5" rx="2" ry="2.600" fill="#bbb" stroke="#222" stroke-width="0.8"/>
<path d="M1312.8 464l3 3M1315.8 464l-3 3" stroke="#111" stroke-width="0.8" fill="none"/>
<path d="M1311.8 469.5l4.500-5M1313.3 470.5l2-2.500" stroke="#111" stroke-width="0.8" fill="none"/>
<path d="M1311.8 461.2h5" stroke="#666" stroke-width="0.7" fill="none" stroke-dasharray="1.600 1"/>
<rect x="1319.2" y="453.6" width="3.8" height="3.8" fill="#fff" stroke="#222" stroke-width="0.7"/>
<path d="M1319.2 453.6l3.800 3.800M1323 453.6l-3.800 3.800" stroke="#222" stroke-width="0.6" fill="none"/>
<text transform="translate(1294.5 457) rotate(90) translate(0 1.1) scale(0.403 0.530)" font-family="Liberation Mono" font-size="6.0" font-weight="normal" text-anchor="start" fill="#222">BOAN7</text>
<text transform="translate(1289.5 459) rotate(90) translate(0 1.1) scale(0.403 0.530)" font-family="Liberation Mono" font-size="6.0" font-weight="normal" text-anchor="start" fill="#222">290 bar</text>
<text transform="translate(1311.5 467) rotate(90) translate(0 1.1) scale(0.403 0.530)" font-family="Liberation Mono" font-size="6.0" font-weight="normal" text-anchor="start" fill="#222">BOAN7</text>
<text transform="translate(1306 466) rotate(90) translate(0 1.1) scale(0.403 0.530)" font-family="Liberation Mono" font-size="6.0" font-weight="normal" text-anchor="start" fill="#222">290 bar</text>
<rect x="1335.3" y="335.4" width="11.2" height="13.1" fill="#fff" stroke="#333" stroke-width="0.8"/>
<rect x="1338.1" y="337.8" width="5.6" height="8.3" fill="#fff" stroke="#222" stroke-width="0.9"/>
<path d="M1339.2 340.9h3.400M1339.2 342.9h3.400M1340.9 337.8v2M1340.9 344.4v1.700" stroke="#111" stroke-width="0.9" fill="none"/>
<path d="M1333.9 339.4v5M1347.9 339.4v5" stroke="#444" stroke-width="0.7" fill="none" stroke-dasharray="1.200 1"/>
<path d="M1340.5 348.5 V354.5 H1351.5 V453.5 H1369.5 V488.5" stroke="#222" stroke-width="0.8" fill="none"/>
<rect x="1350.5" y="360.8" width="5.4" height="53.7" fill="#fff" stroke="#111" stroke-width="1"/>
<path d="M1350.5 371.5h5.4" stroke="#111" stroke-width="0.9" fill="none"/>
<path d="M1350.5 382.3h5.4" stroke="#111" stroke-width="0.9" fill="none"/>
<path d="M1350.5 393h5.4" stroke="#111" stroke-width="0.9" fill="none"/>
<path d="M1350.5 403.8h5.4" stroke="#111" stroke-width="0.9" fill="none"/>
<path d="M1350.5 361.6L1355.9 370.7M1355.9 361.6L1350.5 370.7" stroke="#111" stroke-width="0.9" fill="none"/>
<path d="M1350.5 372.3L1355.9 381.5M1355.9 372.3L1350.5 381.5" stroke="#111" stroke-width="0.9" fill="none"/>
<path d="M1351.6 383.3v8.7M1354.8 383.3v8.7" stroke="#111" stroke-width="1.1" fill="none"/>
<path d="M1350.5 393.8L1355.9 403M1355.9 393.8L1350.5 403" stroke="#111" stroke-width="0.9" fill="none"/>
<path d="M1350.5 404.6L1355.9 413.7M1355.9 404.6L1350.5 413.7" stroke="#111" stroke-width="0.9" fill="none"/>
<path d="M1349.9 360.8v53.7M1356.5 360.8v53.7" stroke="#111" stroke-width="0.7" fill="none"/>
<path d="M1347.2 358.3l3.500 2.500M1347.2 417l3.500-2.500" stroke="#111" stroke-width="0.9" fill="none"/>
<path d="M1351.4 359.3l1.800 2 1.800-2zM1351.4 416l1.800-2 1.800 2z" stroke="#111" stroke-width="0.4" fill="#111"/>
<rect x="1330.3" y="367.4" width="6.2" height="13.2" fill="#fff" stroke="#111" stroke-width="0.9"/>
<path d="M1330.3 371.8h6.200M1330.3 376.2h6.200M1331.9 368.4v3M1334.9 368.4v3M1331.9 372.9h3M1331.9 374.9h3" stroke="#111" stroke-width="0.8" fill="none"/>
<path d="M1333.9 367.4v-3.400a1.800 1.800 0 0 1 3.600 0v14" stroke="#333" stroke-width="0.7" fill="none"/>
<path d="M1330.9 381.9l2-1.500M1334.9 380.6l1.500 2.500" stroke="#111" stroke-width="0.9" fill="none"/>
<path d="M1325.5 391.5 H1366.5" stroke="#222" stroke-width="0.8" fill="none"/>
<circle cx="1334.3" cy="391.3" r="1.2" fill="#fff" stroke="#222" stroke-width="0.7"/>
<path d="M1325.5 380.5 V431.5" stroke="#222" stroke-width="0.8" fill="none"/>
<path d="M1325.5 380.5 H1330.5" stroke="#222" stroke-width="0.8" fill="none"/>
<path d="M1325.5 394.5 H1361.5" stroke="#222" stroke-width="0.8" fill="none"/>
<path d="M1321.5 405.5 V482.5" stroke="#222" stroke-width="0.8" fill="none"/>
<path d="M1321.5 405.5 H1340.5 V391.5" stroke="#222" stroke-width="0.8" fill="none"/>
<path d="M1329.5 397.5 V482.5" stroke="#222" stroke-width="0.8" fill="none"/>
<path d="M1329.5 397.5 H1349.5" stroke="#222" stroke-width="0.8" fill="none"/>
<path d="M1361.5 349.5 V394.5" stroke="#333" stroke-width="0.8" fill="none"/>
<path d="M1366.5 349.5 V391.5" stroke="#333" stroke-width="0.8" fill="none"/>
<path d="M1377.5 431.5 V482.5" stroke="#222" stroke-width="0.8" fill="none"/>
<ellipse cx="1376.1" cy="438" rx="2" ry="2.600" fill="#bbb" stroke="#222" stroke-width="0.8"/>
<path d="M1374.6 436.5l3 3M1377.6 436.5l-3 3" stroke="#111" stroke-width="0.8" fill="none"/>
<path d="M1373.6 442l4.500-5M1375.1 443l2-2.500" stroke="#111" stroke-width="0.8" fill="none"/>
<path d="M1373.6 433.7h5" stroke="#666" stroke-width="0.7" fill="none" stroke-dasharray="1.600 1"/>
<path d="M1325.600 360.500V367" stroke="#555" stroke-width="0.7" fill="none" stroke-dasharray="2 1.400"/>
<text transform="translate(1372 442) rotate(90) translate(0 1.1) scale(0.403 0.530)" font-family="Liberation Mono" font-size="6.0" font-weight="normal" text-anchor="start" fill="#222">BOAN7</text>
<text transform="translate(1366.5 440) rotate(90) translate(0 1.1) scale(0.403 0.530)" font-family="Liberation Mono" font-size="6.0" font-weight="normal" text-anchor="start" fill="#222">4.7 bar</text>
<text transform="translate(1342 377) rotate(70) translate(0 1.1) scale(0.403 0.530)" font-family="Liberation Mono" font-size="6.0" font-weight="normal" text-anchor="start" fill="#222">1.6M*2</text>
<rect x="1362.9" y="488.8" width="11.2" height="13.1" fill="#fff" stroke="#333" stroke-width="0.8"/>
<rect x="1365.7" y="491.2" width="5.6" height="8.3" fill="#fff" stroke="#222" stroke-width="0.9"/>
<path d="M1366.8 494.3h3.400M1366.8 496.3h3.400M1368.5 491.2v2M1368.5 497.8v1.700" stroke="#111" stroke-width="0.9" fill="none"/>
<path d="M1361.5 492.8v5M1375.5 492.8v5" stroke="#444" stroke-width="0.7" fill="none" stroke-dasharray="1.200 1"/>
<rect x="1408.3" y="335.4" width="11.2" height="13.1" fill="#fff" stroke="#333" stroke-width="0.8"/>
<rect x="1411.1" y="337.8" width="5.6" height="8.3" fill="#fff" stroke="#222" stroke-width="0.9"/>
<path d="M1412.2 340.9h3.400M1412.2 342.9h3.400M1413.9 337.8v2M1413.9 344.4v1.700" stroke="#111" stroke-width="0.9" fill="none"/>
<path d="M1406.9 339.4v5M1420.9 339.4v5" stroke="#444" stroke-width="0.7" fill="none" stroke-dasharray="1.200 1"/>
<rect x="1408.3" y="488.8" width="11.2" height="13.1" fill="#fff" stroke="#333" stroke-width="0.8"/>
<rect x="1411.1" y="491.2" width="5.6" height="8.3" fill="#fff" stroke="#222" stroke-width="0.9"/>
<path d="M1412.2 494.3h3.400M1412.2 496.3h3.400M1413.9 491.2v2M1413.9 497.8v1.700" stroke="#111" stroke-width="0.9" fill="none"/>
<path d="M1406.9 492.8v5M1420.9 492.8v5" stroke="#444" stroke-width="0.7" fill="none" stroke-dasharray="1.200 1"/>
<path d="M1413.5 348.5 V488.5" stroke="#222" stroke-width="0.8" fill="none"/>
<rect x="1412.1" y="371.1" width="5.4" height="43.4" fill="#fff" stroke="#111" stroke-width="1"/>
<path d="M1412.1 379.8h5.4" stroke="#111" stroke-width="0.9" fill="none"/>
<path d="M1412.1 388.5h5.4" stroke="#111" stroke-width="0.9" fill="none"/>
<path d="M1412.1 397.1h5.4" stroke="#111" stroke-width="0.9" fill="none"/>
<path d="M1412.1 405.8h5.4" stroke="#111" stroke-width="0.9" fill="none"/>
<path d="M1412.1 371.9L1417.5 379M1417.5 371.9L1412.1 379" stroke="#111" stroke-width="0.9" fill="none"/>
<path d="M1412.1 380.6L1417.5 387.7M1417.5 380.6L1412.1 387.7" stroke="#111" stroke-width="0.9" fill="none"/>
<path d="M1413.2 389.5v6.7M1416.4 389.5v6.7" stroke="#111" stroke-width="1.1" fill="none"/>
<path d="M1412.1 397.9L1417.5 405M1417.5 397.9L1412.1 405" stroke="#111" stroke-width="0.9" fill="none"/>
<path d="M1412.1 406.6L1417.5 413.7M1417.5 406.6L1412.1 413.7" stroke="#111" stroke-width="0.9" fill="none"/>
<path d="M1411.5 371.1v43.4M1418.1 371.1v43.4" stroke="#111" stroke-width="0.7" fill="none"/>
<path d="M1408.8 368.6l3.500 2.500M1408.8 417l3.500-2.500" stroke="#111" stroke-width="0.9" fill="none"/>
<path d="M1413 369.6l1.800 2 1.800-2zM1413 416l1.800-2 1.800 2z" stroke="#111" stroke-width="0.4" fill="#111"/>
<path d="M1415.8 370.6 L1418.2 371.3 L1413.4 372.7 L1418.2 374 L1413.4 375.4 L1415.8 376.1" stroke="#2b2b2b" stroke-width="0.8" fill="none"/>
<path d="M1415.8 409.5 L1418.2 410.2 L1413.4 411.6 L1418.2 412.9 L1413.4 414.3 L1415.8 415" stroke="#2b2b2b" stroke-width="0.8" fill="none"/>
<rect x="1394.8" y="367.4" width="6.2" height="13.2" fill="#fff" stroke="#111" stroke-width="0.9"/>
<path d="M1394.8 371.8h6.200M1394.8 376.2h6.200M1396.4 368.4v3M1399.4 368.4v3M1396.4 372.9h3M1396.4 374.9h3" stroke="#111" stroke-width="0.8" fill="none"/>
<path d="M1398.4 367.4v-3.400a1.800 1.800 0 0 1 3.600 0v14" stroke="#333" stroke-width="0.7" fill="none"/>
<path d="M1395.4 381.9l2-1.500M1399.4 380.6l1.500 2.500" stroke="#111" stroke-width="0.9" fill="none"/>
<path d="M1389.5 391.5 H1431.5" stroke="#222" stroke-width="0.8" fill="none"/>
<circle cx="1395.6" cy="391.3" r="1.2" fill="#fff" stroke="#222" stroke-width="0.7"/>
<path d="M1389.5 380.5 V391.5" stroke="#222" stroke-width="0.8" fill="none"/>
<path d="M1389.5 380.5 H1394.5" stroke="#222" stroke-width="0.8" fill="none"/>
<path d="M1390.5 394.5 H1431.5" stroke="#222" stroke-width="0.8" fill="none"/>
<path d="M1390.5 394.5 V439.5 H1420.5" stroke="#222" stroke-width="0.8" fill="none"/>
<path d="M1393.5 397.5 H1411.5" stroke="#222" stroke-width="0.8" fill="none"/>
<path d="M1393.5 397.5 V431.5" stroke="#222" stroke-width="0.8" fill="none"/>
<path d="M1427.5 349.5 V437.5" stroke="#333" stroke-width="0.8" fill="none"/>
<path d="M1430.5 349.5 V437.5" stroke="#333" stroke-width="0.8" fill="none"/>
<path d="M1424.5 357.5 V388.5 H1418.5" stroke="#222" stroke-width="0.8" fill="none"/>
<ellipse cx="1422.4" cy="439.9" rx="2" ry="2.600" fill="#bbb" stroke="#222" stroke-width="0.8"/>
<path d="M1420.9 438.4l3 3M1423.9 438.4l-3 3" stroke="#111" stroke-width="0.8" fill="none"/>
<path d="M1419.9 443.9l4.500-5M1421.4 444.9l2-2.500" stroke="#111" stroke-width="0.8" fill="none"/>
<path d="M1419.9 435.6h5" stroke="#666" stroke-width="0.7" fill="none" stroke-dasharray="1.600 1"/>
<ellipse cx="1435.6" cy="439.9" rx="2" ry="2.600" fill="#bbb" stroke="#222" stroke-width="0.8"/>
<path d="M1434.1 438.4l3 3M1437.1 438.4l-3 3" stroke="#111" stroke-width="0.8" fill="none"/>
<path d="M1433.1 443.9l4.500-5M1434.6 444.9l2-2.500" stroke="#111" stroke-width="0.8" fill="none"/>
<path d="M1433.1 435.6h5" stroke="#666" stroke-width="0.7" fill="none" stroke-dasharray="1.600 1"/>
<path d="M1420 434.500H1437" stroke="#555" stroke-width="0.7" fill="none" stroke-dasharray="2.400 1.400"/>
<path d="M1437.5 439.5 H1441.5 V482.5" stroke="#222" stroke-width="0.8" fill="none"/>
<path d="M1390.4 360.500V378H1394.7" stroke="#555" stroke-width="0.7" fill="none" stroke-dasharray="2.400 1.400"/>
<text transform="translate(1436.5 448) rotate(90) translate(0 1.1) scale(0.403 0.530)" font-family="Liberation Mono" font-size="6.0" font-weight="normal" text-anchor="start" fill="#222">BOAN7</text>
<text transform="translate(1430 448) rotate(90) translate(0 1.1) scale(0.403 0.530)" font-family="Liberation Mono" font-size="6.0" font-weight="normal" text-anchor="start" fill="#222">290 bar</text>
<text transform="translate(1425 448) rotate(90) translate(0 1.1) scale(0.403 0.530)" font-family="Liberation Mono" font-size="6.0" font-weight="normal" text-anchor="start" fill="#222">290 bar</text>
<text transform="translate(1420 448) rotate(90) translate(0 1.1) scale(0.403 0.530)" font-family="Liberation Mono" font-size="6.0" font-weight="normal" text-anchor="start" fill="#222">BOAN7</text>
<path d="M1381.5 355.9l2.400 1.500-2.400 1.500M1388 355.9l-2.400 1.500 2.400 1.500" stroke="#111" stroke-width="0.8" fill="none"/>
<path d="M1381.5 430l2.400 1.500-2.400 1.500M1388 430l-2.400 1.500 2.400 1.500" stroke="#111" stroke-width="0.8" fill="none"/>
<path d="M1381.5 480.8l2.400 1.500-2.400 1.500M1388 480.8l-2.400 1.500 2.400 1.500" stroke="#111" stroke-width="0.8" fill="none"/>
<rect x="1467" y="335.4" width="11.2" height="13.1" fill="#fff" stroke="#333" stroke-width="0.8"/>
<rect x="1469.8" y="337.8" width="5.6" height="8.3" fill="#fff" stroke="#222" stroke-width="0.9"/>
<path d="M1470.9 340.9h3.400M1470.9 342.9h3.400M1472.6 337.8v2M1472.6 344.4v1.700" stroke="#111" stroke-width="0.9" fill="none"/>
<path d="M1465.6 339.4v5M1479.6 339.4v5" stroke="#444" stroke-width="0.7" fill="none" stroke-dasharray="1.200 1"/>
<rect x="1467" y="488.8" width="11.2" height="13.1" fill="#fff" stroke="#333" stroke-width="0.8"/>
<rect x="1469.8" y="491.2" width="5.6" height="8.3" fill="#fff" stroke="#222" stroke-width="0.9"/>
<path d="M1470.9 494.3h3.400M1470.9 496.3h3.400M1472.6 491.2v2M1472.6 497.8v1.700" stroke="#111" stroke-width="0.9" fill="none"/>
<path d="M1465.6 492.8v5M1479.6 492.8v5" stroke="#444" stroke-width="0.7" fill="none" stroke-dasharray="1.200 1"/>
<path d="M1472.5 348.5 V488.5" stroke="#222" stroke-width="0.8" fill="none"/>
<rect x="1470.8" y="371.1" width="5.4" height="43.4" fill="#fff" stroke="#111" stroke-width="1"/>
<path d="M1470.8 379.8h5.4" stroke="#111" stroke-width="0.9" fill="none"/>
<path d="M1470.8 388.5h5.4" stroke="#111" stroke-width="0.9" fill="none"/>
<path d="M1470.8 397.1h5.4" stroke="#111" stroke-width="0.9" fill="none"/>
<path d="M1470.8 405.8h5.4" stroke="#111" stroke-width="0.9" fill="none"/>
<path d="M1470.8 371.9L1476.2 379M1476.2 371.9L1470.8 379" stroke="#111" stroke-width="0.9" fill="none"/>
<path d="M1470.8 380.6L1476.2 387.7M1476.2 380.6L1470.8 387.7" stroke="#111" stroke-width="0.9" fill="none"/>
<path d="M1471.9 389.5v6.7M1475.1 389.5v6.7" stroke="#111" stroke-width="1.1" fill="none"/>
<path d="M1470.8 397.9L1476.2 405M1476.2 397.9L1470.8 405" stroke="#111" stroke-width="0.9" fill="none"/>
<path d="M1470.8 406.6L1476.2 413.7M1476.2 406.6L1470.8 413.7" stroke="#111" stroke-width="0.9" fill="none"/>
<path d="M1470.2 371.1v43.4M1476.8 371.1v43.4" stroke="#111" stroke-width="0.7" fill="none"/>
<path d="M1467.5 368.6l3.500 2.500M1467.5 417l3.500-2.500" stroke="#111" stroke-width="0.9" fill="none"/>
<path d="M1471.7 369.6l1.800 2 1.800-2zM1471.7 416l1.800-2 1.800 2z" stroke="#111" stroke-width="0.4" fill="#111"/>
<path d="M1474.5 370.6 L1476.9 371.3 L1472.1 372.7 L1476.9 374 L1472.1 375.4 L1474.5 376.1" stroke="#2b2b2b" stroke-width="0.8" fill="none"/>
<path d="M1474.5 409.5 L1476.9 410.2 L1472.1 411.6 L1476.9 412.9 L1472.1 414.3 L1474.5 415" stroke="#2b2b2b" stroke-width="0.8" fill="none"/>
<rect x="1453.5" y="367.4" width="6.2" height="13.2" fill="#fff" stroke="#111" stroke-width="0.9"/>
<path d="M1453.5 371.8h6.200M1453.5 376.2h6.200M1455.1 368.4v3M1458.1 368.4v3M1455.1 372.9h3M1455.1 374.9h3" stroke="#111" stroke-width="0.8" fill="none"/>
<path d="M1457.1 367.4v-3.400a1.800 1.800 0 0 1 3.600 0v14" stroke="#333" stroke-width="0.7" fill="none"/>
<path d="M1454.1 381.9l2-1.500M1458.1 380.6l1.500 2.500" stroke="#111" stroke-width="0.9" fill="none"/>
<path d="M1447.5 391.5 H1489.5" stroke="#222" stroke-width="0.8" fill="none"/>
<circle cx="1454.3" cy="391.3" r="1.2" fill="#fff" stroke="#222" stroke-width="0.7"/>
<path d="M1447.5 380.5 V391.5" stroke="#222" stroke-width="0.8" fill="none"/>
<path d="M1447.5 380.5 H1453.5" stroke="#222" stroke-width="0.8" fill="none"/>
<path d="M1449.5 394.5 H1489.5" stroke="#222" stroke-width="0.8" fill="none"/>
<path d="M1449.5 394.5 V439.5 H1478.5" stroke="#222" stroke-width="0.8" fill="none"/>
<path d="M1452.5 397.5 H1469.5" stroke="#222" stroke-width="0.8" fill="none"/>
<path d="M1452.5 397.5 V431.5" stroke="#222" stroke-width="0.8" fill="none"/>
<path d="M1486.5 349.5 V437.5" stroke="#333" stroke-width="0.8" fill="none"/>
<path d="M1489.5 349.5 V437.5" stroke="#333" stroke-width="0.8" fill="none"/>
<path d="M1483.5 357.5 V388.5 H1477.5" stroke="#222" stroke-width="0.8" fill="none"/>
<ellipse cx="1481.1" cy="439.9" rx="2" ry="2.600" fill="#bbb" stroke="#222" stroke-width="0.8"/>
<path d="M1479.6 438.4l3 3M1482.6 438.4l-3 3" stroke="#111" stroke-width="0.8" fill="none"/>
<path d="M1478.6 443.9l4.500-5M1480.1 444.9l2-2.500" stroke="#111" stroke-width="0.8" fill="none"/>
<path d="M1478.6 435.6h5" stroke="#666" stroke-width="0.7" fill="none" stroke-dasharray="1.600 1"/>
<ellipse cx="1494.3" cy="439.9" rx="2" ry="2.600" fill="#bbb" stroke="#222" stroke-width="0.8"/>
<path d="M1492.8 438.4l3 3M1495.8 438.4l-3 3" stroke="#111" stroke-width="0.8" fill="none"/>
<path d="M1491.8 443.9l4.500-5M1493.3 444.9l2-2.500" stroke="#111" stroke-width="0.8" fill="none"/>
<path d="M1491.8 435.6h5" stroke="#666" stroke-width="0.7" fill="none" stroke-dasharray="1.600 1"/>
<path d="M1478.7 434.500H1495.7" stroke="#555" stroke-width="0.7" fill="none" stroke-dasharray="2.400 1.400"/>
<path d="M1496.5 439.5 H1499.5 V482.5" stroke="#222" stroke-width="0.8" fill="none"/>
<path d="M1449.1 360.500V378H1453.4" stroke="#555" stroke-width="0.7" fill="none" stroke-dasharray="2.400 1.400"/>
<text transform="translate(1495.2 448) rotate(90) translate(0 1.1) scale(0.403 0.530)" font-family="Liberation Mono" font-size="6.0" font-weight="normal" text-anchor="start" fill="#222">BOAN7</text>
<text transform="translate(1488.7 448) rotate(90) translate(0 1.1) scale(0.403 0.530)" font-family="Liberation Mono" font-size="6.0" font-weight="normal" text-anchor="start" fill="#222">290 bar</text>
<text transform="translate(1483.7 448) rotate(90) translate(0 1.1) scale(0.403 0.530)" font-family="Liberation Mono" font-size="6.0" font-weight="normal" text-anchor="start" fill="#222">290 bar</text>
<text transform="translate(1478.7 448) rotate(90) translate(0 1.1) scale(0.403 0.530)" font-family="Liberation Mono" font-size="6.0" font-weight="normal" text-anchor="start" fill="#222">BOAN7</text>
<path d="M1440.2 355.9l2.400 1.500-2.400 1.500M1446.7 355.9l-2.400 1.500 2.400 1.500" stroke="#111" stroke-width="0.8" fill="none"/>
<path d="M1440.2 430l2.400 1.500-2.400 1.500M1446.7 430l-2.400 1.500 2.400 1.500" stroke="#111" stroke-width="0.8" fill="none"/>
<path d="M1440.2 480.8l2.400 1.500-2.400 1.500M1446.7 480.8l-2.400 1.500 2.400 1.500" stroke="#111" stroke-width="0.8" fill="none"/>
<path d="M1515.5 357.5 V395.5 H1522.5" stroke="#222" stroke-width="0.8" fill="none"/>
<path d="M1515.5 388.5 H1522.5" stroke="#222" stroke-width="0.8" fill="none"/>
<rect x="1522.2" y="386.2" width="4.7" height="9.4" fill="#fff" stroke="#222" stroke-width="0.9"/>
<path d="M1522.200 389.300h4.700M1522.200 392.400h4.700" stroke="#222" stroke-width="0.7" fill="none"/>
<path d="M1524.5 379.5 L1526 380.1 L1523 381.2 L1526 382.3 L1523 383.4 L1526 384.5 L1523 385.6 L1524.5 386.2" stroke="#2b2b2b" stroke-width="0.7" fill="none"/>
<path d="M1526.5 392.5 H1536.5 V431.5" stroke="#222" stroke-width="0.8" fill="none"/>
<path d="M1524 360.500V379" stroke="#555" stroke-width="0.7" fill="none" stroke-dasharray="2.400 1.400"/>
<text transform="translate(1529 366) rotate(90) translate(0 1.1) scale(0.403 0.530)" font-family="Liberation Mono" font-size="6.0" font-weight="normal" text-anchor="start" fill="#222">40 bar</text>
<circle cx="1508.6" cy="357.4" r="1.1" fill="#fff" stroke="#333" stroke-width="0.7"/>
<circle cx="1508.6" cy="431.5" r="1.1" fill="#fff" stroke="#333" stroke-width="0.7"/>
<circle cx="1544.8" cy="357.4" r="1.1" fill="#fff" stroke="#333" stroke-width="0.7"/>
<circle cx="1544.8" cy="431.5" r="1.1" fill="#fff" stroke="#333" stroke-width="0.7"/>
<circle cx="1508.6" cy="482.3" r="1.5" fill="#111"/>
<circle cx="1515.2" cy="388" r="1.1" fill="#111"/>
<circle cx="1273.2" cy="431.5" r="1" fill="#111"/>
<circle cx="1325.6" cy="431.5" r="1" fill="#111"/>
<circle cx="1308.7" cy="391.3" r="1" fill="#111"/>
<circle cx="1313.4" cy="482.3" r="1" fill="#111"/>
<circle cx="1321.1" cy="482.3" r="1" fill="#111"/>
<circle cx="1329.4" cy="482.3" r="1" fill="#111"/>
<circle cx="1377" cy="482.3" r="1" fill="#111"/>
<circle cx="1377" cy="431.5" r="1" fill="#111"/>
<circle cx="1282.3" cy="482.3" r="1" fill="#111"/>
<circle cx="1427.5" cy="391.3" r="1" fill="#111"/>
<circle cx="1430.5" cy="394.3" r="1" fill="#111"/>
<circle cx="1486.2" cy="391.3" r="1" fill="#111"/>
<circle cx="1489.2" cy="394.3" r="1" fill="#111"/>
<circle cx="1441.2" cy="482.3" r="1" fill="#111"/>
<circle cx="1499.9" cy="482.3" r="1" fill="#111"/>
<circle cx="1393.6" cy="431.5" r="1" fill="#111"/>
<circle cx="1452.3" cy="431.5" r="1" fill="#111"/>
<circle cx="1203.6" cy="431.5" r="1" fill="#111"/>
<circle cx="1199.8" cy="349.4" r="1" fill="#fff" stroke="#333" stroke-width="0.6"/>
<circle cx="1213.4" cy="349.4" r="1" fill="#fff" stroke="#333" stroke-width="0.6"/>
<circle cx="1232.9" cy="349.4" r="1" fill="#fff" stroke="#333" stroke-width="0.6"/>
<circle cx="1283.9" cy="349.4" r="1" fill="#fff" stroke="#333" stroke-width="0.6"/>
<circle cx="1308.7" cy="349.4" r="1" fill="#fff" stroke="#333" stroke-width="0.6"/>
<circle cx="1313.4" cy="349.4" r="1" fill="#fff" stroke="#333" stroke-width="0.6"/>
<circle cx="1361.6" cy="349.4" r="1" fill="#fff" stroke="#333" stroke-width="0.6"/>
<circle cx="1366.3" cy="349.4" r="1" fill="#fff" stroke="#333" stroke-width="0.6"/>
<circle cx="1427.5" cy="349.4" r="1" fill="#fff" stroke="#333" stroke-width="0.6"/>
<circle cx="1430.5" cy="349.4" r="1" fill="#fff" stroke="#333" stroke-width="0.6"/>
<circle cx="1486.2" cy="349.4" r="1" fill="#fff" stroke="#333" stroke-width="0.6"/>
<circle cx="1489.2" cy="349.4" r="1" fill="#fff" stroke="#333" stroke-width="0.6"/>
<circle cx="1188.4" cy="388.9" r="1" fill="#fff" stroke="#333" stroke-width="0.6"/>
<circle cx="1188.4" cy="431.5" r="1" fill="#fff" stroke="#333" stroke-width="0.6"/>
<circle cx="1298.5" cy="487.3" r="1" fill="#fff" stroke="#333" stroke-width="0.6"/>
<path d="M592.3 531.8 L598.2 537.7 L592.3 543.6 L586.4 537.7Z" stroke="#111" stroke-width="0.5" fill="#111"/>
<circle cx="592.3" cy="537.7" r="3.9" fill="#fff" stroke="#111" stroke-width="1"/>
<path d="M588.400 537.700h7.800M592.300 533.800v7.800" stroke="#111" stroke-width="0.9" fill="none"/>
<path d="M584 532.700h3l-2.200-1.200v2.400zM584 542.400h3l-2.200-1.200v2.400z" stroke="#111" stroke-width="0.6" fill="#111"/>
<circle cx="624.8" cy="539.4" r="7" fill="#fff" stroke="#222" stroke-width="0.9"/>
<path d="M621.800 533.400l3-1 3 1-3 4.200zM621.800 545.400l3 1 3-1-3-4.200z" stroke="#111" stroke-width="0.4" fill="#111"/>
<text transform="translate(624.8 541.2) scale(0.750 0.808)" font-family="Liberation Mono" font-size="6.0" font-weight="normal" text-anchor="middle" fill="#777">23cc</text>
<path d="M612.800 539.400H617.800" stroke="#333" stroke-width="0.9" fill="none"/>
<ellipse cx="610.300" cy="535.300" rx="2.300" ry="4" fill="#fff" stroke="#333" stroke-width="0.8"/><ellipse cx="610.300" cy="543.500" rx="2.300" ry="4" fill="#fff" stroke="#333" stroke-width="0.8"/>
<path d="M624.500 505.500V532.400" stroke="#333" stroke-width="0.9" fill="none"/>
<path d="M651.300 520.500H691.900M651.300 545.200H691.900M656.500 520.500V545.200M684.500 520.500V545.200" stroke="#333" stroke-width="0.8" fill="none"/>
<path d="M656.5 528.8 L658.3 531.2 L656.5 533.6 L654.7 531.2Z" stroke="#333" stroke-width="0.7" fill="#fff"/>
<rect x="681.5" y="528.5" width="6" height="7" fill="#fff" stroke="#222" stroke-width="0.9"/>
<rect x="678.5" y="532.5" width="4" height="7" fill="#fff" stroke="#222" stroke-width="0.8"/>
<path d="M684.500 524.500h4v4" stroke="#333" stroke-width="0.7" fill="none"/>
<text transform="translate(667 527.8) scale(0.444 0.631)" font-family="Liberation Mono" font-size="6.0" font-weight="bold" text-anchor="start" fill="#111">160 BAR</text>
<circle cx="656.5" cy="520.5" r="0.9" fill="#111"/>
<circle cx="684.5" cy="520.5" r="0.9" fill="#111"/>
<circle cx="656.5" cy="545.2" r="0.9" fill="#111"/>
<circle cx="684.5" cy="545.2" r="0.9" fill="#111"/>
<circle cx="684.5" cy="524.5" r="0.9" fill="#111"/>
<circle cx="684.5" cy="539.5" r="0.9" fill="#111"/>
<path d="M717.5 505.5 H768.5" stroke="#222" stroke-width="0.8" fill="none"/>
<path d="M717.5 570.5 H768.5" stroke="#222" stroke-width="0.8" fill="none"/>
<path d="M777.5 507.5 H820.5" stroke="#222" stroke-width="0.8" fill="none"/>
<path d="M777.5 572.5 H820.5" stroke="#222" stroke-width="0.8" fill="none"/>
<rect x="721.3" y="523.3" width="43.3" height="27.2" fill="none" stroke="#333" stroke-width="0.8"/>
<rect x="730.5" y="532.4" width="9" height="9.1" fill="#fff" stroke="#111" stroke-width="1"/>
<rect x="746.4" y="532.4" width="8.8" height="9.1" fill="#fff" stroke="#111" stroke-width="1"/>
<path d="M743.5 505.5 V534.5" stroke="#222" stroke-width="0.8" fill="none"/>
<path d="M742.5 545.5 V570.5" stroke="#222" stroke-width="0.8" fill="none"/>
<path d="M735.400 527.700H750.500V532.400M735.400 527.700V532.400M733 545.600H752M735 541.500V545.600M750.800 541.500V545.600" stroke="#222" stroke-width="0.8" fill="none"/>
<path d="M739.5 537 L740.4 539.2 L742.1 534.8 L743.9 539.2 L745.6 534.8 L746.5 537" stroke="#2b2b2b" stroke-width="0.9" fill="none"/>
<path d="M726 528v6M726 538h3M758 538h-3M759.500 540v6" stroke="#666" stroke-width="0.7" fill="none" stroke-dasharray="2 1.200"/>
<text transform="translate(752 530.5) scale(0.444 0.631)" font-family="Liberation Mono" font-size="6.0" font-weight="bold" text-anchor="start" fill="#111">234 BAR</text>
<text transform="translate(722.5 545.2) scale(0.444 0.631)" font-family="Liberation Mono" font-size="6.0" font-weight="bold" text-anchor="start" fill="#111">234 BAR</text>
<circle cx="735.4" cy="527.7" r="1.5" fill="#111"/>
<circle cx="743" cy="527.7" r="1.5" fill="#111"/>
<circle cx="743" cy="534.6" r="1.5" fill="#111"/>
<circle cx="742" cy="545.6" r="1.5" fill="#111"/>
<circle cx="750.8" cy="545.6" r="1.5" fill="#111"/>
<circle cx="743" cy="505.5" r="1.5" fill="#111"/>
<circle cx="742" cy="570.3" r="1.5" fill="#111"/>
<rect x="768.4" y="500.7" width="9.4" height="27" fill="#fff" stroke="#111" stroke-width="0.9"/>
<path d="M768.400 509.7h9.400M768.400 518.7h9.400" stroke="#111" stroke-width="0.8" fill="none"/>
<path d="M769.500 501.7l3.500 7l3.500-7M769.500 519.7l3.500 7l3.500-7M772 511.7h4v4h-4" stroke="#111" stroke-width="0.8" fill="none"/>
<path d="M773.1 494.4 L774.9 494.9 L771.3 496 L774.9 497 L771.3 498.1 L774.9 499.1 L771.3 500.2 L773.1 500.7" stroke="#2b2b2b" stroke-width="0.7" fill="none"/>
<rect x="771.5" y="527.7" width="3.8" height="5.6" fill="#fff" stroke="#222" stroke-width="0.8"/>
<rect x="768.4" y="548.4" width="9.4" height="27" fill="#fff" stroke="#111" stroke-width="0.9"/>
<path d="M768.400 557.4h9.400M768.400 566.4h9.400" stroke="#111" stroke-width="0.8" fill="none"/>
<path d="M769.500 549.4l3.500 7l3.500-7M769.500 567.4l3.500 7l3.500-7M772 559.4h4v4h-4" stroke="#111" stroke-width="0.8" fill="none"/>
<path d="M773.1 575.4 L774.9 575.9 L771.3 577 L774.9 578 L771.3 579.1 L774.9 580.1 L771.3 581.2 L773.1 581.7" stroke="#2b2b2b" stroke-width="0.7" fill="none"/>
<rect x="771.5" y="542.1" width="3.8" height="6.3" fill="#fff" stroke="#222" stroke-width="0.8"/>
<path d="M773.400 533.300V542" stroke="#333" stroke-width="0.8" fill="none"/>
<circle cx="773.4" cy="537.1" r="1.5" fill="#111"/>
<path d="M775 537.100H791" stroke="#999" stroke-width="0.8" fill="none" stroke-dasharray="2.400 1.600"/>
<path d="M782.5 507.5 V567.5 H777.5" stroke="#222" stroke-width="0.8" fill="none"/>
<path d="M782.5 532.5 H791.5" stroke="#222" stroke-width="0.8" fill="none"/>
<path d="M786.600 503.200V572.800" stroke="#666" stroke-width="0.8" fill="none" stroke-dasharray="3 2"/>
<path d="M780.300 503.200H787" stroke="#666" stroke-width="0.7" fill="none"/>
<path d="M804.5 507.5 V572.5" stroke="#222" stroke-width="0.8" fill="none"/>
<rect x="801" y="512.4" width="8.4" height="8.8" fill="#fff" stroke="#111" stroke-width="0.9"/>
<path d="M795.500 515.500l4 3M795.500 518.500l4-3M799.500 514v6" stroke="#111" stroke-width="0.9" fill="none"/>
<text transform="translate(811 518.1) scale(0.389 0.556)" font-family="Liberation Mono" font-size="6.0" font-weight="normal" text-anchor="start" fill="#222">40k</text>
<rect x="791.6" y="530.2" width="8.8" height="17.6" fill="#fff" stroke="#111" stroke-width="0.9"/>
<path d="M791.600 539h8.800M792.500 531l3.500 7 3.500-7M793 541v4h4v-4" stroke="#111" stroke-width="0.8" fill="none"/>
<path d="M795.8 523.5 L797.6 524 L794 525.1 L797.6 526.2 L794 527.3 L797.6 528.4 L794 529.5 L795.8 530" stroke="#2b2b2b" stroke-width="0.7" fill="none"/>
<rect x="794" y="548.3" width="3.8" height="5.7" fill="#fff" stroke="#222" stroke-width="0.8"/>
<path d="M794 554l3.800-5.700" stroke="#222" stroke-width="0.7" fill="none"/>
<text transform="translate(793 558.1) scale(0.389 0.556)" font-family="Liberation Mono" font-size="6.0" font-weight="normal" text-anchor="start" fill="#222">YRB</text>
<path d="M800.400 534.600H804.800" stroke="#222" stroke-width="0.8" fill="none"/>
<circle cx="780.3" cy="503.2" r="1.5" fill="#111"/>
<circle cx="782.2" cy="532.4" r="1.5" fill="#111"/>
<circle cx="796" cy="507.6" r="1.5" fill="#111"/>
<circle cx="804.8" cy="507.6" r="1.5" fill="#111"/>
<circle cx="804.8" cy="523.3" r="1.5" fill="#111"/>
<circle cx="804.8" cy="534.6" r="1.5" fill="#111"/>
<circle cx="780.3" cy="572.8" r="1.5" fill="#111"/>
<circle cx="786.6" cy="572.8" r="1.5" fill="#111"/>
<circle cx="804.8" cy="572.8" r="1.5" fill="#111"/>
<circle cx="717.3" cy="505.5" r="1.1" fill="#fff" stroke="#333" stroke-width="0.7"/>
<circle cx="717.3" cy="570.3" r="1.1" fill="#fff" stroke="#333" stroke-width="0.7"/>
<circle cx="820.7" cy="507.6" r="1.1" fill="#fff" stroke="#333" stroke-width="0.7"/>
<circle cx="820.7" cy="572.8" r="1.1" fill="#fff" stroke="#333" stroke-width="0.7"/>
<rect x="582.6" y="577.8" width="10.6" height="27.7" fill="#fff" stroke="#111" stroke-width="1"/>
<path d="M583.200 581L592.600 585.500L583.200 590L592.600 594.500L583.200 599L592.600 603.500" stroke="#111" stroke-width="1" fill="none"/>
<rect x="586" y="572.8" width="3.4" height="5" fill="#333" stroke="#111" stroke-width="0.9"/>
<path d="M578.800 567.800H587.700V572.800" stroke="#333" stroke-width="0.8" fill="none"/>
<path d="M578.800 567.800V602" stroke="#555" stroke-width="0.8" fill="none" stroke-dasharray="3 2"/>
<path d="M571.5 603.5 H582.5" stroke="#222" stroke-width="0.8" fill="none"/>
<path d="M593.5 601.5 H605.5" stroke="#222" stroke-width="0.8" fill="none"/>
<path d="M578.5 603.5 V623.5 H582.5" stroke="#222" stroke-width="0.8" fill="none"/>
<path d="M596.5 601.5 V623.5 H591.5" stroke="#222" stroke-width="0.8" fill="none"/>
<path d="M587.7 606.5 L589.3 607 L586.1 608 L589.3 609 L586.1 610 L589.3 611 L586.1 612 L587.7 612.5" stroke="#2b2b2b" stroke-width="0.7" fill="none"/>
<path d="M587.700 614.500v2.500M590 617.200h6.500" stroke="#555" stroke-width="0.8" fill="none" stroke-dasharray="2 1.400"/>
<rect x="582.6" y="622.2" width="9.2" height="8" fill="#fff" stroke="#222" stroke-width="0.9"/>
<path d="M587.2 630.2 L589 630.8 L585.4 632 L589 633.1 L585.4 634.3 L589 635.5 L585.4 636.6 L587.2 637.2" stroke="#2b2b2b" stroke-width="0.7" fill="none"/>
<circle cx="578.8" cy="603.8" r="1.5" fill="#111"/>
<circle cx="596.5" cy="601.3" r="1.5" fill="#111"/>
<circle cx="596.5" cy="617.2" r="1.5" fill="#111"/>
<circle cx="571.8" cy="599.6" r="1" fill="#fff" stroke="#333" stroke-width="0.6"/>
<circle cx="571.8" cy="603.8" r="1" fill="#fff" stroke="#333" stroke-width="0.6"/>
<circle cx="605.6" cy="601.3" r="1" fill="#fff" stroke="#333" stroke-width="0.6"/>
<path d="M641.5 642.5 V686.5" stroke="#222" stroke-width="0.8" fill="none"/>
<path d="M631.5 647.5 H661.5" stroke="#222" stroke-width="0.8" fill="none"/>
<path d="M631.5 672.5 H661.5" stroke="#222" stroke-width="0.8" fill="none"/>
<path d="M631.5 647.5 V672.5" stroke="#222" stroke-width="0.8" fill="none"/>
<path d="M650.5 647.5 V672.5" stroke="#222" stroke-width="0.8" fill="none"/>
<path d="M661.5 647.5 V672.5" stroke="#222" stroke-width="0.8" fill="none"/>
<path d="M631 652.3 L636.5 657.8 L631 663.3 L625.5 657.8Z" stroke="#222" stroke-width="0.9" fill="#fff"/>
<path d="M629.500 657.800h3" stroke="#444" stroke-width="0.6" fill="none" stroke-dasharray="1 0.800"/>
<path d="M631 665.8 L633 667.8 L631 669.8 L629 667.8Z" stroke="#222" stroke-width="0.8" fill="#fff"/>
<rect x="638.8" y="652.8" width="4.8" height="9.8" fill="#fff" stroke="#333" stroke-width="0.9"/>
<rect x="640.3" y="654.5" width="1.9" height="6" fill="none" stroke="#333" stroke-width="0.6"/>
<path d="M650.3 652 L651.8 652.5 L648.8 653.4 L651.8 654.3 L648.8 655.2 L651.8 656.1 L648.8 657 L650.3 657.5" stroke="#2b2b2b" stroke-width="0.7" fill="none"/>
<circle cx="650.3" cy="659.8" r="1.5" fill="#fff" stroke="#222" stroke-width="0.8"/>
<path d="M660 649.500h3.600M660 651h3.600" stroke="#222" stroke-width="0.7" fill="none"/>
<path d="M661.8 660 L663.5 662.5 L661.8 665 L660.1 662.5Z" stroke="#222" stroke-width="0.8" fill="#fff"/>
<path d="M660.300 668.500l3 3M663.300 668.500l-3 3" stroke="#222" stroke-width="0.6" fill="none"/>
<circle cx="631" cy="647.1" r="0.9" fill="#111"/>
<circle cx="641.3" cy="647.1" r="0.9" fill="#111"/>
<circle cx="650.3" cy="647.1" r="0.9" fill="#111"/>
<circle cx="661.8" cy="647.1" r="0.9" fill="#111"/>
<circle cx="631" cy="672.4" r="0.9" fill="#111"/>
<circle cx="641.3" cy="672.4" r="0.9" fill="#111"/>
<circle cx="650.3" cy="672.4" r="0.9" fill="#111"/>
<circle cx="661.8" cy="672.4" r="0.9" fill="#111"/>
<circle cx="641.3" cy="642.8" r="1" fill="#fff" stroke="#333" stroke-width="0.6"/>
<circle cx="641.3" cy="686" r="1" fill="#fff" stroke="#333" stroke-width="0.6"/>
<path d="M661.500 711.500h3.600" stroke="#222" stroke-width="0.8" fill="none"/>
<path d="M663.5 711.5 V730.5 H672.5 V728.5" stroke="#222" stroke-width="0.8" fill="none"/>
<path d="M663.5 714.5 H672.5 V723.5" stroke="#222" stroke-width="0.8" fill="none"/>
<circle cx="663.3" cy="719.9" r="1.5" fill="#fff" stroke="#222" stroke-width="0.8"/>
<path d="M663.3 723 L666 725.7 L663.3 728.4 L660.6 725.7Z" stroke="#222" stroke-width="0.9" fill="#fff"/>
<rect x="670.4" y="723.6" width="4" height="4.4" fill="#fff" stroke="#111" stroke-width="1"/>
<path d="M666.500 725.700h3.800" stroke="#111" stroke-width="1.3" fill="none"/>
<path d="M675 724v1.500h2M676 728.500h1.500" stroke="#555" stroke-width="0.6" fill="none"/>
<path d="M672.5 728.5 V742.5 H699.5 V748.5" stroke="#222" stroke-width="0.8" fill="none"/>
<circle cx="672.7" cy="736.5" r="1" fill="#fff" stroke="#333" stroke-width="0.6"/>
<path d="M731.5 748.5 V765.5" stroke="#333" stroke-width="0.8" fill="none"/>
<path d="M744.5 748.5 V780.5" stroke="#333" stroke-width="0.8" fill="none"/>
<path d="M762.5 748.5 V780.5" stroke="#333" stroke-width="0.8" fill="none"/>
<path d="M775.5 748.5 V780.5" stroke="#333" stroke-width="0.8" fill="none"/>
<path d="M842.5 748.5 V780.5" stroke="#333" stroke-width="0.8" fill="none"/>
<path d="M788.5 748.5 V774.5" stroke="#333" stroke-width="0.8" fill="none"/>
<path d="M788.8 774.2 L794.1 779.5 L788.8 784.8 L783.5 779.5Z" stroke="#333" stroke-width="0.8" fill="#fff"/>
<path d="M786.3 779.500h5" stroke="#555" stroke-width="0.6" fill="none" stroke-dasharray="1.200 1"/>
<path d="M814.5 748.5 V774.5" stroke="#333" stroke-width="0.8" fill="none"/>
<path d="M814.5 774.2 L819.8 779.5 L814.5 784.8 L809.2 779.5Z" stroke="#333" stroke-width="0.8" fill="#fff"/>
<path d="M812 779.500h5" stroke="#555" stroke-width="0.6" fill="none" stroke-dasharray="1.200 1"/>
<path d="M869.5 748.5 V774.5" stroke="#333" stroke-width="0.8" fill="none"/>
<path d="M869 774.2 L874.3 779.5 L869 784.8 L863.7 779.5Z" stroke="#333" stroke-width="0.8" fill="#fff"/>
<path d="M866.5 779.500h5" stroke="#555" stroke-width="0.6" fill="none" stroke-dasharray="1.200 1"/>
<circle cx="699.8" cy="748.7" r="1" fill="#fff" stroke="#333" stroke-width="0.6"/>
<circle cx="731.7" cy="748.7" r="1" fill="#fff" stroke="#333" stroke-width="0.6"/>
<circle cx="744.9" cy="748.7" r="1" fill="#fff" stroke="#333" stroke-width="0.6"/>
<circle cx="762.7" cy="748.7" r="1" fill="#fff" stroke="#333" stroke-width="0.6"/>
<circle cx="775.6" cy="748.7" r="1" fill="#fff" stroke="#333" stroke-width="0.6"/>
<circle cx="788.8" cy="748.7" r="1" fill="#fff" stroke="#333" stroke-width="0.6"/>
<circle cx="814.5" cy="748.7" r="1" fill="#fff" stroke="#333" stroke-width="0.6"/>
<circle cx="842.2" cy="748.7" r="1" fill="#fff" stroke="#333" stroke-width="0.6"/>
<circle cx="869" cy="748.7" r="1" fill="#fff" stroke="#333" stroke-width="0.6"/>
<circle cx="788.8" cy="748.7" r="1.2" fill="#111"/>
<path d="M879.5 759.5 H889.5 V770.5" stroke="#222" stroke-width="0.8" fill="none"/>
<circle cx="889" cy="773" r="2.6" fill="#fff" stroke="#222" stroke-width="0.9"/>
<path d="M889 775.600V792M886 792h6" stroke="#222" stroke-width="0.8" fill="none"/>
<path d="M887.800 777l1.200 2 1.200-2z" stroke="#111" stroke-width="0.4" fill="#111"/>
<circle cx="879.8" cy="759.5" r="1" fill="#fff" stroke="#333" stroke-width="0.6"/>
<path d="M909.5 623 L934.4 623 L934.4 660.3 L909.5 660.3Z" stroke="#b0b0b0" stroke-width="1" fill="none" stroke-linejoin="round"/>
<path d="M909.5 623 L934.4 623 L934.4 660.3 L909.5 660.3Z" stroke="#1a1a1a" stroke-width="1.45" fill="none" stroke-dasharray="1.5 1" stroke-linejoin="round"/>
<path d="M921.5 623.5 V660.5" stroke="#222" stroke-width="0.8" fill="none"/>
<circle cx="921.7" cy="642" r="7" fill="#fff" stroke="#222" stroke-width="0.9"/>
<path d="M919 637.800l2.700-3.500 2.700 3.500z" stroke="#111" stroke-width="0.4" fill="#111"/>
<text transform="translate(921.7 644.1) scale(0.750 0.808)" font-family="Liberation Mono" font-size="6.0" font-weight="normal" text-anchor="middle" fill="#777">23cc</text>
<path d="M928.600 640.800H938.800M928.600 643.200H938.800M939.800 639V645" stroke="#333" stroke-width="0.8" fill="none"/>
<path d="M943 635.500q-2.500 6.500 0.500 13" stroke="#333" stroke-width="0.8" fill="none"/>
<circle cx="921.7" cy="623" r="1.2" fill="#fff" stroke="#333" stroke-width="0.7"/>
<circle cx="921.7" cy="660.3" r="1.2" fill="#fff" stroke="#333" stroke-width="0.7"/>
<path d="M975.1 574.3 L1077.2 574.3 L1077.2 682.3 L975.1 682.3Z" stroke="#b0b0b0" stroke-width="1" fill="none" stroke-linejoin="round"/>
<path d="M975.1 574.3 L1077.2 574.3 L1077.2 682.3 L975.1 682.3Z" stroke="#1a1a1a" stroke-width="1.45" fill="none" stroke-dasharray="1.5 1" stroke-linejoin="round"/>
<path d="M990.5 574.5 V644.5 H997.5 V648.5" stroke="#222" stroke-width="0.8" fill="none"/>
<circle cx="998.1" cy="654.9" r="6.6" fill="#fff" stroke="#222" stroke-width="0.9"/>
<path d="M990 663.200L1012.700 639.800" stroke="#222" stroke-width="0.9" fill="none"/>
<path d="M996 651.500l3.300-4 1.800 5z" stroke="#111" stroke-width="0.4" fill="#111"/>
<path d="M969.500 654.200H991.500M969.500 655.800H991.500" stroke="#777" stroke-width="1" fill="none"/>
<path d="M998.5 661.5 V663.5 H1023.5 V682.5" stroke="#222" stroke-width="0.8" fill="none"/>
<path d="M1012.700 638.500H1026.600M1012.700 640.300H1026.600" stroke="#333" stroke-width="0.8" fill="none"/>
<rect x="1026.6" y="635.4" width="21" height="8.1" fill="#fff" stroke="#222" stroke-width="0.9"/>
<path d="M1030 635.400v8.100" stroke="#222" stroke-width="0.8" fill="none"/>
<path d="M1030 643.500l2.900-8.100 2.900 8.100 2.900-8.100 2.900 8.100 2.900-8.100 3 8.100" stroke="#222" stroke-width="0.8" fill="none"/>
<rect x="1027.4" y="589.7" width="16.8" height="9.5" fill="#fff" stroke="#111" stroke-width="1"/>
<path d="M1036 589.7v9.500M1028.500 590.7l6.500 7.500M1038 592.2h4M1040 592.2v3" stroke="#111" stroke-width="0.8" fill="none"/>
<path d="M1044.2 595.2 L1044.7 596.9 L1045.7 593.5 L1046.7 596.9 L1047.7 593.5 L1048.7 596.9 L1049.7 593.5 L1050.2 595.2" stroke="#2b2b2b" stroke-width="0.7" fill="none"/>
<path d="M1045 598.7l4.500-9" stroke="#111" stroke-width="0.8" fill="none"/>
<path d="M1050 588.7l-2 1.800 1.800 0.800z" stroke="#111" stroke-width="0.4" fill="#111"/>
<rect x="1027.4" y="606.6" width="16.8" height="9.5" fill="#fff" stroke="#111" stroke-width="1"/>
<path d="M1036 606.6v9.500M1028.500 607.6l6.500 7.500M1038 609.1h4M1040 609.1v3" stroke="#111" stroke-width="0.8" fill="none"/>
<path d="M1044.2 612.1 L1044.7 613.8 L1045.7 610.4 L1046.7 613.8 L1047.7 610.4 L1048.7 613.8 L1049.7 610.4 L1050.2 612.1" stroke="#2b2b2b" stroke-width="0.7" fill="none"/>
<path d="M1045 615.6l4.500-9" stroke="#111" stroke-width="0.8" fill="none"/>
<path d="M1050 605.6l-2 1.800 1.800 0.800z" stroke="#111" stroke-width="0.4" fill="#111"/>
<path d="M1012.400 586.100H1072.800M1012.400 586.100V617.800M1012.400 594.400H1027.400M1012.400 602.500H1061M1012.400 611.200H1027.400M990 620H1012.400" stroke="#555" stroke-width="0.8" fill="none" stroke-dasharray="3 1.800"/>
<path d="M1072.800 586.100V682.300M1060.300 574.300V621.500M1041.700 586.100V630" stroke="#555" stroke-width="0.8" fill="none" stroke-dasharray="3 1.800"/>
<path d="M1050 592.400H1072.800M1050 608.500H1072.800M1041.700 621.500H1072.800M1008.500 647.400H1072.800" stroke="#555" stroke-width="0.8" fill="none" stroke-dasharray="3 1.800"/>
<path d="M1065 590.800v3.200M1067.500 590.800v3.200M1071 598.500l3.600 3M1074.600 598.500l-3.600 3M1050.500 620l3.600 3M1054.100 620l-3.600 3M1065.600 620l3.600 3M1069.200 620l-3.600 3" stroke="#222" stroke-width="0.7" fill="none"/>
<path d="M1064 677.100h4" stroke="#555" stroke-width="0.8" fill="none" stroke-dasharray="2 1.200"/>
<circle cx="1041.7" cy="602.5" r="0.9" fill="#111"/>
<circle cx="1060.3" cy="621.5" r="0.9" fill="#111"/>
<circle cx="1072.8" cy="621.5" r="0.9" fill="#111"/>
<circle cx="1072.8" cy="647.4" r="0.9" fill="#111"/>
<circle cx="1072.8" cy="592.4" r="0.9" fill="#111"/>
<circle cx="1072.8" cy="608.5" r="0.9" fill="#111"/>
<circle cx="1060.3" cy="592.4" r="0.9" fill="#111"/>
<circle cx="990" cy="574.3" r="1.1" fill="#fff" stroke="#333" stroke-width="0.7"/>
<circle cx="1060.3" cy="574.3" r="1.1" fill="#fff" stroke="#333" stroke-width="0.7"/>
<circle cx="1023.3" cy="682.3" r="1.1" fill="#fff" stroke="#333" stroke-width="0.7"/>
<circle cx="1072.5" cy="682.3" r="1.1" fill="#fff" stroke="#333" stroke-width="0.7"/>
<path d="M1144.2 637.9 L1200.4 637.9 L1200.4 695.4 L1144.2 695.4Z" stroke="#b0b0b0" stroke-width="1" fill="none" stroke-linejoin="round"/>
<path d="M1144.2 637.9 L1200.4 637.9 L1200.4 695.4 L1144.2 695.4Z" stroke="#1a1a1a" stroke-width="1.45" fill="none" stroke-dasharray="1.5 1" stroke-linejoin="round"/>
<path d="M1184.5 637.5 V695.5" stroke="#111" stroke-width="0.9" fill="none"/>
<path d="M1148.5 677.5 H1184.5" stroke="#222" stroke-width="0.8" fill="none"/>
<path d="M1195.5 637.5 V655.5 H1148.5 V666.5" stroke="#222" stroke-width="0.8" fill="none"/>
<path d="M1179.5 637.5 V659.5 H1169.5 V669.5" stroke="#222" stroke-width="0.8" fill="none"/>
<path d="M1184.5 645.5 H1208.5" stroke="#222" stroke-width="0.8" fill="none"/>
<circle cx="1189.7" cy="645.1" r="2.5" fill="#fff" stroke="#222" stroke-width="0.8"/>
<circle cx="1184.5" cy="669.3" r="2.2" fill="#fff" stroke="#222" stroke-width="0.8"/>
<rect x="1149.4" y="646.3" width="22.4" height="5.4" fill="#fff" stroke="#222" stroke-width="0.8"/>
<path d="M1155 646.300v5.400M1160.500 646.300v5.400M1166 646.300v5.400M1150.500 651l3.500-4M1156.500 647.500h3v3M1162 647.500l2.500 3.500" stroke="#222" stroke-width="0.7" fill="none"/>
<path d="M1172 649.5 L1172.6 651 L1173.9 648 L1175.1 651 L1176.4 648 L1177 649.5" stroke="#2b2b2b" stroke-width="0.8" fill="none"/>
<path d="M1165.300 637.900q0.500 6 4 8.400" stroke="#222" stroke-width="0.8" fill="none"/>
<rect x="1152.5" y="664.7" width="4.9" height="4.9" fill="#fff" stroke="#111" stroke-width="1"/>
<path d="M1148.5 666.5 H1152.5" stroke="#222" stroke-width="0.8" fill="none"/>
<path d="M1157.5 666.5 H1169.5" stroke="#222" stroke-width="0.8" fill="none"/>
<path d="M1154 669.600l2.500 4.500M1156.500 669.600l-2.500 4.500" stroke="#111" stroke-width="0.9" fill="none"/>
<rect x="1163.800" y="675" width="7.400" height="12.100" rx="2.500" fill="#fff" stroke="#111" stroke-width="1"/>
<path d="M1163.800 681h7.400M1163.800 684h7.400M1167.500 669v6M1167.500 687.100v3" stroke="#111" stroke-width="0.8" fill="none"/>
<path d="M1166 669l3 3.500M1169 669l-3 3.500" stroke="#111" stroke-width="0.8" fill="none"/>
<path d="M1148.600 673V693" stroke="#666" stroke-width="0.8" fill="none" stroke-dasharray="3 2"/>
<path d="M1178 675.500V689.500M1165 691.500h6" stroke="#666" stroke-width="0.8" fill="none" stroke-dasharray="3 2"/>
<path d="M1187 657.500l4-5" stroke="#111" stroke-width="1" fill="none"/>
<text transform="translate(1150 644.6) scale(0.417 0.581)" font-family="Liberation Mono" font-size="6.0" font-weight="bold" text-anchor="start" fill="#2a6fdb">HBL</text>
<text transform="translate(1171 663.9) scale(0.417 0.581)" font-family="Liberation Mono" font-size="6.0" font-weight="bold" text-anchor="start" fill="#2a6fdb">Ø4.75</text>
<text transform="translate(1185.8 661.1) scale(0.417 0.581)" font-family="Liberation Mono" font-size="6.0" font-weight="bold" text-anchor="start" fill="#2a6fdb">Ø4.75</text>
<text transform="translate(1157.5 672.6) scale(0.417 0.581)" font-family="Liberation Mono" font-size="6.0" font-weight="bold" text-anchor="start" fill="#2a6fdb">25BAR</text>
<path d="M1200.4 645.1h8.2" stroke="#2b2b2b" stroke-width="0.9" fill="none"/>
<path d="M1208.6 640.4h4.200v9.400h-4.200z" stroke="#2b2b2b" stroke-width="0.8" fill="#fff"/>
<path d="M1212.8 642.3h2.400a2.800 2.800 0 0 1 0 5.600h-2.400" stroke="#2b2b2b" stroke-width="0.8" fill="#fff"/>
<circle cx="1165.3" cy="637.9" r="1.3" fill="#111"/>
<circle cx="1179.6" cy="637.9" r="1.3" fill="#111"/>
<circle cx="1184.5" cy="637.9" r="1.3" fill="#111"/>
<circle cx="1195.1" cy="637.9" r="1.3" fill="#111"/>
<circle cx="1200.4" cy="645.1" r="1.3" fill="#111"/>
<circle cx="1148.6" cy="695.4" r="1.3" fill="#111"/>
<circle cx="1184.5" cy="695.4" r="1.3" fill="#111"/>
<circle cx="1169" cy="659.3" r="1.3" fill="#111"/>
<circle cx="1169" cy="666.5" r="1.3" fill="#111"/>
<path d="M1184.5 695.5 V710.5" stroke="#c96866" stroke-width="1" fill="none"/>
<circle cx="1183.9" cy="715.9" r="5.2" fill="#fff" stroke="#222" stroke-width="0.9"/>
<path d="M1181.900 713.300l2-2.500 2 2.500z" stroke="#111" stroke-width="0.4" fill="#111"/>
<text transform="translate(1183.9 717.7) scale(0.583 0.707)" font-family="Liberation Mono" font-size="6.0" font-weight="normal" text-anchor="middle" fill="#777">11cc</text>
<path d="M1189.100 715.900H1197M1193 712l4 2.500M1193 719.800l4-2.500M1195.500 711.500v8.800" stroke="#222" stroke-width="0.8" fill="none"/>
<rect x="1273.3" y="638.6" width="27.4" height="9.1" fill="#fff" stroke="#333" stroke-width="0.8"/>
<path d="M1273.300 643.200H1300.700M1286.700 638.600V643.200" stroke="#333" stroke-width="0.8" fill="none"/>
<circle cx="1279.8" cy="643.2" r="2.2" fill="#fff" stroke="#222" stroke-width="0.8"/>
<path d="M1294.500 640.500l3 2.700-3 2.700" stroke="#333" stroke-width="0.8" fill="none"/>
<path d="M1366.6 544.5 L1469.7 544.5 L1469.7 618.5 L1366.6 618.5Z" stroke="#b0b0b0" stroke-width="1" fill="none" stroke-linejoin="round"/>
<path d="M1366.6 544.5 L1469.7 544.5 L1469.7 618.5 L1366.6 618.5Z" stroke="#1a1a1a" stroke-width="1.45" fill="none" stroke-dasharray="1.5 1" stroke-linejoin="round"/>
<rect x="1387.4" y="561.6" width="9" height="36.5" fill="#fff" stroke="#111" stroke-width="1"/>
<path d="M1387.400 568.500h9M1387.400 575.500h9M1387.400 584.500h9M1387.400 591.500h9M1388.500 562.500l7 5.500M1388.500 569.500l7 5M1395.500 569.500l-7 5M1388.500 585.500l7 5M1395.500 585.500l-7 5M1388.500 592.500l7 5M1390 578h4v4" stroke="#111" stroke-width="0.8" fill="none"/>
<path d="M1389.500 556l2 2-2 1.500 2 2M1389.500 598.100l2 2-2 1.500 2 2" stroke="#111" stroke-width="0.8" fill="none"/>
<path d="M1394 561.600V551.500H1426.300V580.600" stroke="#111" stroke-width="1.5" fill="none"/>
<path d="M1400.5 579.5 V554.5 H1469.5" stroke="#222" stroke-width="0.8" fill="none"/>
<path d="M1400.5 583.5 V603.5 H1469.5" stroke="#222" stroke-width="0.8" fill="none"/>
<path d="M1366.5 608.5 H1454.5 V579.5 H1458.5" stroke="#222" stroke-width="0.8" fill="none"/>
<path d="M1366.5 569.5 H1372.5 V591.5 H1379.5" stroke="#222" stroke-width="0.8" fill="none"/>
<path d="M1379.5 583.5 V608.5" stroke="#222" stroke-width="0.8" fill="none"/>
<path d="M1379.5 583.5 H1387.5" stroke="#222" stroke-width="0.8" fill="none"/>
<path d="M1372 575.300H1387.400M1372 576.700H1387.400" stroke="#333" stroke-width="0.7" fill="none"/>
<path d="M1366.5 579.5 H1404.5" stroke="#222" stroke-width="0.8" fill="none"/>
<rect x="1404.500" y="570.800" width="14.700" height="17.800" rx="2" fill="none" stroke="#555" stroke-width="0.8"/>
<path d="M1396.400 577.500H1404.500M1396.400 581.500H1404.500" stroke="#555" stroke-width="0.8" fill="none"/>
<circle cx="1419" cy="579.9" r="4.9" fill="#fff" stroke="#111" stroke-width="1"/>
<path d="M1417 576l2-1 2 1-2 2.500zM1417 583.800l2 1 2-1-2-2.500z" stroke="#111" stroke-width="0.4" fill="#111"/>
<path d="M1372 586 L1373.8 588 L1372 590 L1370.2 588Z" stroke="#222" stroke-width="0.8" fill="#fff"/>
<path d="M1442.5 554.5 V603.5" stroke="#222" stroke-width="0.8" fill="none"/>
<path d="M1458.5 554.5 V603.5" stroke="#222" stroke-width="0.8" fill="none"/>
<path d="M1442.5 579.5 H1454.5" stroke="#222" stroke-width="0.8" fill="none"/>
<rect x="1438.6" y="561.6" width="6.6" height="7.9" fill="#fff" stroke="#111" stroke-width="1"/>
<path d="M1440.500 561.6v7.900" stroke="#111" stroke-width="0.7" fill="none"/>
<path d="M1445.2 566.1 L1445.8 567.4 L1447.1 564.8 L1448.3 567.4 L1449.6 564.8 L1450.2 566.1" stroke="#2b2b2b" stroke-width="0.7" fill="none"/>
<rect x="1438.6" y="589.4" width="6.6" height="7.9" fill="#fff" stroke="#111" stroke-width="1"/>
<path d="M1440.500 589.4v7.900" stroke="#111" stroke-width="0.7" fill="none"/>
<path d="M1445.2 593.9 L1445.8 595.2 L1447.1 592.6 L1448.3 595.2 L1449.6 592.6 L1450.2 593.9" stroke="#2b2b2b" stroke-width="0.7" fill="none"/>
<path d="M1434.500 559h3M1434.500 559v6h3M1434.500 600h3M1434.500 600v-6h3" stroke="#555" stroke-width="0.7" fill="none"/>
<path d="M1458.5 561.8 L1460.3 563.8 L1458.5 565.8 L1456.7 563.8Z" stroke="#222" stroke-width="0.8" fill="#fff"/>
<path d="M1458.5 585.6 L1460.3 587.6 L1458.5 589.6 L1456.7 587.6Z" stroke="#222" stroke-width="0.8" fill="#fff"/>
<ellipse cx="1394.400" cy="612.100" rx="2.800" ry="1.900" fill="#fff" stroke="#222" stroke-width="0.8"/>
<path d="M1394.400 598.100V610M1392.500 603l1.900-2 1.900 2" stroke="#111" stroke-width="0.9" fill="none"/>
<path d="M1362 578.200l3 2.800M1365 578.200l-3 2.800" stroke="#2a4fbb" stroke-width="0.8" fill="none"/>
<circle cx="1372" cy="576" r="1.6" fill="#111"/>
<circle cx="1379.3" cy="591.5" r="1.6" fill="#111"/>
<circle cx="1379.3" cy="608.4" r="1.6" fill="#111"/>
<circle cx="1442.1" cy="554.6" r="1.6" fill="#111"/>
<circle cx="1458.5" cy="554.6" r="1.6" fill="#111"/>
<circle cx="1442.1" cy="579.6" r="1.6" fill="#111"/>
<circle cx="1454.7" cy="579.6" r="1.6" fill="#111"/>
<circle cx="1458.5" cy="579.6" r="1.6" fill="#111"/>
<circle cx="1442.1" cy="603.3" r="1.6" fill="#111"/>
<circle cx="1458.5" cy="603.3" r="1.6" fill="#111"/>
<circle cx="1442.1" cy="559" r="1.6" fill="#111"/>
<circle cx="1442.1" cy="600" r="1.6" fill="#111"/>
<circle cx="1366.6" cy="569.4" r="1.3" fill="#fff" stroke="#333" stroke-width="0.7"/>
<circle cx="1366.6" cy="579.6" r="1.3" fill="#fff" stroke="#333" stroke-width="0.7"/>
<circle cx="1366.6" cy="608.4" r="1.3" fill="#fff" stroke="#333" stroke-width="0.7"/>
<path d="M1469.7 552.4 L1471.5 554.4 L1469.7 556.4 L1467.9 554.4Z" stroke="#333" stroke-width="0.7" fill="#fff"/>
<path d="M1469.7 601.3 L1471.5 603.3 L1469.7 605.3 L1467.9 603.3Z" stroke="#333" stroke-width="0.7" fill="#fff"/>
<rect x="1498.2" y="549.4" width="21.3" height="10.1" fill="#fff" stroke="#222" stroke-width="0.9"/>
<rect x="1503.4" y="549.4" width="2.8" height="10.1" fill="none" stroke="#222" stroke-width="0.8"/>
<path d="M1506.200 553.4H1528.600M1506.200 555.5H1528.600" stroke="#333" stroke-width="0.8" fill="none"/>
<rect x="1498.2" y="616.3" width="21.3" height="10.1" fill="#fff" stroke="#222" stroke-width="0.9"/>
<rect x="1503.4" y="616.3" width="2.8" height="10.1" fill="none" stroke="#222" stroke-width="0.8"/>
<path d="M1506.200 620.3H1528.600M1506.200 622.4H1528.600" stroke="#333" stroke-width="0.8" fill="none"/>
<rect x="1421.3" y="641.6" width="18.3" height="12.6" fill="#fff" stroke="#333" stroke-width="0.8"/>
<rect x="1423.3" y="647.3" width="9" height="3.2" fill="#888" stroke="#111" stroke-width="0.9"/>
<path d="M1432.6 644.1v7.6" stroke="#111" stroke-width="1.6" fill="none"/>
<path d="M1423.3 652.9l3.500-4" stroke="#333" stroke-width="0.7" fill="none"/>
<rect x="1505.5" y="637.8" width="17.5" height="13.3" fill="#fff" stroke="#333" stroke-width="0.8"/>
<rect x="1507.5" y="643.8" width="8.5" height="3.2" fill="#888" stroke="#111" stroke-width="0.9"/>
<path d="M1516.3 640.5v8" stroke="#111" stroke-width="1.6" fill="none"/>
<path d="M1507.5 649.8l3.500-4" stroke="#333" stroke-width="0.7" fill="none"/>
<text transform="translate(1440.5 643.2) scale(0.361 0.480)" font-family="Liberation Mono" font-size="6.0" font-weight="normal" text-anchor="start" fill="#111">46L05A</text>
<text transform="translate(1524.5 640) scale(0.361 0.480)" font-family="Liberation Mono" font-size="6.0" font-weight="normal" text-anchor="start" fill="#111">46L05A</text>
<rect x="1332.3" y="688.3" width="9" height="9" fill="#fff" stroke="#222" stroke-width="0.9"/>
<path d="M1334.500 688.300v9" stroke="#222" stroke-width="0.7" fill="none"/>
<path d="M1332.300 686.400H1327.300V693.500H1332.300" stroke="#777" stroke-width="0.8" fill="none" stroke-dasharray="2.400 1.600"/>
<path d="M1342.500 689.500l2 6 1.500-4 1.500 4 1-3M1345 695l2.500 3" stroke="#222" stroke-width="0.8" fill="none"/>
<path d="M1383.500 667.300H1490.900V741.500H1383.500Z" stroke="#444" stroke-width="0.8" fill="none" stroke-dasharray="8 3"/>
<path d="M1387.200 673.100H1420.800V738.600H1387.200Z" stroke="#555" stroke-width="0.8" fill="none" stroke-dasharray="4 2"/>
<path d="M1425.200 673.100H1487.200V738.600H1425.200Z" stroke="#555" stroke-width="0.8" fill="none" stroke-dasharray="4 2"/>
<rect x="1390.1" y="685.6" width="27.5" height="30.2" fill="none" stroke="#333" stroke-width="0.8"/>
<rect x="1388.5" y="682.5" width="15" height="3.1" fill="none" stroke="#333" stroke-width="0.7"/>
<path d="M1388.500 682.500V735.500H1420M1417.600 700V729.600H1408.500" stroke="#333" stroke-width="0.8" fill="none"/>
<path d="M1393 689.500l21 21M1394.500 688l21 21M1414 689.500l-21 21M1415.500 691l-21 21" stroke="#111" stroke-width="1" fill="none"/>
<path d="M1403.6 693.5 L1410 700 L1403.6 706.5 L1397.2 700Z" stroke="#111" stroke-width="0.9" fill="#fff"/>
<path d="M1396 692.500l5 5M1411 692.500l-5 5M1396 707.500l5-5M1411 707.500l-5-5" stroke="#111" stroke-width="1.8" fill="none"/>
<rect x="1400.9" y="726.5" width="7.6" height="6.3" fill="#fff" stroke="#333" stroke-width="0.8"/>
<circle cx="1404.7" cy="729.6" r="1.8" fill="#fff" stroke="#222" stroke-width="0.7"/>
<path d="M1403.400 728.300l2.600 2.600M1406 728.300l-2.600 2.600M1404.700 732.800V741.500" stroke="#222" stroke-width="0.7" fill="none"/>
<path d="M1417.600 693.500H1446M1417.600 699.400H1474.900" stroke="#888" stroke-width="1.8" fill="none"/>
<path d="M1420.500 679.500V735M1425.800 679.500V735" stroke="#333" stroke-width="0.9" fill="none"/>
<rect x="1450.7" y="667.3" width="16" height="18.3" fill="#fff" stroke="#333" stroke-width="0.8"/>
<path d="M1450.700 681.500h16" stroke="#333" stroke-width="0.7" fill="none"/>
<circle cx="1455" cy="677" r="1.8" fill="#fff" stroke="#222" stroke-width="0.8"/>
<circle cx="1462.4" cy="677" r="1.8" fill="#fff" stroke="#222" stroke-width="0.8"/>
<path d="M1453 674h4M1460.400 674h4M1455 679v3M1462.400 679v3M1458.700 672v14" stroke="#222" stroke-width="0.7" fill="none"/>
<rect x="1441.5" y="695.3" width="33.4" height="4.6" fill="none" stroke="#333" stroke-width="0.8"/>
<rect x="1445.7" y="692.4" width="23.3" height="4.7" fill="#999" stroke="#111" stroke-width="1"/>
<path d="M1449 692.400v4.700M1453 692.400v4.700M1457 692.400v4.700M1461 692.400v4.700M1465 692.400v4.700" stroke="#111" stroke-width="0.9" fill="none"/>
<path d="M1458.700 685.600V692.400M1428.500 735V686.500H1450.700" stroke="#333" stroke-width="0.8" fill="none"/>
<path d="M1428.500 688.500H1490.900M1428.500 690H1490.900" stroke="#777" stroke-width="0.9" fill="none"/>
<rect x="1443.9" y="704.7" width="38.6" height="11.7" fill="none" stroke="#333" stroke-width="0.8"/>
<rect x="1454.4" y="723.4" width="36.3" height="12.3" fill="none" stroke="#333" stroke-width="0.8"/>
<rect x="1431.6" y="721.4" width="14.1" height="20.1" fill="none" stroke="#333" stroke-width="0.8"/>
<rect x="1435.1" y="727.5" width="14.6" height="5.8" fill="#fff" stroke="#333" stroke-width="0.7"/>
<rect x="1439" y="729.3" width="8" height="2.7" fill="#888" stroke="#111" stroke-width="0.9"/>
<rect x="1456.5" y="707.5" width="9.5" height="4" fill="#888" stroke="#111" stroke-width="1"/>
<circle cx="1456.5" cy="713.5" r="2.2" fill="#fff" stroke="#555" stroke-width="0.8"/>
<circle cx="1471.5" cy="716" r="2.2" fill="#fff" stroke="#333" stroke-width="0.8"/>
<circle cx="1462" cy="728.5" r="2.5" fill="#fff" stroke="#333" stroke-width="0.8"/>
<path d="M1450 731H1460M1462 716.400V726M1444.500 700V741.500M1452.500 700V735M1459.500 700V705" stroke="#333" stroke-width="0.8" fill="none"/>
<rect x="1471.5" y="705.5" width="8.5" height="6" fill="none" stroke="#444" stroke-width="0.7"/>
<path d="M1487.200 690V735.700" stroke="#333" stroke-width="0.9" fill="none"/>
<circle cx="1490.9" cy="689.3" r="1.8" fill="#111"/>
<circle cx="1490.9" cy="716.4" r="1.2" fill="#111"/>
<circle cx="1490.9" cy="723" r="1.2" fill="#111"/>
<text transform="translate(1388.5 671.8) scale(0.361 0.480)" font-family="Liberation Mono" font-size="6.0" font-weight="normal" text-anchor="start" fill="#111">PVRE-ELH</text>
<text transform="translate(1425.5 675.5) scale(0.361 0.480)" font-family="Liberation Mono" font-size="6.0" font-weight="normal" text-anchor="start" fill="#111">Steering</text>
<text transform="translate(1425.5 678) scale(0.361 0.480)" font-family="Liberation Mono" font-size="6.0" font-weight="normal" text-anchor="start" fill="#111">Valve</text>
<text transform="translate(1425.5 680.5) scale(0.361 0.480)" font-family="Liberation Mono" font-size="6.0" font-weight="normal" text-anchor="start" fill="#111">Block</text>
<text transform="translate(1468.5 678.8) scale(0.361 0.480)" font-family="Liberation Mono" font-size="6.0" font-weight="normal" text-anchor="start" fill="#111">Right active</text>
<text transform="translate(1468.5 684.5) scale(0.361 0.480)" font-family="Liberation Mono" font-size="6.0" font-weight="normal" text-anchor="start" fill="#111">Shuttle valve</text>
<text transform="translate(1468.5 672) scale(0.361 0.480)" font-family="Liberation Mono" font-size="6.0" font-weight="normal" text-anchor="start" fill="#111">CF</text>
<text transform="translate(1399 724.6) scale(0.306 0.404)" font-family="Liberation Mono" font-size="6.0" font-weight="normal" text-anchor="start" fill="#111">P-parameter</text>
<text transform="translate(1443.5 691.4) scale(0.306 0.404)" font-family="Liberation Mono" font-size="6.0" font-weight="normal" text-anchor="start" fill="#111">Main spool</text>
<text transform="translate(1447 709.1) scale(0.306 0.404)" font-family="Liberation Mono" font-size="6.0" font-weight="normal" text-anchor="start" fill="#111">12 bar</text>
<text transform="translate(1462 721.9) scale(0.333 0.455)" font-family="Liberation Mono" font-size="6.0" font-weight="normal" text-anchor="start" fill="#111">35 bar</text>
<circle cx="1431.6" cy="741.5" r="1" fill="#111"/>
<circle cx="1444.5" cy="741.5" r="1" fill="#111"/>
<circle cx="1477.8" cy="741.5" r="1" fill="#111"/>
</svg>
</div>
</body></html>
